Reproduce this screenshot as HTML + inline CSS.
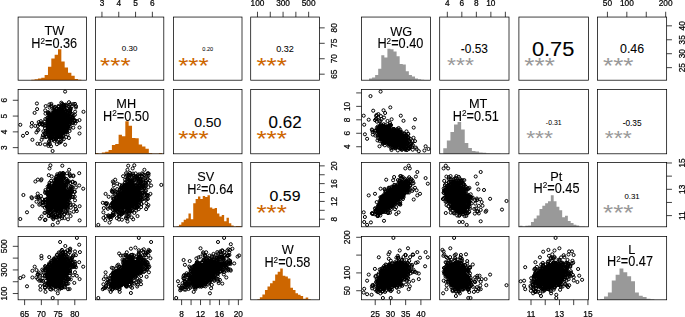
<!DOCTYPE html>
<html lang="en"><head><meta charset="utf-8"><title>Correlation matrices</title>
<style>html,body{margin:0;padding:0;background:#fff}svg{display:block}</style></head>
<body>
<svg width="685" height="317" viewBox="0 0 685 317" font-family='"Liberation Sans", Arial, Helvetica, sans-serif' text-anchor="middle">
<rect width="685" height="317" fill="#fff"/>
<defs><marker id="pt" markerUnits="userSpaceOnUse" markerWidth="5" markerHeight="5" refX="2.5" refY="2.5" overflow="visible"><circle cx="2.5" cy="2.5" r="1.55" fill="none" stroke="#000" stroke-width="1.0"/></marker></defs>
<path d="M31.26 80.20V79.65H34.60V80.20ZM34.60 80.20V79.23H37.94V80.20ZM37.94 80.20V78.54H41.28V80.20ZM41.28 80.20V77.70H44.63V80.20ZM44.63 80.20V75.07H47.97V80.20ZM47.97 80.20V66.75H51.31V80.20ZM51.31 80.20V58.42H54.65V80.20ZM54.65 80.20V54.68H58.00V80.20ZM58.00 80.20V49.13H61.34V80.20ZM61.34 80.20V61.61H64.68V80.20ZM64.68 80.20V67.44H68.02V80.20ZM68.02 80.20V72.71H71.37V80.20ZM71.37 80.20V75.76H74.71V80.20ZM74.71 80.20V79.09H78.05V80.20ZM78.05 80.20V79.65H81.40V80.20Z" fill="#CD6600"/>
<rect x="18.10" y="17.05" width="68.40" height="63.15" fill="none" stroke="#000" stroke-width="0.75"/>
<text transform="translate(129.60 51.41) scale(1 0.975)" font-size="8.0" stroke="#000" stroke-width="0.05">0.30</text>
<text transform="translate(115.35 73.06) scale(1 0.86)" font-size="26.10" fill="#CD6600">***</text>
<rect x="95.40" y="17.05" width="68.40" height="63.15" fill="none" stroke="#000" stroke-width="0.75"/>
<text transform="translate(207.75 50.65) scale(1 1.0)" font-size="5.6" stroke="#000" stroke-width="0.03">0.20</text>
<text transform="translate(193.45 73.06) scale(1 0.86)" font-size="26.10" fill="#CD6600">***</text>
<rect x="173.50" y="17.05" width="68.50" height="63.15" fill="none" stroke="#000" stroke-width="0.75"/>
<text transform="translate(285.05 51.86) scale(1 1.0)" font-size="9.1" stroke="#000" stroke-width="0.05">0.32</text>
<text transform="translate(271.70 73.06) scale(1 0.86)" font-size="26.10" fill="#CD6600">***</text>
<rect x="250.70" y="17.05" width="68.70" height="63.15" fill="none" stroke="#000" stroke-width="0.75"/>
<polyline points="58.4,112.0 56.2,127.6 63.0,136.0 62.5,122.6 63.5,122.8 52.4,137.3 45.0,134.3 48.3,126.0 53.2,122.2 61.6,113.4 60.3,120.8 53.7,131.1 61.5,127.2 62.1,119.0 62.0,117.2 56.5,118.0 60.3,128.9 61.2,125.5 57.0,119.1 47.8,120.6 51.5,115.8 67.2,132.3 59.7,110.0 54.3,119.6 53.2,122.7 53.3,122.1 56.7,133.7 56.9,135.0 73.0,117.8 61.9,127.8 59.4,113.9 55.4,121.9 63.3,125.3 67.3,113.3 53.5,130.4 54.5,124.8 45.0,128.1 61.8,126.2 60.5,119.1 59.4,121.6 53.2,123.8 63.5,119.2 55.2,125.1 58.2,119.1 53.1,130.5 60.0,126.4 67.3,120.1 47.9,112.7 61.6,133.0 61.1,120.4 60.2,123.3 63.3,124.8 70.2,110.9 55.1,124.8 59.3,130.5 48.2,134.3 58.0,114.6 59.1,119.8 61.7,128.1 56.8,125.9 55.4,119.2 65.2,123.5 63.4,125.5 60.4,126.1 61.3,122.2 60.3,131.2 45.2,133.1 59.2,122.5 66.2,119.6 51.2,131.1 56.3,121.5 53.7,122.7 54.7,137.0 59.1,131.5 49.7,123.5 46.0,136.8 69.7,124.3 53.1,131.9 63.7,120.5 76.0,106.2 52.3,120.9 64.3,113.7 60.3,111.8 67.0,119.0 61.7,123.4 60.5,142.0 69.6,104.8 42.2,123.9 57.3,122.0 55.2,121.8 60.1,122.6 54.5,128.8 64.8,118.0 58.9,121.2 54.2,124.9 60.9,125.8 60.4,109.3 60.5,127.7 52.8,125.0 57.9,126.9 66.9,115.2 56.3,116.6 57.9,134.4 49.8,124.9 63.0,104.5 53.6,128.4 67.2,116.2 48.2,129.3 55.3,123.1 55.1,129.8 56.1,115.5 56.9,119.7 51.1,106.5 56.9,144.2 53.3,120.1 64.4,109.5 63.3,133.2 50.0,118.9 57.5,130.8 65.2,125.8 56.0,114.5 49.9,117.5 59.7,130.4 60.3,120.4 63.2,120.3 57.4,120.2 49.9,115.0 49.1,122.1 63.6,133.2 52.0,116.9 61.2,129.1 61.3,119.8 49.2,130.6 54.6,116.7 58.4,124.4 60.3,111.5 58.1,119.0 61.6,134.3 52.0,136.2 57.0,131.4 57.2,113.3 56.5,131.2 67.4,115.3 69.1,125.1 59.7,135.7 37.8,126.0 63.6,120.7 69.8,128.4 48.8,113.8 70.5,118.9 59.6,120.5 64.0,131.7 52.0,124.0 49.7,113.3 56.9,114.0 56.8,120.0 59.6,125.1 53.8,124.6 54.9,122.2 46.5,137.0 60.6,112.4 40.9,121.2 65.8,132.3 53.1,133.7 63.8,130.1 55.3,131.0 56.4,126.4 70.3,121.7 70.0,120.9 53.6,126.8 59.1,120.5 63.9,123.7 60.8,123.5 50.9,121.0 60.2,123.3 54.2,115.5 72.6,122.6 57.2,134.7 64.6,120.7 51.2,114.4 56.1,108.5 58.7,123.9 48.6,120.5 54.1,130.1 53.7,132.0 58.9,121.4 59.5,137.2 54.4,113.9 54.3,137.0 52.2,114.6 61.3,122.1 51.3,140.5 48.8,124.0 75.1,123.5 66.1,129.0 65.9,122.9 66.4,130.8 73.4,104.0 62.3,138.1 49.4,131.7 62.6,119.9 57.4,114.1 55.0,106.8 64.0,117.3 58.6,121.7 59.0,115.2 61.3,102.7 72.0,118.4 70.1,116.7 50.2,117.7 57.2,137.2 52.1,117.3 61.7,109.6 58.7,123.3 61.5,122.6 73.2,123.0 62.1,118.5 48.3,126.1 50.4,133.4 61.9,119.8 43.4,131.3 73.3,127.7 63.7,118.5 55.1,123.1 57.5,121.1 67.4,127.2 60.5,128.1 42.5,137.3 48.6,144.1 54.0,130.7 63.0,128.1 48.9,120.1 68.2,113.3 62.9,130.9 53.1,124.3 67.3,112.4 61.5,123.0 53.2,114.9 48.2,126.4 45.2,110.4 65.8,121.6 59.4,125.3 49.1,141.3 60.8,119.4 54.0,126.7 57.1,132.6 58.6,123.4 58.9,130.4 61.7,123.0 57.8,137.1 36.4,132.4 63.0,122.5 49.2,124.1 65.2,124.4 69.2,106.7 50.4,127.3 48.7,124.8 58.0,124.5 59.6,127.6 43.1,124.3 57.1,124.1 55.2,138.4 55.9,119.4 51.4,123.7 59.9,110.4 62.8,117.4 59.6,124.8 49.2,125.9 55.3,110.4 54.1,132.5 55.9,125.0 51.6,128.6 50.5,126.9 52.1,130.0 63.6,122.4 60.0,119.7 56.1,122.1 64.4,131.4 54.7,120.3 57.4,125.1 61.6,137.0 54.9,120.7 58.6,110.0 48.2,130.3 59.4,117.2 55.7,139.4 67.5,126.2 71.9,114.0 64.1,109.2 60.5,121.6 56.3,121.2 48.6,127.5 51.2,134.9 75.0,120.8 51.0,146.3 48.2,126.4 60.3,119.0 63.9,124.3 56.1,134.0 52.2,134.1 41.5,123.0 54.3,123.9 58.3,131.5 49.3,129.1 61.4,115.8 49.2,122.0 57.9,123.5 60.2,117.1 52.6,125.9 43.0,135.1 55.5,121.3 52.7,124.7 48.2,127.3 57.4,124.9 51.8,126.4 57.8,114.7 69.5,123.3 37.7,130.4 45.5,125.3 64.0,123.2 65.6,119.6 56.2,124.8 57.2,122.6 58.7,120.0 63.1,116.8 56.2,124.7 63.1,133.0 59.7,135.5 63.0,111.0 60.1,111.8 57.5,121.5 53.9,112.0 58.2,136.5 62.0,107.5 65.2,120.5 55.6,116.8 69.9,108.4 47.5,117.9 51.0,138.4 50.4,132.2 56.2,124.7 61.9,129.7 59.2,125.9 55.0,116.3 62.1,124.9 48.5,119.3 45.3,131.8 62.1,109.4 66.1,123.6 62.0,103.8 70.2,126.7 70.6,114.3 52.2,119.7 62.2,120.4 60.7,122.3 71.7,116.8 52.2,134.5 67.7,116.2 63.7,112.8 66.3,125.4 63.2,126.7 66.3,128.9 62.5,119.1 61.9,116.6 59.5,137.2 50.4,124.0 55.0,127.8 60.8,120.2 58.4,122.1 63.3,121.1 52.7,124.7 66.5,121.5 63.8,125.4 63.5,113.0 50.5,132.5 55.4,125.2 50.2,137.6 51.6,130.6 55.1,124.7 61.2,119.8 59.2,121.9 60.6,119.6 62.3,120.2 58.1,130.2 57.7,135.5 56.2,127.6 55.1,127.3 60.8,131.6 60.8,131.1 66.1,114.3 67.8,110.8 50.0,134.8 58.6,124.8 62.1,129.0 55.9,121.3 59.5,112.6 64.6,119.7 57.6,110.8 67.8,117.2 65.0,125.1 57.0,124.3 55.3,120.0 61.3,122.5 51.3,103.9 48.4,130.3 61.5,125.6 49.5,121.2 58.6,121.7 47.8,120.3 54.6,141.1 52.5,128.4 55.3,126.0 53.9,124.9 70.0,118.4 64.5,129.0 61.6,131.1 47.7,129.1 49.1,123.1 55.5,123.2 72.8,119.9 61.4,129.5 51.7,119.7 57.2,126.2 51.6,123.7 66.2,136.9 51.3,122.3 65.9,130.9 50.7,127.4 47.8,128.8 50.3,118.8 56.8,121.6 47.4,117.9 63.5,127.1 65.6,105.5 64.0,105.0 61.6,134.1 62.1,126.4 61.3,121.7 69.1,110.8 55.2,111.5 57.8,122.9 66.1,116.6 53.7,125.1 65.0,120.7 49.9,138.7 67.3,121.0 59.6,124.8 61.7,119.9 63.3,111.4 57.4,133.7 62.0,122.4 67.6,134.7 49.1,131.1 59.7,120.2 65.1,122.5 56.3,116.7 61.1,115.5 60.8,111.2 66.9,121.0 65.2,121.8 57.5,121.0 53.6,122.3 75.9,107.4 67.4,117.5 58.4,106.0 57.1,116.4 65.9,120.2 55.5,125.3 67.7,128.5 70.2,110.0 53.4,123.7 62.1,133.6 48.4,145.9 47.7,130.6 57.3,119.6 63.4,105.0 61.7,106.2 56.6,116.1 61.1,118.8 54.7,117.1 64.4,123.5 56.1,122.2 73.5,115.7 58.8,120.8 53.9,125.3 57.4,120.9 52.8,123.7 62.3,112.3 56.0,116.4 62.2,116.3 70.8,122.1 58.9,112.5 60.2,118.3 60.6,124.2 53.3,123.5 55.2,115.0 58.5,119.6 52.7,110.5 51.0,122.3 59.7,121.0 51.7,134.0 58.8,125.5 47.4,121.5 63.0,121.3 53.3,123.9 48.8,117.9 64.1,125.6 56.9,121.6 51.0,138.1 64.3,128.0 48.8,122.5 48.2,119.6 52.1,129.3 59.8,121.6 44.4,125.7 60.2,118.7 61.0,113.0 63.8,114.9 54.7,120.8 66.0,119.4 55.8,127.0 55.9,122.7 42.5,125.0 60.6,136.7 59.6,136.3 56.4,121.5 53.0,113.4 74.9,114.7 56.5,121.3 57.4,120.4 64.3,118.3 57.3,114.2 61.0,107.8 50.1,137.0 58.6,120.9 59.3,135.0 67.0,124.1 56.0,123.7 64.0,124.8 53.7,121.4 56.5,111.9 59.4,131.6 60.7,116.9 50.3,120.9 64.7,123.3 48.6,114.9 55.1,120.8 68.4,117.3 56.6,125.2 62.2,112.8 53.7,122.6 60.6,126.1 65.6,119.4 56.0,120.9 58.1,118.7 68.0,126.9 60.9,113.1 50.0,137.0 48.6,135.2 49.6,107.6 60.5,111.6 67.8,124.6 53.3,119.9 54.1,109.9 59.2,119.6 60.1,123.8 65.4,124.1 54.8,121.7 65.8,111.1 46.9,125.3 59.2,133.9 52.2,126.5 51.7,129.8 59.6,141.5 54.2,108.2 50.8,134.2 56.6,121.2 49.1,124.5 56.7,121.5 60.6,126.7 61.8,130.6 71.8,106.3 75.1,111.7 57.3,117.4 66.8,118.0 57.0,117.8 47.3,124.0 38.4,129.7 66.5,128.3 50.2,132.3 59.3,142.8 51.3,118.7 61.5,124.1 54.7,137.4 56.6,109.1 60.6,128.9 40.3,143.9 57.3,135.3 58.7,126.6 55.8,115.0 50.7,132.0 58.8,121.0 70.2,113.2 50.8,121.6 45.7,106.1 64.8,131.4 48.6,142.6 56.0,113.8 56.7,125.4 59.6,124.8 55.5,121.9 66.2,131.2 55.2,118.3 57.8,121.3 52.0,133.3 60.5,121.2 63.8,123.8 58.8,124.3 69.0,102.2 62.7,128.1 39.9,123.8 58.7,121.3 63.7,124.7 57.3,130.3 63.0,118.0 38.7,122.1 66.3,123.4 61.7,124.5 53.9,129.1 76.8,121.1 47.8,131.0 53.8,139.3 65.8,111.5 58.7,117.0 71.7,119.4 50.5,118.7 63.1,114.7 54.5,122.9 64.9,120.8 59.0,122.7 57.0,117.7 72.3,117.3 54.6,112.3 66.7,105.6 61.0,114.4 64.5,125.1 60.1,115.5 60.6,123.1 60.1,121.4 59.2,106.6 54.9,118.0 70.6,104.1 67.0,125.0 65.7,129.2 61.9,124.4 57.7,126.4 54.0,123.2 58.1,115.1 63.8,112.1 62.1,124.7 51.3,115.8 59.5,128.7 56.7,117.5 45.5,113.6 54.2,119.6 66.4,122.5 66.7,120.5 64.1,107.2 58.8,117.3 60.5,111.6 56.2,122.8 71.8,122.8 64.4,120.3 59.0,116.7 48.2,132.7 56.0,120.9 57.2,128.9 48.6,125.5 55.6,138.1 56.9,116.1 53.1,123.3 61.2,141.3 57.1,113.5 51.0,134.1 55.1,127.4 60.5,122.1 49.9,120.5 61.8,114.4 75.0,103.9 68.0,118.8 64.3,120.6 46.9,132.5 60.1,121.3 70.2,109.4 59.2,114.0 54.4,122.9 63.7,128.3 51.8,115.1 58.9,130.1 65.8,127.9 57.2,112.5 67.3,113.1 61.6,121.0 61.8,137.4 62.1,119.0 59.0,135.5 51.7,133.3 70.0,119.1 62.2,121.9 48.5,113.5 60.3,121.9 48.3,112.1 53.1,128.7 51.4,123.0 50.2,124.7 59.1,121.7 65.1,118.9 61.2,111.2 69.6,131.0 63.8,139.1 49.0,131.5 48.1,124.0 59.2,112.5 56.0,119.3 58.8,113.8 60.4,119.5 64.2,105.2 48.8,121.7 57.1,113.0 59.9,124.5 57.2,120.5 65.7,123.5 56.2,123.4 74.8,120.2 59.9,131.6 56.8,129.6 55.5,124.8 60.2,123.4 57.9,117.8 54.9,123.0 52.6,125.8 48.6,132.2 54.5,126.8 51.6,129.1 58.0,131.2 64.9,108.9 56.0,126.0 54.9,123.8 50.5,126.1 62.2,123.4 65.1,121.8 60.3,116.0 59.0,125.3 51.1,118.4 54.8,122.5 49.5,121.0 53.3,132.9 54.4,108.0 65.4,110.3 61.0,120.7 65.9,104.6 61.5,114.2 59.7,121.6 58.6,121.3 62.4,126.1 63.2,127.6 51.5,105.6 62.4,124.7 51.7,129.3 57.0,124.1 52.4,124.2 61.9,127.0 59.7,123.7 60.5,121.7 56.3,112.4 55.8,121.4 60.0,122.2 48.6,123.7 60.1,126.6 60.7,127.2 60.8,131.2 55.1,125.8 74.4,121.0 47.6,131.3 55.8,121.6 39.3,124.4 53.4,129.9 54.2,125.5 63.2,106.9 59.1,115.6 59.9,111.0 60.6,123.5 70.9,108.5 53.3,139.4 57.2,132.5 59.2,136.7 49.9,144.2 55.6,111.1 59.6,116.7 56.7,119.7 55.5,124.1 58.8,122.5 54.8,116.9 61.0,131.8 58.8,118.6 59.0,127.8 63.0,117.2 67.8,126.8 62.3,120.1 58.1,124.4 69.1,122.2 59.9,127.4 57.8,122.3 45.0,144.5 62.6,118.1 63.3,123.4 55.0,129.8 59.7,123.8 66.2,121.2 52.7,137.1 62.7,114.9 55.9,116.1 62.7,122.2 66.8,108.3 59.9,115.7 51.7,127.7 41.6,139.8 53.5,137.3 60.3,128.2 44.5,137.1 63.1,126.4 58.7,126.6 61.5,114.1 56.3,121.9 48.3,124.7 50.7,135.2 60.0,127.3 58.8,106.5 54.6,115.2 56.0,139.8 61.2,111.3 59.7,126.5 53.0,132.4 53.8,127.7 59.3,132.1 45.0,121.3 51.7,120.2 64.3,130.5 68.6,120.0 55.2,112.7 59.2,116.3 45.3,119.1 58.4,109.4 52.5,128.6 56.1,121.1 61.6,111.4 60.5,135.9 60.9,128.6 62.7,132.4 59.9,118.8 60.9,115.5 56.7,122.7 61.3,135.8 56.2,128.5 56.2,138.6 52.8,123.7 51.0,126.2 50.1,117.3 56.3,112.9 66.7,124.3 57.5,117.9 65.1,91.6 36.9,103.5 49.4,104.4 37.1,109.1 34.6,112.9 20.3,124.8 31.9,123.0 31.5,126.4 35.3,125.9 27.0,133.1 23.0,135.8 32.4,139.8 37.5,143.8 52.6,151.0 83.5,111.8 79.5,120.1 79.5,127.5 79.5,133.5 65.1,144.7 68.9,138.0" fill="none" stroke="none" marker-start="url(#pt)" marker-mid="url(#pt)" marker-end="url(#pt)"/>
<rect x="18.10" y="89.55" width="68.40" height="64.25" fill="none" stroke="#000" stroke-width="0.75"/>
<path d="M95.11 153.80V152.97H98.47V153.80ZM98.47 153.80V153.52H101.82V153.80ZM101.82 153.80V152.41H105.18V153.80ZM105.18 153.80V151.86H108.54V153.80ZM108.54 153.80V150.06H111.89V153.80ZM111.89 153.80V144.92H115.25V153.80ZM115.25 153.80V144.09H118.60V153.80ZM118.60 153.80V134.80H121.96V153.80ZM121.96 153.80V136.19H125.32V153.80ZM125.32 153.80V121.21H128.67V153.80ZM128.67 153.80V125.78H132.03V153.80ZM132.03 153.80V137.99H135.39V153.80ZM135.39 153.80V138.27H138.74V153.80ZM138.74 153.80V144.51H142.10V153.80ZM142.10 153.80V146.59H145.46V153.80ZM145.46 153.80V148.81H148.81V153.80ZM148.81 153.80V152.97H152.17V153.80ZM152.17 153.80V153.52H155.53V153.80ZM155.53 153.80V153.52H158.88V153.80ZM158.88 153.80V152.97H162.24V153.80Z" fill="#CD6600"/>
<rect x="95.40" y="89.55" width="68.40" height="64.25" fill="none" stroke="#000" stroke-width="0.75"/>
<text transform="translate(207.75 127.38) scale(1 0.914)" font-size="14.0" stroke="#000" stroke-width="0.08">0.50</text>
<text transform="translate(193.45 146.26) scale(1 0.86)" font-size="26.10" fill="#CD6600">***</text>
<rect x="173.50" y="89.55" width="68.50" height="64.25" fill="none" stroke="#000" stroke-width="0.75"/>
<text transform="translate(285.05 128.41) scale(1 0.929)" font-size="17.0" stroke="#000" stroke-width="0.10">0.62</text>
<text transform="translate(271.70 146.26) scale(1 0.86)" font-size="26.10" fill="#CD6600">***</text>
<rect x="250.70" y="89.55" width="68.70" height="64.25" fill="none" stroke="#000" stroke-width="0.75"/>
<polyline points="58.4,179.0 56.2,195.8 63.0,191.1 62.5,200.1 63.5,198.2 52.4,202.7 45.0,207.8 48.3,192.9 53.2,191.2 61.6,193.7 60.3,185.4 53.7,216.1 61.5,187.3 62.1,185.3 62.0,207.5 56.5,198.3 60.3,195.8 61.2,189.3 57.0,182.7 47.8,192.9 51.5,204.2 67.2,204.4 59.7,173.4 54.3,180.2 53.2,197.8 53.3,194.7 56.7,206.9 56.9,193.3 73.0,197.1 61.9,202.4 59.4,192.2 55.4,214.1 63.3,193.9 67.3,180.7 53.5,205.7 54.5,197.0 45.0,199.8 61.8,205.0 60.5,189.6 59.4,207.9 53.2,202.4 63.5,192.0 55.2,203.2 58.2,205.5 53.1,203.8 60.0,207.5 67.3,204.3 47.9,204.9 61.6,200.5 61.1,186.5 60.2,192.3 63.3,206.6 70.2,194.4 55.1,198.3 59.3,206.8 48.2,197.8 58.0,195.0 59.1,198.9 61.7,212.2 56.8,191.2 55.4,186.3 65.2,190.9 63.4,193.8 60.4,185.2 61.3,206.0 60.3,197.1 45.2,202.2 59.2,193.2 66.2,192.2 51.2,189.4 56.3,200.7 53.7,210.1 54.7,206.7 59.1,199.1 49.7,201.2 46.0,202.4 69.7,196.1 53.1,203.3 63.7,201.8 76.0,209.1 52.3,198.0 64.3,189.8 60.3,185.4 67.0,194.9 61.7,187.8 60.5,208.8 69.6,173.9 42.2,199.1 57.3,208.3 55.2,193.2 60.1,190.3 54.5,185.4 64.8,198.6 58.9,190.9 54.2,184.3 60.9,195.5 60.4,185.7 60.5,195.7 52.8,201.3 57.9,186.8 66.9,193.4 56.3,193.1 57.9,202.6 49.8,200.2 63.0,198.9 53.6,202.6 67.2,199.2 48.2,194.3 55.3,188.2 55.1,198.0 56.1,176.9 56.9,210.6 51.1,180.8 56.9,203.1 53.3,189.3 64.4,186.8 63.3,202.2 50.0,199.1 57.5,199.5 65.2,195.9 56.0,190.9 49.9,187.8 59.7,209.2 60.3,201.9 63.2,185.4 57.4,196.0 49.9,200.2 49.1,185.7 63.6,208.4 52.0,192.9 61.2,207.5 61.3,189.8 49.2,201.5 54.6,183.1 58.4,188.7 60.3,194.2 58.1,190.6 61.6,210.1 52.0,214.7 57.0,200.6 57.2,189.1 56.5,196.0 67.4,208.3 69.1,189.3 59.7,200.5 37.8,179.6 63.6,198.2 69.8,195.2 48.8,175.2 70.5,195.4 59.6,180.8 64.0,214.5 52.0,206.8 49.7,201.4 56.9,204.2 56.8,191.6 59.6,194.9 53.8,195.9 54.9,183.2 46.5,206.4 60.6,193.4 40.9,196.0 65.8,192.9 53.1,197.0 63.8,194.5 55.3,200.5 56.4,194.3 70.3,204.8 70.0,202.6 53.6,186.2 59.1,196.2 63.9,196.7 60.8,178.1 50.9,204.0 60.2,203.7 54.2,199.6 72.6,181.6 57.2,200.5 64.6,183.7 51.2,191.8 56.1,179.4 58.7,199.5 48.6,204.2 54.1,195.8 53.7,206.3 58.9,199.1 59.5,191.9 54.4,190.6 54.3,203.9 52.2,202.7 61.3,190.5 51.3,216.7 48.8,204.3 75.1,206.3 66.1,212.3 65.9,203.4 66.4,204.4 73.4,175.5 62.3,203.3 49.4,205.6 62.6,202.9 57.4,200.3 55.0,183.2 64.0,189.1 58.6,202.0 59.0,186.5 61.3,180.7 72.0,191.2 70.1,189.3 50.2,197.0 57.2,213.4 52.1,206.1 61.7,180.0 58.7,187.0 61.5,194.9 73.2,194.2 62.1,190.3 48.3,209.8 50.4,204.2 61.9,181.1 43.4,205.2 73.3,176.2 63.7,173.6 55.1,208.0 57.5,193.2 67.4,191.9 60.5,200.0 42.5,205.5 48.6,216.0 54.0,195.1 63.0,199.5 48.9,195.5 68.2,182.0 62.9,204.5 53.1,195.4 67.3,192.5 61.5,184.2 53.2,195.4 48.2,207.3 45.2,192.9 65.8,191.5 59.4,194.8 49.1,215.9 60.8,211.2 54.0,204.8 57.1,209.6 58.6,176.5 58.9,204.4 61.7,193.9 57.8,215.3 36.4,197.2 63.0,175.1 49.2,185.9 65.2,206.9 69.2,191.3 50.4,196.0 48.7,199.4 58.0,193.7 59.6,196.9 43.1,201.8 57.1,196.6 55.2,190.8 55.9,192.2 51.4,201.6 59.9,196.5 62.8,175.5 59.6,196.8 49.2,201.7 55.3,183.3 54.1,205.2 55.9,190.8 51.6,206.2 50.5,194.9 52.1,201.1 63.6,206.8 60.0,192.7 56.1,187.5 64.4,194.9 54.7,192.6 57.4,197.1 61.6,206.6 54.9,196.0 58.6,199.7 48.2,201.3 59.4,203.7 55.7,207.5 67.5,182.9 71.9,186.6 64.1,174.3 60.5,199.3 56.3,210.5 48.6,205.8 51.2,206.0 75.0,200.3 51.0,212.3 48.2,209.9 60.3,191.0 63.9,195.1 56.1,198.9 52.2,197.3 41.5,179.3 54.3,194.3 58.3,196.2 49.3,199.7 61.4,187.7 49.2,184.5 57.9,184.4 60.2,200.4 52.6,201.1 43.0,202.7 55.5,190.6 52.7,202.1 48.2,207.4 57.4,202.4 51.8,206.1 57.8,204.5 69.5,198.5 37.7,193.6 45.5,199.6 64.0,194.0 65.6,184.3 56.2,205.8 57.2,205.9 58.7,202.1 63.1,194.6 56.2,203.2 63.1,205.3 59.7,194.5 63.0,197.3 60.1,179.3 57.5,211.2 53.9,197.3 58.2,185.3 62.0,193.4 65.2,205.1 55.6,196.4 69.9,175.2 47.5,192.6 51.0,215.2 50.4,207.6 56.2,186.7 61.9,198.4 59.2,207.0 55.0,185.0 62.1,194.7 48.5,192.2 45.3,212.9 62.1,192.9 66.1,210.6 62.0,173.6 70.2,197.3 70.6,216.1 52.2,199.8 62.2,203.2 60.7,190.5 71.7,189.0 52.2,202.5 67.7,201.8 63.7,187.5 66.3,193.6 63.2,189.8 66.3,207.2 62.5,193.3 61.9,176.8 59.5,215.4 50.4,189.4 55.0,199.6 60.8,192.5 58.4,179.9 63.3,199.6 52.7,204.0 66.5,185.0 63.8,197.4 63.5,188.9 50.5,200.2 55.4,202.3 50.2,206.4 51.6,210.9 55.1,206.7 61.2,199.2 59.2,181.4 60.6,197.3 62.3,195.2 58.1,199.7 57.7,206.9 56.2,196.6 55.1,187.2 60.8,197.6 60.8,184.8 66.1,206.5 67.8,204.2 50.0,209.9 58.6,202.1 62.1,188.2 55.9,180.6 59.5,185.8 64.6,189.6 57.6,207.1 67.8,199.2 65.0,192.6 57.0,189.1 55.3,205.8 61.3,198.7 51.3,195.6 48.4,189.9 61.5,182.4 49.5,200.6 58.6,195.9 47.8,198.2 54.6,217.5 52.5,213.4 55.3,200.9 53.9,197.0 70.0,193.1 64.5,214.0 61.6,191.7 47.7,186.6 49.1,186.9 55.5,195.7 72.8,182.1 61.4,207.1 51.7,201.1 57.2,199.2 51.6,205.8 66.2,203.1 51.3,195.2 65.9,196.8 50.7,204.2 47.8,205.6 50.3,210.0 56.8,203.1 47.4,194.2 63.5,205.9 65.6,195.9 64.0,206.7 61.6,200.9 62.1,196.7 61.3,200.3 69.1,181.4 55.2,184.6 57.8,200.0 66.1,195.5 53.7,192.9 65.0,202.3 49.9,207.9 67.3,205.3 59.6,201.5 61.7,180.3 63.3,193.8 57.4,205.0 62.0,212.7 67.6,209.3 49.1,202.9 59.7,205.9 65.1,193.5 56.3,190.9 61.1,185.3 60.8,188.4 66.9,189.7 65.2,201.0 57.5,192.6 53.6,193.7 75.9,187.5 67.4,207.2 58.4,203.3 57.1,196.2 65.9,184.8 55.5,203.4 67.7,213.3 70.2,176.2 53.4,218.3 62.1,218.2 48.4,208.1 47.7,205.7 57.3,184.7 63.4,195.0 61.7,184.6 56.6,198.3 61.1,180.2 54.7,206.8 64.4,190.5 56.1,196.6 73.5,204.9 58.8,188.1 53.9,195.1 57.4,203.3 52.8,200.2 62.3,176.0 56.0,204.6 62.2,202.0 70.8,207.7 58.9,190.4 60.2,183.7 60.6,202.7 53.3,203.9 55.2,191.9 58.5,188.7 52.7,187.2 51.0,201.4 59.7,202.5 51.7,201.5 58.8,198.6 47.4,205.2 63.0,173.0 53.3,185.9 48.8,202.7 64.1,202.4 56.9,204.2 51.0,191.8 64.3,200.3 48.8,203.7 48.2,189.0 52.1,191.4 59.8,205.3 44.4,201.2 60.2,194.2 61.0,189.2 63.8,178.5 54.7,191.9 66.0,192.8 55.8,192.7 55.9,201.7 42.5,202.4 60.6,182.7 59.6,199.1 56.4,183.2 53.0,188.4 74.9,191.7 56.5,194.1 57.4,191.3 64.3,187.7 57.3,207.1 61.0,174.7 50.1,199.4 58.6,192.1 59.3,191.5 67.0,198.9 56.0,200.2 64.0,185.5 53.7,188.2 56.5,199.6 59.4,219.5 60.7,187.5 50.3,185.5 64.7,195.3 48.6,200.6 55.1,192.4 68.4,196.3 56.6,205.6 62.2,174.4 53.7,207.6 60.6,199.9 65.6,197.1 56.0,196.9 58.1,204.6 68.0,204.2 60.9,209.1 50.0,202.2 48.6,208.6 49.6,182.7 60.5,200.8 67.8,201.3 53.3,202.5 54.1,188.2 59.2,194.1 60.1,190.3 65.4,211.5 54.8,198.2 65.8,182.4 46.9,207.0 59.2,211.9 52.2,194.6 51.7,188.1 59.6,215.4 54.2,188.2 50.8,209.1 56.6,194.5 49.1,197.3 56.7,203.4 60.6,203.3 61.8,194.3 71.8,190.4 75.1,183.5 57.3,188.2 66.8,201.9 57.0,199.1 47.3,211.5 38.4,196.8 66.5,185.7 50.2,207.4 59.3,203.3 51.3,198.3 61.5,187.2 54.7,209.7 56.6,187.0 60.6,201.9 40.3,203.8 57.3,208.4 58.7,185.7 55.8,206.9 50.7,208.1 58.8,194.4 70.2,183.0 50.8,196.8 45.7,199.9 64.8,205.9 48.6,207.3 56.0,178.6 56.7,203.0 59.6,200.6 55.5,197.3 66.2,203.0 55.2,192.0 57.8,191.9 52.0,189.1 60.5,200.5 63.8,182.3 58.8,199.0 69.0,193.9 62.7,205.1 39.9,199.7 58.7,175.2 63.7,195.2 57.3,207.6 63.0,199.6 38.7,198.4 66.3,188.1 61.7,195.5 53.9,203.8 76.8,211.1 47.8,202.6 53.8,204.9 65.8,197.6 58.7,206.8 71.7,192.0 50.5,192.9 63.1,207.0 54.5,203.3 64.9,197.5 59.0,215.7 57.0,180.3 72.3,187.4 54.6,193.3 66.7,199.1 61.0,179.9 64.5,218.1 60.1,210.5 60.6,195.3 60.1,206.4 59.2,186.3 54.9,195.2 70.6,187.2 67.0,173.3 65.7,199.7 61.9,174.9 57.7,200.8 54.0,203.4 58.1,185.8 63.8,199.4 62.1,190.2 51.3,194.5 59.5,196.2 56.7,203.6 45.5,190.0 54.2,195.6 66.4,197.2 66.7,192.6 64.1,195.0 58.8,177.6 60.5,200.3 56.2,194.3 71.8,196.8 64.4,190.4 59.0,200.3 48.2,211.9 56.0,202.9 57.2,192.8 48.6,213.1 55.6,215.4 56.9,196.2 53.1,216.8 61.2,196.8 57.1,205.3 51.0,204.8 55.1,201.8 60.5,204.7 49.9,202.5 61.8,177.4 75.0,182.8 68.0,197.1 64.3,204.8 46.9,192.8 60.1,185.4 70.2,192.7 59.2,198.4 54.4,194.9 63.7,200.4 51.8,195.7 58.9,195.9 65.8,200.6 57.2,176.0 67.3,181.0 61.6,189.4 61.8,189.3 62.1,193.2 59.0,207.5 51.7,183.6 70.0,191.0 62.2,207.3 48.5,195.9 60.3,191.5 48.3,197.9 53.1,200.8 51.4,203.3 50.2,193.0 59.1,202.9 65.1,197.6 61.2,181.8 69.6,212.7 63.8,205.8 49.0,204.9 48.1,193.2 59.2,189.0 56.0,197.6 58.8,198.9 60.4,183.9 64.2,177.5 48.8,200.5 57.1,179.8 59.9,208.2 57.2,174.3 65.7,206.4 56.2,201.2 74.8,196.7 59.9,216.2 56.8,209.0 55.5,212.2 60.2,208.0 57.9,207.2 54.9,192.3 52.6,194.1 48.6,200.8 54.5,202.1 51.6,200.2 58.0,206.4 64.9,185.7 56.0,210.2 54.9,194.6 50.5,201.2 62.2,200.0 65.1,203.9 60.3,173.4 59.0,198.5 51.1,194.3 54.8,192.1 49.5,196.0 53.3,206.7 54.4,191.7 65.4,203.9 61.0,188.8 65.9,179.0 61.5,189.6 59.7,207.6 58.6,200.5 62.4,196.1 63.2,207.1 51.5,194.8 62.4,216.4 51.7,214.4 57.0,206.8 52.4,200.4 61.9,196.9 59.7,197.9 60.5,195.5 56.3,185.6 55.8,186.3 60.0,204.4 48.6,201.4 60.1,191.1 60.7,212.0 60.8,193.5 55.1,202.8 74.4,191.9 47.6,201.7 55.8,199.7 39.3,204.7 53.4,198.0 54.2,202.8 63.2,178.5 59.1,201.5 59.9,197.5 60.6,203.2 70.9,186.7 53.3,219.2 57.2,196.5 59.2,206.2 49.9,193.9 55.6,179.8 59.6,179.3 56.7,217.4 55.5,200.0 58.8,198.2 54.8,207.3 61.0,205.5 58.8,175.6 59.0,201.0 63.0,200.1 67.8,193.1 62.3,181.7 58.1,188.0 69.1,198.7 59.9,192.5 57.8,200.7 45.0,220.1 62.6,195.2 63.3,197.5 55.0,206.0 59.7,188.7 66.2,197.1 52.7,198.4 62.7,196.7 55.9,192.7 62.7,177.1 66.8,198.5 59.9,203.1 51.7,188.3 41.6,216.5 53.5,196.5 60.3,187.6 44.5,212.9 63.1,204.1 58.7,199.5 61.5,197.1 56.3,203.0 48.3,201.9 50.7,209.3 60.0,197.6 58.8,182.9 54.6,203.2 56.0,217.1 61.2,188.4 59.7,203.7 53.0,193.1 53.8,192.7 59.3,205.8 45.0,200.2 51.7,176.4 64.3,200.0 68.6,202.7 55.2,185.3 59.2,197.7 45.3,191.9 58.4,198.5 52.5,211.1 56.1,201.4 61.6,183.1 60.5,206.6 60.9,193.8 62.7,206.4 59.9,195.0 60.9,205.3 56.7,188.3 61.3,210.2 56.2,205.0 56.2,216.9 52.8,193.1 51.0,200.8 50.1,212.9 56.3,186.0 66.7,179.2 57.5,193.2 50.4,165.3 49.5,168.4 62.3,165.7 69.1,169.8 79.2,173.2 35.4,181.5 41.0,180.4 83.2,188.7 79.2,185.5 23.4,195.0 31.5,197.2 32.0,198.3 37.6,197.2 36.5,201.7 32.4,206.2 27.0,212.3 20.3,219.0 39.9,218.6 45.5,219.7 52.7,224.9 57.8,222.6 79.6,220.4 79.6,206.2 73.6,211.8 68.0,219.3" fill="none" stroke="none" marker-start="url(#pt)" marker-mid="url(#pt)" marker-end="url(#pt)"/>
<rect x="18.10" y="162.45" width="68.40" height="64.35" fill="none" stroke="#000" stroke-width="0.75"/>
<polyline points="139.8,179.0 123.3,195.8 114.4,191.1 128.6,200.1 128.4,198.2 112.9,202.7 116.2,207.8 125.0,192.9 129.1,191.2 138.4,193.7 130.5,185.4 119.6,216.1 123.8,187.3 132.5,185.3 134.4,207.5 133.5,198.3 121.9,195.8 125.5,189.3 132.3,182.7 130.8,192.9 135.8,204.2 118.3,204.4 142.0,173.4 131.8,180.2 128.5,197.8 129.1,194.7 116.8,206.9 115.4,193.3 133.7,197.1 123.1,202.4 137.8,192.2 129.4,214.1 125.7,193.9 138.5,180.7 120.4,205.7 126.2,197.0 122.8,199.8 124.7,205.0 132.3,189.6 129.7,207.9 127.3,202.4 132.2,192.0 125.9,203.2 132.4,205.5 120.2,203.8 124.6,207.5 131.3,204.3 139.2,204.9 117.5,200.5 130.9,186.5 127.9,192.3 126.3,206.6 141.0,194.4 126.2,198.3 120.2,206.8 116.2,197.8 137.2,195.0 131.6,198.9 122.7,212.2 125.1,191.2 132.2,186.3 127.6,190.9 125.5,193.8 124.9,185.2 129.0,206.0 119.5,197.1 117.4,202.2 128.7,193.2 131.8,192.2 119.6,189.4 129.8,200.7 128.5,210.1 113.3,206.7 119.1,199.1 127.6,201.2 113.5,202.4 126.8,196.1 118.7,203.3 130.8,201.8 146.1,209.1 130.5,198.0 138.1,189.8 140.2,185.4 132.4,194.9 127.8,187.8 107.9,208.8 147.6,173.9 127.2,199.1 129.3,208.3 129.5,193.2 128.6,190.3 122.0,185.4 133.5,198.6 130.1,190.9 126.1,184.3 125.2,195.5 142.8,185.7 123.2,195.7 126.0,201.3 124.0,186.8 136.5,193.4 135.0,193.1 116.1,202.6 126.1,200.2 147.9,198.9 122.5,202.6 135.4,199.2 121.4,194.3 128.1,188.2 120.9,198.0 136.2,176.9 131.7,210.6 145.8,180.8 105.6,203.1 131.3,189.3 142.5,186.8 117.4,202.2 132.5,199.1 119.9,199.5 125.2,195.9 137.2,190.9 134.1,187.8 120.3,209.2 130.9,201.9 131.0,185.4 131.2,196.0 136.7,200.2 129.2,185.7 117.4,208.4 134.7,192.9 121.7,207.5 131.6,189.8 120.0,201.5 134.9,183.1 126.7,188.7 140.4,194.2 132.5,190.6 116.1,210.1 114.2,214.7 119.3,200.6 138.5,189.1 119.4,196.0 136.3,208.3 126.0,189.3 114.6,200.5 125.0,179.6 130.7,198.2 122.4,195.2 137.9,175.2 132.5,195.4 130.8,180.8 118.9,214.5 127.1,206.8 138.5,201.4 137.8,204.2 131.4,191.6 126.0,194.9 126.5,195.9 129.1,183.2 113.3,206.4 139.5,193.4 130.1,196.0 118.3,192.9 116.8,197.0 120.6,194.5 119.7,200.5 124.6,194.3 129.6,204.8 130.4,202.6 124.2,186.2 130.8,196.2 127.4,196.7 127.7,178.1 130.3,204.0 127.9,203.7 136.2,199.6 128.6,181.6 115.7,200.5 130.7,183.7 137.3,191.8 143.7,179.4 127.3,199.5 130.9,204.2 120.6,195.8 118.6,206.3 129.9,199.1 113.0,191.9 137.9,190.6 113.3,203.9 137.1,202.7 129.1,190.5 109.5,216.7 127.1,204.3 127.7,206.3 121.8,212.3 128.3,203.4 119.9,204.4 148.4,175.5 112.1,203.3 118.9,205.6 131.5,202.9 137.7,200.3 145.4,183.2 134.2,189.1 129.6,202.0 136.5,186.5 149.8,180.7 133.1,191.2 134.9,189.3 133.8,197.0 113.0,213.4 134.3,206.1 142.5,180.0 127.9,187.0 128.6,194.9 128.2,194.2 133.0,190.3 124.8,209.8 117.2,204.2 131.6,181.1 119.4,205.2 123.1,176.2 133.0,173.6 128.1,208.0 130.2,193.2 123.7,191.9 122.7,200.0 113.0,205.5 105.7,216.0 120.0,195.1 122.7,199.5 131.3,195.5 138.5,182.0 119.8,204.5 126.8,195.4 139.4,192.5 128.2,184.2 136.8,195.4 124.6,207.3 141.7,192.9 129.7,191.5 125.7,194.8 108.7,215.9 132.1,211.2 124.2,204.8 117.9,209.6 127.7,176.5 120.3,204.4 128.2,193.9 113.2,215.3 118.2,197.2 128.8,175.1 127.0,185.9 126.7,206.9 145.6,191.3 123.6,196.0 126.3,199.4 126.6,193.7 123.3,196.9 126.8,201.8 127.1,196.6 111.8,190.8 132.0,192.2 127.4,201.6 141.6,196.5 134.1,175.5 126.3,196.8 125.1,201.7 141.6,183.3 118.1,205.2 126.0,190.8 122.2,206.2 124.0,194.9 120.8,201.1 128.8,206.8 131.7,192.7 129.1,187.5 119.2,194.9 131.0,192.6 126.0,197.1 113.3,206.6 130.6,196.0 142.0,199.7 120.4,201.3 134.4,203.7 110.7,207.5 124.8,182.9 137.8,186.6 142.9,174.3 129.7,199.3 130.1,210.5 123.4,205.8 115.5,206.0 130.5,200.3 103.4,212.3 124.6,209.9 132.4,191.0 126.8,195.1 116.4,198.9 116.4,197.3 128.2,179.3 127.3,194.3 119.1,196.2 121.7,199.7 135.9,187.7 129.3,184.5 127.6,184.4 134.5,200.4 125.1,201.1 115.3,202.7 130.0,190.6 126.3,202.1 123.6,207.4 126.2,202.4 124.6,206.1 137.0,204.5 127.9,198.5 120.4,193.6 125.7,199.6 128.0,194.0 131.8,184.3 126.3,205.8 128.7,205.9 131.4,202.1 134.8,194.6 126.4,203.2 117.6,205.3 114.9,194.5 141.0,197.3 140.1,179.3 129.7,211.2 139.9,197.3 113.8,185.3 144.7,193.4 130.8,205.1 134.8,196.4 143.8,175.2 133.6,192.6 111.8,215.2 118.4,207.6 126.4,186.7 121.1,198.4 125.1,207.0 135.3,185.0 126.1,194.7 132.1,192.2 118.8,212.9 142.7,192.9 127.6,210.6 148.7,173.6 124.3,197.3 137.5,216.1 131.7,199.8 130.9,203.2 128.9,190.5 134.8,189.0 116.0,202.5 135.4,201.8 139.1,187.5 125.7,193.6 124.2,189.8 121.9,207.2 132.3,193.3 135.0,176.8 113.0,215.4 127.1,189.4 123.0,199.6 131.2,192.5 129.1,179.9 130.2,199.6 126.4,204.0 129.8,185.0 125.7,197.4 138.8,188.9 118.0,200.2 125.8,202.3 112.7,206.4 120.1,210.9 126.4,206.7 131.6,199.2 129.3,181.4 131.8,197.3 131.2,195.2 120.5,199.7 114.9,206.9 123.3,196.6 123.6,187.2 119.0,197.6 119.6,184.8 137.4,206.5 141.2,204.2 115.6,209.9 126.2,202.1 121.8,188.2 130.0,180.6 139.2,185.8 131.7,189.6 141.1,207.1 134.4,199.2 126.0,192.6 126.8,189.1 131.4,205.8 128.7,198.7 148.6,195.6 120.4,189.9 125.4,182.4 130.1,200.6 129.6,195.9 131.0,198.2 109.0,217.5 122.4,213.4 125.0,200.9 126.1,197.0 133.1,193.1 121.7,214.0 119.6,191.7 121.7,186.6 128.1,186.9 128.0,195.7 131.4,182.1 121.3,207.1 131.7,201.1 124.8,199.2 127.4,205.8 113.4,203.1 128.9,195.2 119.8,196.8 123.5,204.2 122.0,205.6 132.6,210.0 129.7,203.1 133.7,194.2 123.8,205.9 146.9,195.9 147.4,206.7 116.4,200.9 124.6,196.7 129.6,200.3 141.1,181.4 140.5,184.6 128.3,200.0 135.0,195.5 125.9,192.9 130.7,202.3 111.5,207.9 130.3,205.3 126.2,201.5 131.5,180.3 140.5,193.8 116.8,205.0 128.8,212.7 115.7,209.3 119.6,202.9 131.1,205.9 128.7,193.5 134.9,190.9 136.1,185.3 140.8,188.4 130.3,189.7 129.5,201.0 130.3,192.6 128.9,193.7 144.8,187.5 134.1,207.2 146.3,203.3 135.2,196.2 131.2,184.8 125.7,203.4 122.3,213.3 142.0,176.2 127.4,218.3 116.9,218.2 103.8,208.1 120.1,205.7 131.8,184.7 147.3,195.0 146.0,184.6 135.5,198.3 132.7,180.2 134.5,206.8 127.7,190.5 129.0,196.6 135.9,204.9 130.6,188.1 125.7,195.1 130.4,203.3 127.4,200.2 139.6,176.0 135.3,204.6 135.3,202.0 129.1,207.7 139.4,190.4 133.2,183.7 126.9,202.7 127.6,203.9 136.7,191.9 131.8,188.7 141.5,187.2 128.9,201.4 130.3,202.5 116.4,201.5 125.6,198.6 129.7,205.2 130.0,173.0 127.2,185.9 133.6,202.7 125.4,202.4 129.7,204.2 112.1,191.8 122.9,200.3 128.8,203.7 131.8,189.0 121.5,191.4 129.6,205.3 125.3,201.2 132.8,194.2 138.8,189.2 136.8,178.5 130.6,191.9 132.0,192.8 123.9,192.7 128.5,201.7 126.1,202.4 113.6,182.7 114.0,199.1 129.8,183.2 138.4,188.4 137.1,191.7 130.0,194.1 131.0,191.3 133.2,187.7 137.6,207.1 144.4,174.7 113.3,199.4 130.4,192.1 115.4,191.5 127.0,198.9 127.5,200.2 126.3,185.5 129.9,188.2 140.0,199.6 119.0,219.5 134.6,187.5 130.4,185.5 127.9,195.3 136.9,200.6 130.5,192.4 134.2,196.3 125.8,205.6 139.0,174.4 128.6,207.6 124.9,199.9 132.1,197.1 130.4,196.9 132.8,204.6 124.0,204.2 138.7,209.1 113.3,202.2 115.2,208.6 144.6,182.7 140.3,200.8 126.5,201.3 131.5,202.5 142.2,188.2 131.8,194.1 127.4,190.3 127.0,211.5 129.6,198.2 140.9,182.4 125.8,207.0 116.6,211.9 124.5,194.6 121.0,188.1 108.5,215.4 144.0,188.2 116.3,209.1 130.1,194.5 126.5,197.3 129.8,203.4 124.3,203.3 120.1,194.3 145.9,190.4 140.3,183.5 134.1,188.2 133.5,201.9 133.8,199.1 127.1,211.5 121.0,196.8 122.5,185.7 118.3,207.4 107.1,203.3 132.8,198.3 127.0,187.2 112.9,209.7 143.0,187.0 121.9,201.9 106.0,203.8 115.1,208.4 124.4,185.7 136.7,206.9 118.6,208.1 130.4,194.4 138.6,183.0 129.7,196.8 146.2,199.9 119.2,205.9 107.4,207.3 138.0,178.6 125.6,203.0 126.3,200.6 129.3,197.3 119.4,203.0 133.2,192.0 130.0,191.9 117.2,189.1 130.1,200.5 127.4,182.3 126.8,199.0 150.4,193.9 122.8,205.1 127.4,199.7 130.0,175.2 126.4,195.2 120.4,207.6 133.6,199.6 129.2,198.4 127.8,188.1 126.6,195.5 121.7,203.8 130.3,211.1 119.7,202.6 110.8,204.9 140.5,197.6 134.6,206.8 132.0,192.0 132.7,192.9 137.1,207.0 128.3,203.3 130.5,197.5 128.5,215.7 133.9,180.3 134.3,187.4 139.5,193.3 146.7,199.1 137.3,179.9 125.9,218.1 136.2,210.5 128.1,195.3 129.9,206.4 145.6,186.3 133.5,195.2 148.3,187.2 126.0,173.3 121.6,199.7 126.7,174.9 124.6,200.8 128.0,203.4 136.6,185.8 139.8,199.4 126.4,190.2 135.8,194.5 122.1,196.2 134.0,203.6 138.2,190.0 131.9,195.6 128.7,197.2 130.8,192.6 145.0,195.0 134.3,177.6 140.3,200.3 128.4,194.3 128.4,196.8 131.1,190.4 134.9,200.3 117.9,211.9 130.4,202.9 121.9,192.8 125.5,213.1 112.1,215.4 135.5,196.2 127.8,216.8 108.7,196.8 138.3,205.3 116.4,204.8 123.6,201.8 129.1,204.7 130.8,202.5 137.4,177.4 148.5,182.8 132.6,197.1 130.8,204.8 118.0,192.8 130.0,185.4 142.7,192.7 137.8,198.4 128.3,194.9 122.5,200.4 136.6,195.7 120.6,195.9 123.0,200.6 139.4,176.0 138.8,181.0 130.3,189.4 112.8,189.3 132.4,193.2 114.9,207.5 117.2,183.6 132.4,191.0 129.3,207.3 138.3,195.9 129.3,191.5 139.8,197.9 122.1,200.8 128.1,203.3 126.4,193.0 129.6,202.9 132.6,197.6 140.8,181.8 119.7,212.7 111.0,205.8 119.2,204.9 127.1,193.2 139.4,189.0 132.2,197.6 138.0,198.9 131.9,183.9 147.1,177.5 129.6,200.5 138.8,179.8 126.6,208.2 130.9,174.3 127.7,206.4 127.7,201.2 131.2,196.7 119.0,216.2 121.1,209.0 126.3,212.2 127.8,208.0 133.7,207.2 128.2,192.3 125.2,194.1 118.4,200.8 124.1,202.1 121.7,200.2 119.5,206.4 143.2,185.7 124.9,210.2 127.4,194.6 124.9,201.2 127.7,200.0 129.4,203.9 135.6,173.4 125.8,198.5 133.1,194.3 128.7,192.1 130.3,196.0 117.6,206.7 144.1,191.7 141.7,203.9 130.7,188.8 147.8,179.0 137.6,189.6 129.6,207.6 130.0,200.5 124.9,196.1 123.3,207.1 146.7,194.8 126.4,216.4 121.5,214.4 127.1,206.8 126.9,200.4 124.0,196.9 127.4,197.9 129.6,195.5 139.5,185.6 129.9,186.3 129.1,204.4 127.4,201.4 124.4,191.1 123.7,212.0 119.5,193.5 125.2,202.8 130.3,191.9 119.4,201.7 129.6,199.7 126.7,204.7 120.9,198.0 125.5,202.8 145.3,178.5 136.1,201.5 141.0,197.5 127.6,203.2 143.6,186.7 110.8,219.2 118.1,196.5 113.6,206.2 105.6,193.9 140.8,179.8 134.9,179.3 131.7,217.4 127.1,200.0 128.7,198.2 134.6,207.3 118.8,205.5 132.9,175.6 123.1,201.0 134.3,200.1 124.2,193.1 131.3,181.7 126.7,188.0 129.1,198.7 123.5,192.5 128.9,200.7 105.3,220.1 133.4,195.2 127.8,197.5 121.0,206.0 127.4,188.7 130.1,197.1 113.2,198.4 136.8,196.7 135.6,192.7 129.0,177.1 143.8,198.5 136.0,203.1 123.1,188.3 110.3,216.5 113.0,196.5 122.7,187.6 113.2,212.9 124.5,204.1 124.4,199.5 137.7,197.1 129.4,203.0 126.3,201.9 115.2,209.3 123.6,197.6 145.8,182.9 136.5,203.2 110.3,217.1 140.6,188.4 124.5,203.7 118.2,193.1 123.2,192.7 118.5,205.8 130.0,200.2 131.2,176.4 120.2,200.0 131.4,202.7 139.2,185.3 135.3,197.7 132.3,191.9 142.6,198.5 122.2,211.1 130.3,201.4 140.5,183.1 114.5,206.6 122.2,193.8 118.2,206.4 132.7,195.0 136.2,205.3 128.5,188.3 114.6,210.2 122.3,205.0 111.6,216.9 127.4,193.1 124.7,200.8 134.3,212.9 138.9,186.0 126.8,179.2 133.6,193.2 161.3,184.9 98.3,224.9 103.5,217.9 109.5,222.6 102.8,202.8 106.2,204.0 112.9,181.5 115.2,179.7 127.5,169.8 128.2,165.7 134.3,165.3 132.7,168.4 144.4,169.8 147.8,173.2 151.1,185.5 148.4,205.1 142.1,199.5 133.2,219.3 127.5,221.5 121.9,219.7" fill="none" stroke="none" marker-start="url(#pt)" marker-mid="url(#pt)" marker-end="url(#pt)"/>
<rect x="95.40" y="162.45" width="68.40" height="64.35" fill="none" stroke="#000" stroke-width="0.75"/>
<path d="M176.58 226.80V226.25H178.96V226.80ZM178.96 226.80V224.72H181.33V226.80ZM181.33 226.80V222.36H183.71V226.80ZM183.71 226.80V219.87H186.09V226.80ZM186.09 226.80V218.48H188.47V226.80ZM188.47 226.80V213.62H190.85V226.80ZM190.85 226.80V219.17H193.23V226.80ZM193.23 226.80V203.22H195.61V226.80ZM195.61 226.80V199.06H197.98V226.80ZM197.98 226.80V196.56H200.36V226.80ZM200.36 226.80V199.06H202.74V226.80ZM202.74 226.80V196.01H205.12V226.80ZM205.12 226.80V196.98H207.50V226.80ZM207.50 226.80V195.18H209.88V226.80ZM209.88 226.80V207.38H212.26V226.80ZM212.26 226.80V208.77H214.64V226.80ZM214.64 226.80V208.08H217.01V226.80ZM217.01 226.80V213.62H219.39V226.80ZM219.39 226.80V216.40H221.77V226.80ZM221.77 226.80V215.01H224.15V226.80ZM224.15 226.80V221.25H226.53V226.80ZM226.53 226.80V217.78H228.91V226.80ZM228.91 226.80V223.33H231.29V226.80ZM231.29 226.80V225.41H233.66V226.80ZM233.66 226.80V226.52H236.04V226.80ZM236.04 226.80V226.11H238.42V226.80ZM238.42 226.80V226.11H240.80V226.80Z" fill="#CD6600"/>
<rect x="173.50" y="162.45" width="68.50" height="64.35" fill="none" stroke="#000" stroke-width="0.75"/>
<text transform="translate(285.05 201.44) scale(1 0.881)" font-size="15.9" stroke="#000" stroke-width="0.10">0.59</text>
<text transform="translate(271.70 219.76) scale(1 0.86)" font-size="26.10" fill="#CD6600">***</text>
<rect x="250.70" y="162.45" width="68.70" height="64.35" fill="none" stroke="#000" stroke-width="0.75"/>
<polyline points="58.4,265.5 56.2,273.8 63.0,274.6 62.5,269.1 63.5,267.1 52.4,283.6 45.0,287.2 48.3,274.5 53.2,272.0 61.6,271.1 60.3,274.3 53.7,281.0 61.5,265.5 62.1,273.5 62.0,270.3 56.5,270.4 60.3,273.8 61.2,266.7 57.0,254.8 47.8,271.4 51.5,269.0 67.2,283.7 59.7,269.6 54.3,263.8 53.2,273.6 53.3,271.8 56.7,272.5 56.9,272.3 73.0,275.4 61.9,276.5 59.4,261.0 55.4,284.9 63.3,267.9 67.3,262.9 53.5,284.4 54.5,274.9 45.0,270.5 61.8,263.7 60.5,264.3 59.4,275.2 53.2,271.0 63.5,267.0 55.2,272.8 58.2,267.6 53.1,280.9 60.0,281.3 67.3,271.3 47.9,269.2 61.6,270.6 61.1,266.1 60.2,275.2 63.3,272.7 70.2,260.2 55.1,285.9 59.3,285.6 48.2,268.4 58.0,278.6 59.1,269.0 61.7,279.2 56.8,261.5 55.4,263.4 65.2,256.4 63.4,263.8 60.4,276.4 61.3,266.7 60.3,276.9 45.2,275.4 59.2,271.3 66.2,264.4 51.2,272.0 56.3,270.8 53.7,268.9 54.7,282.9 59.1,253.5 49.7,273.3 46.0,280.8 69.7,252.3 53.1,278.1 63.7,270.0 76.0,267.3 52.3,260.5 64.3,265.2 60.3,265.8 67.0,272.4 61.7,266.1 60.5,279.4 69.6,262.5 42.2,269.6 57.3,272.5 55.2,271.0 60.1,266.3 54.5,272.0 64.8,273.2 58.9,275.9 54.2,283.1 60.9,274.7 60.4,260.3 60.5,273.9 52.8,270.5 57.9,265.0 66.9,268.6 56.3,276.4 57.9,284.4 49.8,284.1 63.0,252.3 53.6,284.3 67.2,269.9 48.2,284.5 55.3,261.9 55.1,277.1 56.1,262.0 56.9,274.6 51.1,261.2 56.9,272.4 53.3,277.6 64.4,263.3 63.3,270.5 50.0,283.5 57.5,282.3 65.2,274.8 56.0,269.2 49.9,270.1 59.7,283.1 60.3,267.3 63.2,268.1 57.4,265.6 49.9,271.7 49.1,263.5 63.6,281.3 52.0,269.1 61.2,282.2 61.3,261.3 49.2,284.8 54.6,259.3 58.4,272.1 60.3,269.6 58.1,267.1 61.6,278.7 52.0,287.3 57.0,266.6 57.2,272.2 56.5,281.5 67.4,266.5 69.1,279.1 59.7,286.6 37.8,274.4 63.6,266.5 69.8,269.8 48.8,268.9 70.5,258.3 59.6,257.9 64.0,273.3 52.0,277.3 49.7,271.3 56.9,270.9 56.8,271.5 59.6,272.3 53.8,259.4 54.9,279.9 46.5,268.1 60.6,280.1 40.9,280.3 65.8,264.7 53.1,282.8 63.8,272.3 55.3,286.3 56.4,279.8 70.3,263.9 70.0,270.7 53.6,268.9 59.1,265.3 63.9,256.1 60.8,266.3 50.9,276.7 60.2,276.5 54.2,273.3 72.6,256.8 57.2,273.5 64.6,257.2 51.2,271.1 56.1,272.0 58.7,275.5 48.6,276.2 54.1,272.6 53.7,273.4 58.9,272.8 59.5,279.9 54.4,266.5 54.3,273.0 52.2,275.1 61.3,273.0 51.3,289.5 48.8,286.4 75.1,265.3 66.1,283.3 65.9,272.5 66.4,283.7 73.4,255.3 62.3,285.8 49.4,275.9 62.6,267.4 57.4,284.7 55.0,263.5 64.0,269.2 58.6,278.7 59.0,262.8 61.3,251.0 72.0,259.5 70.1,264.7 50.2,280.5 57.2,282.4 52.1,271.7 61.7,259.7 58.7,272.6 61.5,271.7 73.2,266.8 62.1,261.3 48.3,277.2 50.4,271.3 61.9,270.8 43.4,272.6 73.3,255.6 63.7,261.0 55.1,273.0 57.5,275.4 67.4,279.6 60.5,277.8 42.5,278.4 48.6,287.1 54.0,269.3 63.0,274.7 48.9,273.8 68.2,254.2 62.9,270.8 53.1,264.3 67.3,259.0 61.5,264.7 53.2,265.2 48.2,283.6 45.2,266.1 65.8,275.7 59.4,270.8 49.1,282.0 60.8,287.8 54.0,274.3 57.1,278.9 58.6,267.7 58.9,273.8 61.7,269.9 57.8,275.1 36.4,277.4 63.0,270.4 49.2,270.9 65.2,266.5 69.2,268.8 50.4,271.6 48.7,274.0 58.0,270.7 59.6,273.9 43.1,270.7 57.1,272.2 55.2,284.9 55.9,265.6 51.4,277.4 59.9,270.6 62.8,255.5 59.6,273.1 49.2,277.0 55.3,257.5 54.1,277.2 55.9,269.6 51.6,276.8 50.5,273.7 52.1,273.8 63.6,265.6 60.0,274.3 56.1,268.6 64.4,270.1 54.7,272.2 57.4,275.1 61.6,287.8 54.9,271.5 58.6,262.5 48.2,282.3 59.4,271.6 55.7,285.8 67.5,271.1 71.9,258.0 64.1,260.6 60.5,274.8 56.3,271.3 48.6,280.1 51.2,285.9 75.0,272.2 51.0,284.3 48.2,279.1 60.3,271.8 63.9,266.8 56.1,283.2 52.2,277.9 41.5,258.4 54.3,266.7 58.3,271.4 49.3,276.3 61.4,266.4 49.2,257.1 57.9,260.0 60.2,266.6 52.6,277.7 43.0,280.8 55.5,264.6 52.7,280.0 48.2,266.3 57.4,263.8 51.8,277.8 57.8,271.1 69.5,275.6 37.7,279.0 45.5,269.9 64.0,280.2 65.6,259.0 56.2,286.6 57.2,270.6 58.7,281.9 63.1,270.2 56.2,285.6 63.1,279.3 59.7,271.8 63.0,284.2 60.1,265.4 57.5,279.4 53.9,258.7 58.2,279.2 62.0,271.2 65.2,278.1 55.6,265.6 69.9,249.3 47.5,270.6 51.0,284.4 50.4,276.2 56.2,271.8 61.9,273.4 59.2,277.7 55.0,273.0 62.1,273.9 48.5,276.8 45.3,284.0 62.1,255.6 66.1,270.3 62.0,249.9 70.2,273.1 70.6,264.8 52.2,270.6 62.2,263.7 60.7,272.0 71.7,262.9 52.2,276.5 67.7,265.8 63.7,271.2 66.3,279.3 63.2,259.9 66.3,281.2 62.5,266.1 61.9,263.3 59.5,286.0 50.4,273.5 55.0,277.9 60.8,264.1 58.4,266.8 63.3,273.2 52.7,277.8 66.5,264.9 63.8,255.9 63.5,259.3 50.5,272.9 55.4,275.7 50.2,289.2 51.6,278.8 55.1,280.5 61.2,268.4 59.2,269.4 60.6,276.4 62.3,269.2 58.1,285.4 57.7,275.9 56.2,275.5 55.1,267.8 60.8,282.5 60.8,281.1 66.1,272.0 67.8,271.3 50.0,271.6 58.6,270.7 62.1,277.4 55.9,269.3 59.5,257.5 64.6,262.2 57.6,276.0 67.8,266.7 65.0,271.3 57.0,276.8 55.3,282.9 61.3,271.0 51.3,267.4 48.4,274.2 61.5,267.9 49.5,270.3 58.6,276.0 47.8,271.2 54.6,278.2 52.5,283.3 55.3,278.5 53.9,274.3 70.0,270.9 64.5,284.3 61.6,273.2 47.7,278.1 49.1,264.9 55.5,265.4 72.8,266.5 61.4,275.0 51.7,272.3 57.2,268.2 51.6,276.6 66.2,275.4 51.3,274.1 65.9,275.2 50.7,272.7 47.8,270.0 50.3,273.6 56.8,284.4 47.4,275.5 63.5,282.9 65.6,262.2 64.0,266.6 61.6,275.8 62.1,276.2 61.3,280.1 69.1,265.6 55.2,269.9 57.8,278.4 66.1,276.7 53.7,274.5 65.0,286.6 49.9,281.3 67.3,258.4 59.6,281.8 61.7,258.7 63.3,268.4 57.4,280.8 62.0,275.7 67.6,279.1 49.1,285.4 59.7,273.1 65.1,265.8 56.3,273.4 61.1,269.0 60.8,256.8 66.9,269.2 65.2,271.5 57.5,276.1 53.6,270.7 75.9,255.2 67.4,271.0 58.4,257.4 57.1,267.9 65.9,266.2 55.5,275.6 67.7,277.6 70.2,250.5 53.4,283.2 62.1,288.0 48.4,279.2 47.7,278.7 57.3,266.1 63.4,268.9 61.7,253.3 56.6,265.3 61.1,257.5 54.7,266.8 64.4,270.0 56.1,280.7 73.5,262.2 58.8,272.4 53.9,273.8 57.4,263.0 52.8,276.9 62.3,256.0 56.0,270.8 62.2,277.5 70.8,279.4 58.9,257.3 60.2,267.3 60.6,269.4 53.3,274.7 55.2,266.5 58.5,265.9 52.7,266.3 51.0,275.9 59.7,264.8 51.7,277.3 58.8,276.1 47.4,276.3 63.0,270.6 53.3,271.2 48.8,273.6 64.1,270.8 56.9,274.0 51.0,274.3 64.3,274.8 48.8,275.9 48.2,267.1 52.1,274.9 59.8,264.7 44.4,285.0 60.2,273.2 61.0,253.9 63.8,266.3 54.7,260.7 66.0,269.1 55.8,274.9 55.9,274.3 42.5,275.1 60.6,271.6 59.6,274.3 56.4,268.8 53.0,266.6 74.9,261.8 56.5,273.0 57.4,264.7 64.3,267.5 57.3,269.0 61.0,263.7 50.1,280.9 58.6,265.7 59.3,288.2 67.0,274.0 56.0,279.2 64.0,269.2 53.7,274.1 56.5,273.0 59.4,289.5 60.7,263.7 50.3,272.5 64.7,267.9 48.6,271.4 55.1,269.4 68.4,283.6 56.6,280.4 62.2,252.3 53.7,271.3 60.6,274.6 65.6,254.9 56.0,267.3 58.1,272.5 68.0,266.1 60.9,270.4 50.0,272.9 48.6,282.3 49.6,265.2 60.5,271.3 67.8,279.8 53.3,280.0 54.1,268.0 59.2,279.2 60.1,277.3 65.4,268.0 54.8,265.5 65.8,271.4 46.9,275.0 59.2,286.2 52.2,265.7 51.7,267.8 59.6,283.4 54.2,262.7 50.8,284.5 56.6,264.5 49.1,264.8 56.7,270.8 60.6,274.9 61.8,275.1 71.8,265.0 75.1,263.7 57.3,271.8 66.8,264.0 57.0,268.2 47.3,277.3 38.4,274.1 66.5,259.9 50.2,280.2 59.3,282.4 51.3,264.7 61.5,264.3 54.7,278.2 56.6,262.9 60.6,278.9 40.3,286.0 57.3,275.8 58.7,270.5 55.8,269.1 50.7,279.4 58.8,261.6 70.2,264.6 50.8,267.1 45.7,267.8 64.8,287.3 48.6,282.4 56.0,263.6 56.7,267.3 59.6,270.3 55.5,263.9 66.2,271.6 55.2,265.1 57.8,277.6 52.0,272.7 60.5,275.5 63.8,266.1 58.8,272.5 69.0,258.2 62.7,278.1 39.9,275.6 58.7,263.5 63.7,272.7 57.3,275.5 63.0,267.6 38.7,272.6 66.3,270.7 61.7,263.0 53.9,274.9 76.8,275.8 47.8,283.4 53.8,285.0 65.8,268.3 58.7,272.5 71.7,266.3 50.5,268.6 63.1,268.0 54.5,278.7 64.9,271.2 59.0,282.0 57.0,270.3 72.3,267.2 54.6,267.1 66.7,264.9 61.0,264.6 64.5,285.5 60.1,282.4 60.6,264.7 60.1,270.3 59.2,262.0 54.9,272.7 70.6,264.6 67.0,264.0 65.7,266.7 61.9,259.9 57.7,265.8 54.0,266.3 58.1,268.0 63.8,262.4 62.1,269.4 51.3,273.9 59.5,272.9 56.7,265.2 45.5,268.6 54.2,270.5 66.4,266.8 66.7,266.6 64.1,264.1 58.8,263.2 60.5,271.5 56.2,273.1 71.8,262.4 64.4,261.8 59.0,268.7 48.2,273.6 56.0,273.1 57.2,281.8 48.6,275.0 55.6,289.7 56.9,275.0 53.1,275.1 61.2,286.4 57.1,281.3 51.0,282.4 55.1,280.2 60.5,262.5 49.9,271.2 61.8,267.0 75.0,251.4 68.0,268.2 64.3,267.2 46.9,274.0 60.1,267.2 70.2,263.5 59.2,273.1 54.4,273.3 63.7,277.5 51.8,274.4 58.9,268.8 65.8,262.5 57.2,269.8 67.3,250.3 61.6,269.7 61.8,277.0 62.1,266.9 59.0,272.5 51.7,265.7 70.0,261.4 62.2,277.7 48.5,269.9 60.3,272.4 48.3,271.8 53.1,271.4 51.4,267.5 50.2,280.1 59.1,273.6 65.1,270.1 61.2,257.5 69.6,289.0 63.8,275.3 49.0,274.6 48.1,271.7 59.2,265.3 56.0,266.7 58.8,268.1 60.4,263.9 64.2,264.6 48.8,271.8 57.1,269.9 59.9,272.1 57.2,255.0 65.7,266.6 56.2,272.8 74.8,266.5 59.9,284.1 56.8,283.8 55.5,281.0 60.2,277.2 57.9,269.2 54.9,275.7 52.6,276.0 48.6,271.6 54.5,276.3 51.6,275.6 58.0,282.4 64.9,252.1 56.0,276.4 54.9,273.3 50.5,275.4 62.2,262.5 65.1,274.8 60.3,262.9 59.0,275.1 51.1,262.8 54.8,281.1 49.5,282.1 53.3,270.9 54.4,269.2 65.4,272.4 61.0,270.4 65.9,252.0 61.5,268.2 59.7,272.7 58.6,268.9 62.4,267.4 63.2,275.7 51.5,269.7 62.4,278.7 51.7,285.4 57.0,279.8 52.4,281.4 61.9,278.1 59.7,269.6 60.5,277.5 56.3,258.2 55.8,265.6 60.0,278.5 48.6,278.7 60.1,260.3 60.7,266.6 60.8,282.9 55.1,281.7 74.4,266.6 47.6,272.8 55.8,269.0 39.3,280.7 53.4,273.8 54.2,271.8 63.2,254.8 59.1,256.7 59.9,260.9 60.6,278.3 70.9,260.1 53.3,288.2 57.2,272.5 59.2,280.0 49.9,276.3 55.6,260.0 59.6,263.8 56.7,276.4 55.5,271.6 58.8,269.1 54.8,272.0 61.0,270.0 58.8,263.7 59.0,274.8 63.0,272.1 67.8,261.2 62.3,263.6 58.1,265.9 69.1,272.6 59.9,270.1 57.8,270.3 45.0,288.0 62.6,275.5 63.3,271.6 55.0,284.9 59.7,279.8 66.2,274.1 52.7,279.6 62.7,269.1 55.9,266.9 62.7,270.6 66.8,260.0 59.9,269.1 51.7,273.0 41.6,281.1 53.5,276.2 60.3,271.6 44.5,284.8 63.1,262.1 58.7,281.1 61.5,261.9 56.3,277.7 48.3,276.8 50.7,278.9 60.0,263.4 58.8,252.5 54.6,269.8 56.0,278.6 61.2,280.9 59.7,277.5 53.0,272.4 53.8,270.9 59.3,284.2 45.0,276.0 51.7,262.4 64.3,273.3 68.6,271.0 55.2,263.1 59.2,274.2 45.3,266.6 58.4,259.8 52.5,278.8 56.1,280.4 61.6,263.5 60.5,272.9 60.9,273.3 62.7,275.9 59.9,270.3 60.9,272.8 56.7,276.9 61.3,283.3 56.2,278.8 56.2,286.3 52.8,271.0 51.0,283.4 50.1,274.6 56.3,270.2 66.7,255.8 57.5,273.5 76.9,237.9 79.2,244.7 79.9,252.1 60.1,242.0 65.3,246.0 70.2,248.7 41.4,255.9 83.2,266.7 79.2,262.2 34.7,266.7 32.4,270.8 36.5,270.1 37.6,274.6 32.4,277.5 20.3,278.0 23.4,276.4 27.0,286.3 52.7,298.0 57.8,293.3 45.5,291.9 40.5,289.7 79.6,279.1 74.3,282.9 68.0,289.2" fill="none" stroke="none" marker-start="url(#pt)" marker-mid="url(#pt)" marker-end="url(#pt)"/>
<rect x="18.10" y="236.40" width="68.40" height="63.40" fill="none" stroke="#000" stroke-width="0.75"/>
<polyline points="139.8,265.5 123.3,273.8 114.4,274.6 128.6,269.1 128.4,267.1 112.9,283.6 116.2,287.2 125.0,274.5 129.1,272.0 138.4,271.1 130.5,274.3 119.6,281.0 123.8,265.5 132.5,273.5 134.4,270.3 133.5,270.4 121.9,273.8 125.5,266.7 132.3,254.8 130.8,271.4 135.8,269.0 118.3,283.7 142.0,269.6 131.8,263.8 128.5,273.6 129.1,271.8 116.8,272.5 115.4,272.3 133.7,275.4 123.1,276.5 137.8,261.0 129.4,284.9 125.7,267.9 138.5,262.9 120.4,284.4 126.2,274.9 122.8,270.5 124.7,263.7 132.3,264.3 129.7,275.2 127.3,271.0 132.2,267.0 125.9,272.8 132.4,267.6 120.2,280.9 124.6,281.3 131.3,271.3 139.2,269.2 117.5,270.6 130.9,266.1 127.9,275.2 126.3,272.7 141.0,260.2 126.2,285.9 120.2,285.6 116.2,268.4 137.2,278.6 131.6,269.0 122.7,279.2 125.1,261.5 132.2,263.4 127.6,256.4 125.5,263.8 124.9,276.4 129.0,266.7 119.5,276.9 117.4,275.4 128.7,271.3 131.8,264.4 119.6,272.0 129.8,270.8 128.5,268.9 113.3,282.9 119.1,253.5 127.6,273.3 113.5,280.8 126.8,252.3 118.7,278.1 130.8,270.0 146.1,267.3 130.5,260.5 138.1,265.2 140.2,265.8 132.4,272.4 127.8,266.1 107.9,279.4 147.6,262.5 127.2,269.6 129.3,272.5 129.5,271.0 128.6,266.3 122.0,272.0 133.5,273.2 130.1,275.9 126.1,283.1 125.2,274.7 142.8,260.3 123.2,273.9 126.0,270.5 124.0,265.0 136.5,268.6 135.0,276.4 116.1,284.4 126.1,284.1 147.9,252.3 122.5,284.3 135.4,269.9 121.4,284.5 128.1,261.9 120.9,277.1 136.2,262.0 131.7,274.6 145.8,261.2 105.6,272.4 131.3,277.6 142.5,263.3 117.4,270.5 132.5,283.5 119.9,282.3 125.2,274.8 137.2,269.2 134.1,270.1 120.3,283.1 130.9,267.3 131.0,268.1 131.2,265.6 136.7,271.7 129.2,263.5 117.4,281.3 134.7,269.1 121.7,282.2 131.6,261.3 120.0,284.8 134.9,259.3 126.7,272.1 140.4,269.6 132.5,267.1 116.1,278.7 114.2,287.3 119.3,266.6 138.5,272.2 119.4,281.5 136.3,266.5 126.0,279.1 114.6,286.6 125.0,274.4 130.7,266.5 122.4,269.8 137.9,268.9 132.5,258.3 130.8,257.9 118.9,273.3 127.1,277.3 138.5,271.3 137.8,270.9 131.4,271.5 126.0,272.3 126.5,259.4 129.1,279.9 113.3,268.1 139.5,280.1 130.1,280.3 118.3,264.7 116.8,282.8 120.6,272.3 119.7,286.3 124.6,279.8 129.6,263.9 130.4,270.7 124.2,268.9 130.8,265.3 127.4,256.1 127.7,266.3 130.3,276.7 127.9,276.5 136.2,273.3 128.6,256.8 115.7,273.5 130.7,257.2 137.3,271.1 143.7,272.0 127.3,275.5 130.9,276.2 120.6,272.6 118.6,273.4 129.9,272.8 113.0,279.9 137.9,266.5 113.3,273.0 137.1,275.1 129.1,273.0 109.5,289.5 127.1,286.4 127.7,265.3 121.8,283.3 128.3,272.5 119.9,283.7 148.4,255.3 112.1,285.8 118.9,275.9 131.5,267.4 137.7,284.7 145.4,263.5 134.2,269.2 129.6,278.7 136.5,262.8 149.8,251.0 133.1,259.5 134.9,264.7 133.8,280.5 113.0,282.4 134.3,271.7 142.5,259.7 127.9,272.6 128.6,271.7 128.2,266.8 133.0,261.3 124.8,277.2 117.2,271.3 131.6,270.8 119.4,272.6 123.1,255.6 133.0,261.0 128.1,273.0 130.2,275.4 123.7,279.6 122.7,277.8 113.0,278.4 105.7,287.1 120.0,269.3 122.7,274.7 131.3,273.8 138.5,254.2 119.8,270.8 126.8,264.3 139.4,259.0 128.2,264.7 136.8,265.2 124.6,283.6 141.7,266.1 129.7,275.7 125.7,270.8 108.7,282.0 132.1,287.8 124.2,274.3 117.9,278.9 127.7,267.7 120.3,273.8 128.2,269.9 113.2,275.1 118.2,277.4 128.8,270.4 127.0,270.9 126.7,266.5 145.6,268.8 123.6,271.6 126.3,274.0 126.6,270.7 123.3,273.9 126.8,270.7 127.1,272.2 111.8,284.9 132.0,265.6 127.4,277.4 141.6,270.6 134.1,255.5 126.3,273.1 125.1,277.0 141.6,257.5 118.1,277.2 126.0,269.6 122.2,276.8 124.0,273.7 120.8,273.8 128.8,265.6 131.7,274.3 129.1,268.6 119.2,270.1 131.0,272.2 126.0,275.1 113.3,287.8 130.6,271.5 142.0,262.5 120.4,282.3 134.4,271.6 110.7,285.8 124.8,271.1 137.8,258.0 142.9,260.6 129.7,274.8 130.1,271.3 123.4,280.1 115.5,285.9 130.5,272.2 103.4,284.3 124.6,279.1 132.4,271.8 126.8,266.8 116.4,283.2 116.4,277.9 128.2,258.4 127.3,266.7 119.1,271.4 121.7,276.3 135.9,266.4 129.3,257.1 127.6,260.0 134.5,266.6 125.1,277.7 115.3,280.8 130.0,264.6 126.3,280.0 123.6,266.3 126.2,263.8 124.6,277.8 137.0,271.1 127.9,275.6 120.4,279.0 125.7,269.9 128.0,280.2 131.8,259.0 126.3,286.6 128.7,270.6 131.4,281.9 134.8,270.2 126.4,285.6 117.6,279.3 114.9,271.8 141.0,284.2 140.1,265.4 129.7,279.4 139.9,258.7 113.8,279.2 144.7,271.2 130.8,278.1 134.8,265.6 143.8,249.3 133.6,270.6 111.8,284.4 118.4,276.2 126.4,271.8 121.1,273.4 125.1,277.7 135.3,273.0 126.1,273.9 132.1,276.8 118.8,284.0 142.7,255.6 127.6,270.3 148.7,249.9 124.3,273.1 137.5,264.8 131.7,270.6 130.9,263.7 128.9,272.0 134.8,262.9 116.0,276.5 135.4,265.8 139.1,271.2 125.7,279.3 124.2,259.9 121.9,281.2 132.3,266.1 135.0,263.3 113.0,286.0 127.1,273.5 123.0,277.9 131.2,264.1 129.1,266.8 130.2,273.2 126.4,277.8 129.8,264.9 125.7,255.9 138.8,259.3 118.0,272.9 125.8,275.7 112.7,289.2 120.1,278.8 126.4,280.5 131.6,268.4 129.3,269.4 131.8,276.4 131.2,269.2 120.5,285.4 114.9,275.9 123.3,275.5 123.6,267.8 119.0,282.5 119.6,281.1 137.4,272.0 141.2,271.3 115.6,271.6 126.2,270.7 121.8,277.4 130.0,269.3 139.2,257.5 131.7,262.2 141.1,276.0 134.4,266.7 126.0,271.3 126.8,276.8 131.4,282.9 128.7,271.0 148.6,267.4 120.4,274.2 125.4,267.9 130.1,270.3 129.6,276.0 131.0,271.2 109.0,278.2 122.4,283.3 125.0,278.5 126.1,274.3 133.1,270.9 121.7,284.3 119.6,273.2 121.7,278.1 128.1,264.9 128.0,265.4 131.4,266.5 121.3,275.0 131.7,272.3 124.8,268.2 127.4,276.6 113.4,275.4 128.9,274.1 119.8,275.2 123.5,272.7 122.0,270.0 132.6,273.6 129.7,284.4 133.7,275.5 123.8,282.9 146.9,262.2 147.4,266.6 116.4,275.8 124.6,276.2 129.6,280.1 141.1,265.6 140.5,269.9 128.3,278.4 135.0,276.7 125.9,274.5 130.7,286.6 111.5,281.3 130.3,258.4 126.2,281.8 131.5,258.7 140.5,268.4 116.8,280.8 128.8,275.7 115.7,279.1 119.6,285.4 131.1,273.1 128.7,265.8 134.9,273.4 136.1,269.0 140.8,256.8 130.3,269.2 129.5,271.5 130.3,276.1 128.9,270.7 144.8,255.2 134.1,271.0 146.3,257.4 135.2,267.9 131.2,266.2 125.7,275.6 122.3,277.6 142.0,250.5 127.4,283.2 116.9,288.0 103.8,279.2 120.1,278.7 131.8,266.1 147.3,268.9 146.0,253.3 135.5,265.3 132.7,257.5 134.5,266.8 127.7,270.0 129.0,280.7 135.9,262.2 130.6,272.4 125.7,273.8 130.4,263.0 127.4,276.9 139.6,256.0 135.3,270.8 135.3,277.5 129.1,279.4 139.4,257.3 133.2,267.3 126.9,269.4 127.6,274.7 136.7,266.5 131.8,265.9 141.5,266.3 128.9,275.9 130.3,264.8 116.4,277.3 125.6,276.1 129.7,276.3 130.0,270.6 127.2,271.2 133.6,273.6 125.4,270.8 129.7,274.0 112.1,274.3 122.9,274.8 128.8,275.9 131.8,267.1 121.5,274.9 129.6,264.7 125.3,285.0 132.8,273.2 138.8,253.9 136.8,266.3 130.6,260.7 132.0,269.1 123.9,274.9 128.5,274.3 126.1,275.1 113.6,271.6 114.0,274.3 129.8,268.8 138.4,266.6 137.1,261.8 130.0,273.0 131.0,264.7 133.2,267.5 137.6,269.0 144.4,263.7 113.3,280.9 130.4,265.7 115.4,288.2 127.0,274.0 127.5,279.2 126.3,269.2 129.9,274.1 140.0,273.0 119.0,289.5 134.6,263.7 130.4,272.5 127.9,267.9 136.9,271.4 130.5,269.4 134.2,283.6 125.8,280.4 139.0,252.3 128.6,271.3 124.9,274.6 132.1,254.9 130.4,267.3 132.8,272.5 124.0,266.1 138.7,270.4 113.3,272.9 115.2,282.3 144.6,265.2 140.3,271.3 126.5,279.8 131.5,280.0 142.2,268.0 131.8,279.2 127.4,277.3 127.0,268.0 129.6,265.5 140.9,271.4 125.8,275.0 116.6,286.2 124.5,265.7 121.0,267.8 108.5,283.4 144.0,262.7 116.3,284.5 130.1,264.5 126.5,264.8 129.8,270.8 124.3,274.9 120.1,275.1 145.9,265.0 140.3,263.7 134.1,271.8 133.5,264.0 133.8,268.2 127.1,277.3 121.0,274.1 122.5,259.9 118.3,280.2 107.1,282.4 132.8,264.7 127.0,264.3 112.9,278.2 143.0,262.9 121.9,278.9 106.0,286.0 115.1,275.8 124.4,270.5 136.7,269.1 118.6,279.4 130.4,261.6 138.6,264.6 129.7,267.1 146.2,267.8 119.2,287.3 107.4,282.4 138.0,263.6 125.6,267.3 126.3,270.3 129.3,263.9 119.4,271.6 133.2,265.1 130.0,277.6 117.2,272.7 130.1,275.5 127.4,266.1 126.8,272.5 150.4,258.2 122.8,278.1 127.4,275.6 130.0,263.5 126.4,272.7 120.4,275.5 133.6,267.6 129.2,272.6 127.8,270.7 126.6,263.0 121.7,274.9 130.3,275.8 119.7,283.4 110.8,285.0 140.5,268.3 134.6,272.5 132.0,266.3 132.7,268.6 137.1,268.0 128.3,278.7 130.5,271.2 128.5,282.0 133.9,270.3 134.3,267.2 139.5,267.1 146.7,264.9 137.3,264.6 125.9,285.5 136.2,282.4 128.1,264.7 129.9,270.3 145.6,262.0 133.5,272.7 148.3,264.6 126.0,264.0 121.6,266.7 126.7,259.9 124.6,265.8 128.0,266.3 136.6,268.0 139.8,262.4 126.4,269.4 135.8,273.9 122.1,272.9 134.0,265.2 138.2,268.6 131.9,270.5 128.7,266.8 130.8,266.6 145.0,264.1 134.3,263.2 140.3,271.5 128.4,273.1 128.4,262.4 131.1,261.8 134.9,268.7 117.9,273.6 130.4,273.1 121.9,281.8 125.5,275.0 112.1,289.7 135.5,275.0 127.8,275.1 108.7,286.4 138.3,281.3 116.4,282.4 123.6,280.2 129.1,262.5 130.8,271.2 137.4,267.0 148.5,251.4 132.6,268.2 130.8,267.2 118.0,274.0 130.0,267.2 142.7,263.5 137.8,273.1 128.3,273.3 122.5,277.5 136.6,274.4 120.6,268.8 123.0,262.5 139.4,269.8 138.8,250.3 130.3,269.7 112.8,277.0 132.4,266.9 114.9,272.5 117.2,265.7 132.4,261.4 129.3,277.7 138.3,269.9 129.3,272.4 139.8,271.8 122.1,271.4 128.1,267.5 126.4,280.1 129.6,273.6 132.6,270.1 140.8,257.5 119.7,289.0 111.0,275.3 119.2,274.6 127.1,271.7 139.4,265.3 132.2,266.7 138.0,268.1 131.9,263.9 147.1,264.6 129.6,271.8 138.8,269.9 126.6,272.1 130.9,255.0 127.7,266.6 127.7,272.8 131.2,266.5 119.0,284.1 121.1,283.8 126.3,281.0 127.8,277.2 133.7,269.2 128.2,275.7 125.2,276.0 118.4,271.6 124.1,276.3 121.7,275.6 119.5,282.4 143.2,252.1 124.9,276.4 127.4,273.3 124.9,275.4 127.7,262.5 129.4,274.8 135.6,262.9 125.8,275.1 133.1,262.8 128.7,281.1 130.3,282.1 117.6,270.9 144.1,269.2 141.7,272.4 130.7,270.4 147.8,252.0 137.6,268.2 129.6,272.7 130.0,268.9 124.9,267.4 123.3,275.7 146.7,269.7 126.4,278.7 121.5,285.4 127.1,279.8 126.9,281.4 124.0,278.1 127.4,269.6 129.6,277.5 139.5,258.2 129.9,265.6 129.1,278.5 127.4,278.7 124.4,260.3 123.7,266.6 119.5,282.9 125.2,281.7 130.3,266.6 119.4,272.8 129.6,269.0 126.7,280.7 120.9,273.8 125.5,271.8 145.3,254.8 136.1,256.7 141.0,260.9 127.6,278.3 143.6,260.1 110.8,288.2 118.1,272.5 113.6,280.0 105.6,276.3 140.8,260.0 134.9,263.8 131.7,276.4 127.1,271.6 128.7,269.1 134.6,272.0 118.8,270.0 132.9,263.7 123.1,274.8 134.3,272.1 124.2,261.2 131.3,263.6 126.7,265.9 129.1,272.6 123.5,270.1 128.9,270.3 105.3,288.0 133.4,275.5 127.8,271.6 121.0,284.9 127.4,279.8 130.1,274.1 113.2,279.6 136.8,269.1 135.6,266.9 129.0,270.6 143.8,260.0 136.0,269.1 123.1,273.0 110.3,281.1 113.0,276.2 122.7,271.6 113.2,284.8 124.5,262.1 124.4,281.1 137.7,261.9 129.4,277.7 126.3,276.8 115.2,278.9 123.6,263.4 145.8,252.5 136.5,269.8 110.3,278.6 140.6,280.9 124.5,277.5 118.2,272.4 123.2,270.9 118.5,284.2 130.0,276.0 131.2,262.4 120.2,273.3 131.4,271.0 139.2,263.1 135.3,274.2 132.3,266.6 142.6,259.8 122.2,278.8 130.3,280.4 140.5,263.5 114.5,272.9 122.2,273.3 118.2,275.9 132.7,270.3 136.2,272.8 128.5,276.9 114.6,283.3 122.3,278.8 111.6,286.3 127.4,271.0 124.7,283.4 134.3,274.6 138.9,270.2 126.8,255.8 133.6,273.5 138.8,237.9 151.1,242.0 98.3,298.0 130.9,293.0 119.7,291.9 137.2,286.5 111.8,267.8 120.8,255.5 125.3,254.8 130.9,248.7 135.4,247.6 149.3,266.7 148.9,272.3 146.6,276.8 103.9,288.1 102.8,289.2 110.7,291.9" fill="none" stroke="none" marker-start="url(#pt)" marker-mid="url(#pt)" marker-end="url(#pt)"/>
<rect x="95.40" y="236.40" width="68.40" height="63.40" fill="none" stroke="#000" stroke-width="0.75"/>
<polyline points="224.4,265.5 206.5,273.8 211.5,274.6 201.9,269.1 204.0,267.1 199.2,283.6 193.8,287.2 209.6,274.5 211.4,272.0 208.7,271.1 217.6,274.3 184.9,281.0 215.5,265.5 217.6,273.5 194.1,270.3 203.9,270.4 206.5,273.8 213.5,266.7 220.4,254.8 209.6,271.4 197.5,269.0 197.3,283.7 230.4,269.6 223.1,263.8 204.3,273.6 207.6,271.8 194.7,272.5 209.1,272.3 205.1,275.4 199.5,276.5 210.3,261.0 187.0,284.9 208.5,267.9 222.5,262.9 196.0,284.4 205.3,274.9 202.3,270.5 196.7,263.7 213.1,264.3 193.6,275.2 199.5,271.0 210.5,267.0 198.6,272.8 196.1,267.6 198.0,280.9 194.1,281.3 197.4,271.3 196.8,269.2 201.4,270.6 216.4,266.1 210.2,275.2 195.0,272.7 208.0,260.2 203.9,285.9 194.8,285.6 204.3,268.4 207.4,278.6 203.2,269.0 189.1,279.2 211.4,261.5 216.6,263.4 211.7,256.4 208.6,263.8 217.8,276.4 195.6,266.7 205.1,276.9 199.7,275.4 209.2,271.3 210.3,264.4 213.3,272.0 201.3,270.8 191.3,268.9 194.9,282.9 203.0,253.5 200.7,273.3 199.5,280.8 206.2,252.3 198.5,278.1 200.2,270.0 192.4,267.3 204.2,260.5 212.9,265.2 217.5,265.8 207.4,272.4 215.0,266.1 192.7,279.4 229.9,262.5 203.0,269.6 193.2,272.5 209.3,271.0 212.3,266.3 217.5,272.0 203.5,273.2 211.8,275.9 218.7,283.1 206.8,274.7 217.2,260.3 206.6,273.9 200.7,270.5 216.1,265.0 209.0,268.6 209.4,276.4 199.3,284.4 201.8,284.1 203.2,252.3 199.3,284.3 202.9,269.9 208.1,284.5 214.6,261.9 204.1,277.1 226.7,262.0 190.8,274.6 222.5,261.2 198.7,272.4 213.4,277.6 216.1,263.3 199.7,270.5 203.0,283.5 202.6,282.3 206.4,274.8 211.7,269.2 215.0,270.1 192.2,283.1 200.0,267.3 217.6,268.1 206.3,265.6 201.8,271.7 217.2,263.5 193.1,281.3 209.5,269.1 194.1,282.2 212.9,261.3 200.4,284.8 220.0,259.3 214.1,272.1 208.2,269.6 212.0,267.1 191.3,278.7 186.4,287.3 201.4,266.6 213.6,272.2 206.2,281.5 193.2,266.5 213.5,279.1 201.5,286.6 223.8,274.4 203.9,266.5 207.1,269.8 228.4,268.9 207.0,258.3 222.4,257.9 186.6,273.3 194.8,277.3 200.6,271.3 197.6,270.9 210.9,271.5 207.4,272.3 206.4,259.4 219.9,279.9 195.2,268.1 209.1,280.1 206.3,280.3 209.6,264.7 205.3,282.8 207.8,272.3 201.5,286.3 208.1,279.8 196.9,263.9 199.2,270.7 216.8,268.9 206.0,265.3 205.6,256.1 225.3,266.3 197.8,276.7 198.1,276.5 202.5,273.3 221.7,256.8 201.5,273.5 219.4,257.2 210.8,271.1 224.0,272.0 202.5,275.5 197.6,276.2 206.5,272.6 195.3,273.4 203.0,272.8 210.6,279.9 212.1,266.5 197.8,273.0 199.2,275.1 212.1,273.0 184.3,289.5 197.5,286.4 195.4,265.3 189.0,283.3 198.4,272.5 197.4,283.7 228.1,255.3 198.5,285.8 196.0,275.9 198.9,267.4 201.7,284.7 219.9,263.5 213.6,269.2 199.9,278.7 216.4,262.8 222.5,251.0 211.4,259.5 213.4,264.7 205.2,280.5 187.8,282.4 195.5,271.7 223.3,259.7 215.8,272.6 207.5,271.7 208.2,266.8 212.3,261.3 191.6,277.2 197.5,271.3 222.2,270.8 196.5,272.6 227.3,255.6 230.2,261.0 193.5,273.0 209.3,275.4 210.6,279.6 202.0,277.8 196.2,278.4 185.0,287.1 207.2,269.3 202.6,274.7 206.9,273.8 221.2,254.2 197.2,270.8 206.9,264.3 210.0,259.0 218.8,264.7 207.0,265.2 194.2,283.6 209.6,266.1 211.1,275.7 207.6,270.8 185.1,282.0 190.1,287.8 196.9,274.3 191.8,278.9 227.1,267.7 197.3,273.8 208.5,269.9 185.8,275.1 205.0,277.4 228.5,270.4 217.1,270.9 194.7,266.5 211.3,268.8 206.3,271.6 202.7,274.0 208.8,270.7 205.3,273.9 200.1,270.7 205.7,272.2 211.8,284.9 210.3,265.6 200.3,277.4 205.8,270.6 228.1,255.5 205.4,273.1 200.2,277.0 219.8,257.5 196.5,277.2 211.8,269.6 195.5,276.8 207.5,273.7 200.8,273.8 194.8,265.6 209.8,274.3 215.4,268.6 207.5,270.1 209.9,272.2 205.1,275.1 195.0,287.8 206.2,271.5 202.3,262.5 200.7,282.3 198.0,271.6 194.0,285.8 220.3,271.1 216.3,258.0 229.4,260.6 202.8,274.8 190.8,271.3 195.9,280.1 195.6,285.9 201.7,272.2 188.9,284.3 191.5,279.1 211.6,271.8 207.2,266.8 203.2,283.2 204.9,277.9 224.1,258.4 208.1,266.7 206.0,271.4 202.3,276.3 215.1,266.4 218.6,257.1 218.6,260.0 201.7,266.6 200.8,277.7 199.1,280.8 212.0,264.6 199.8,280.0 194.1,266.3 199.5,263.8 195.5,277.8 197.2,271.1 203.7,275.6 208.8,279.0 202.5,269.9 208.4,280.2 218.7,259.0 195.9,286.6 195.8,270.6 199.8,281.9 207.8,270.2 198.7,285.6 196.4,279.3 207.9,271.8 204.9,284.2 224.0,265.4 190.1,279.4 204.9,258.7 217.7,279.2 209.1,271.2 196.6,278.1 205.8,265.6 228.5,249.3 209.9,270.6 185.8,284.4 193.9,276.2 216.2,271.8 203.7,273.4 194.6,277.7 218.0,273.0 207.7,273.9 210.4,276.8 188.3,284.0 209.6,255.6 190.7,270.3 230.1,249.9 204.9,273.1 184.9,264.8 202.2,270.6 198.6,263.7 212.2,272.0 213.8,262.9 199.4,276.5 200.1,265.8 215.3,271.2 208.8,279.3 212.9,259.9 194.4,281.2 209.2,266.1 226.7,263.3 185.6,286.0 213.3,273.5 202.4,277.9 210.0,264.1 223.4,266.8 202.4,273.2 197.8,277.8 218.0,264.9 204.8,255.9 213.8,259.3 201.9,272.9 199.5,275.7 195.3,289.2 190.5,278.8 194.9,280.5 202.9,268.4 221.8,269.4 204.9,276.4 207.2,269.2 202.4,285.4 194.6,275.9 205.6,275.5 215.6,267.8 204.6,282.5 218.2,281.1 195.1,272.0 197.5,271.3 191.4,271.6 199.8,270.7 214.6,277.4 222.7,269.3 217.2,257.5 213.1,262.2 194.5,276.0 202.8,266.7 209.9,271.3 213.6,276.8 195.8,282.9 203.5,271.0 206.7,267.4 212.8,274.2 220.7,267.9 201.3,270.3 206.4,276.0 203.9,271.2 183.4,278.2 187.8,283.3 201.0,278.5 205.2,274.3 209.4,270.9 187.1,284.3 210.9,273.2 216.3,278.1 215.9,264.9 206.6,265.4 221.1,266.5 194.5,275.0 200.9,272.3 202.9,268.2 195.8,276.6 198.7,275.4 207.1,274.1 205.5,275.2 197.6,272.7 196.0,270.0 191.3,273.6 198.8,284.4 208.2,275.5 195.7,282.9 206.4,262.2 194.9,266.6 201.0,275.8 205.6,276.2 201.7,280.1 221.9,265.6 218.4,269.9 202.1,278.4 206.8,276.7 209.6,274.5 199.6,286.6 193.6,281.3 196.4,258.4 200.4,281.8 223.0,258.7 208.6,268.4 196.7,280.8 188.5,275.7 192.1,279.1 198.9,285.4 195.7,273.1 209.0,265.8 211.7,273.4 217.6,269.0 214.4,256.8 213.0,269.2 201.0,271.5 209.9,276.1 208.8,270.7 215.4,255.2 194.4,271.0 198.5,257.4 206.1,267.9 218.2,266.2 198.5,275.6 187.9,277.6 227.4,250.5 182.5,283.2 182.6,288.0 193.5,279.2 196.0,278.7 218.3,266.1 207.4,268.9 218.4,253.3 203.8,265.3 223.1,257.5 194.7,266.8 212.1,270.0 205.6,280.7 196.8,262.2 214.7,272.4 207.3,273.8 198.5,263.0 201.8,276.9 227.6,256.0 197.2,270.8 199.9,277.5 193.8,279.4 212.2,257.3 219.3,267.3 199.2,269.4 197.8,274.7 210.7,266.5 214.1,265.9 215.7,266.3 200.5,275.9 199.3,264.8 200.4,277.3 203.6,276.1 196.5,276.3 230.8,270.6 217.1,271.2 199.2,273.6 199.4,270.8 197.6,274.0 210.7,274.3 201.7,274.8 198.1,275.9 213.7,267.1 211.2,274.9 196.4,264.7 200.8,285.0 208.2,273.2 213.5,253.9 224.9,266.3 210.7,260.7 209.7,269.1 209.8,274.9 200.2,274.3 199.5,275.1 220.4,271.6 203.0,274.3 219.9,268.8 214.3,266.6 210.9,261.8 208.3,273.0 211.3,264.7 215.1,267.5 194.4,269.0 229.0,263.7 202.6,280.9 210.4,265.7 211.1,288.2 203.2,274.0 201.9,279.2 217.5,269.2 214.6,274.1 202.5,273.0 181.2,289.5 215.3,263.7 217.4,272.5 207.1,267.9 201.4,271.4 210.2,269.4 205.9,283.6 196.1,280.4 229.3,252.3 194.0,271.3 202.1,274.6 205.1,254.9 205.3,267.3 197.1,272.5 197.5,266.1 192.3,270.4 199.7,272.9 192.8,282.3 220.4,265.2 201.2,271.3 200.6,279.8 199.4,280.0 214.6,268.0 208.3,279.2 212.4,277.3 189.8,268.0 204.0,265.5 220.8,271.4 194.5,275.0 189.4,286.2 207.8,265.7 214.7,267.8 185.7,283.4 214.6,262.7 192.3,284.5 207.9,264.5 204.9,264.8 198.4,270.8 198.5,274.9 208.1,275.1 212.2,265.0 219.6,263.7 214.6,271.8 200.0,264.0 203.0,268.2 189.8,277.3 205.5,274.1 217.3,259.9 194.2,280.2 198.5,282.4 203.9,264.7 215.7,264.3 191.7,278.2 215.9,262.9 200.0,278.9 197.9,286.0 193.1,275.8 217.2,270.5 194.7,269.1 193.5,279.4 208.0,261.6 220.1,264.6 205.4,267.1 202.1,267.8 195.7,287.3 194.3,282.4 224.8,263.6 198.8,267.3 201.4,270.3 204.9,263.9 198.9,271.6 210.5,265.1 210.6,277.6 213.6,272.7 201.5,275.5 220.9,266.1 203.1,272.5 208.6,258.2 196.6,278.1 202.4,275.6 228.4,263.5 207.1,272.7 194.0,275.5 202.5,267.6 203.7,272.6 214.7,270.7 206.8,263.0 197.9,274.9 190.2,275.8 199.2,283.4 196.8,285.0 204.6,268.3 194.8,272.5 210.5,266.3 209.5,268.6 194.6,268.0 198.6,278.7 204.7,271.2 185.4,282.0 223.0,270.3 215.4,267.2 209.2,267.1 203.0,264.9 223.5,264.6 182.8,285.5 190.8,282.4 207.0,264.7 195.2,270.3 216.6,262.0 207.1,272.7 215.6,264.6 230.5,264.0 202.4,266.7 228.7,259.9 201.2,265.8 198.4,266.3 217.1,268.0 202.7,262.4 212.5,269.4 207.9,273.9 206.1,272.9 198.2,265.2 212.7,268.6 206.7,270.5 205.0,266.8 209.9,266.6 207.3,264.1 225.8,263.2 201.7,271.5 208.1,273.1 205.4,262.4 212.3,261.8 201.7,268.7 189.4,273.6 199.0,273.1 209.7,281.8 188.1,275.0 185.6,289.7 206.1,275.0 184.1,275.1 205.4,286.4 196.4,281.3 196.9,282.4 200.2,280.2 197.0,262.5 199.4,271.2 226.1,267.0 220.3,251.4 205.1,268.2 196.9,267.2 209.7,274.0 217.5,267.2 209.8,263.5 203.8,273.1 207.4,273.3 201.6,277.5 206.6,274.4 206.4,268.8 201.4,262.5 227.6,269.8 222.2,250.3 213.3,269.7 213.4,277.0 209.3,266.9 194.1,272.5 219.5,265.7 211.6,261.4 194.2,277.7 206.4,269.9 211.1,272.4 204.2,271.8 201.1,271.4 198.5,267.5 209.5,280.1 198.9,273.6 204.6,270.1 221.4,257.5 188.5,289.0 195.9,275.3 196.8,274.6 209.3,271.7 213.8,265.3 204.5,266.7 203.2,268.1 219.2,263.9 226.0,264.6 201.5,271.8 223.6,269.9 193.3,272.1 229.4,255.0 195.3,266.6 200.8,272.8 205.6,266.5 184.8,284.1 192.5,283.8 189.0,281.0 193.5,277.2 194.4,269.2 210.2,275.7 208.3,276.0 201.2,271.6 199.8,276.3 201.8,275.6 195.2,282.4 217.3,252.1 191.2,276.4 207.7,273.3 200.8,275.4 202.0,262.5 197.8,274.8 230.3,262.9 203.6,275.1 208.1,262.8 210.4,281.1 206.3,282.1 194.9,270.9 210.9,269.2 197.9,272.4 214.0,270.4 224.4,252.0 213.1,268.2 193.9,272.7 201.5,268.9 206.1,267.4 194.5,275.7 207.5,269.7 184.6,278.7 186.7,285.4 194.8,279.8 201.6,281.4 205.3,278.1 204.3,269.6 206.8,277.5 217.4,258.2 216.6,265.6 197.3,278.5 200.5,278.7 211.5,260.3 189.2,266.6 209.0,282.9 199.1,281.7 210.6,266.6 200.2,272.8 202.3,269.0 197.0,280.7 204.2,273.8 199.1,271.8 224.9,254.8 200.5,256.7 204.7,260.9 198.7,278.3 216.2,260.1 181.6,288.2 205.8,272.5 195.5,280.0 208.6,276.3 223.6,260.0 224.1,263.8 183.5,276.4 202.0,271.6 203.9,269.1 194.3,272.0 196.2,270.0 228.0,263.7 201.0,274.8 201.9,272.1 209.4,261.2 221.5,263.6 214.8,265.9 203.4,272.6 210.0,270.1 201.3,270.3 180.6,288.0 207.1,275.5 204.7,271.6 195.6,284.9 214.1,279.8 205.2,274.1 203.7,279.6 205.5,269.1 209.8,266.9 226.4,270.6 203.6,260.0 198.7,269.1 214.5,273.0 184.5,281.1 205.7,276.2 215.2,271.6 188.2,284.8 197.6,262.1 202.5,281.1 205.1,261.9 198.8,277.7 200.0,276.8 192.1,278.9 204.6,263.4 220.2,252.5 198.6,269.8 183.8,278.6 214.3,280.9 198.1,277.5 209.4,272.4 209.8,270.9 195.9,284.2 201.8,276.0 227.1,262.4 202.0,273.3 199.2,271.0 217.7,263.1 204.5,274.2 210.7,266.6 203.6,259.8 190.2,278.8 200.5,280.4 220.0,263.5 195.0,272.9 208.7,273.3 195.2,275.9 207.4,270.3 196.4,272.8 214.4,276.9 191.2,283.3 196.7,278.8 184.0,286.3 209.4,271.0 201.2,283.4 188.3,274.6 216.9,270.2 224.2,255.8 209.3,273.5 224.1,237.9 218.0,242.0 230.8,244.2 232.4,248.7 200.5,248.3 239.1,255.5 237.6,256.6 183.6,260.0 189.7,261.1 234.2,263.4 176.2,298.0 209.9,293.3 222.3,283.6 226.3,277.5 179.1,285.8 178.0,281.3 180.2,290.3 193.7,291.9" fill="none" stroke="none" marker-start="url(#pt)" marker-mid="url(#pt)" marker-end="url(#pt)"/>
<rect x="173.50" y="236.40" width="68.50" height="63.40" fill="none" stroke="#000" stroke-width="0.75"/>
<path d="M257.32 299.80V299.25H259.87V299.80ZM259.87 299.80V297.30H262.41V299.80ZM262.41 299.80V294.53H264.96V299.80ZM264.96 299.80V290.09H267.50V299.80ZM267.50 299.80V286.62H270.05V299.80ZM270.05 299.80V283.16H272.59V299.80ZM272.59 299.80V280.66H275.14V299.80ZM275.14 299.80V274.42H277.68V299.80ZM277.68 299.80V271.64H280.23V299.80ZM280.23 299.80V268.45H282.77V299.80ZM282.77 299.80V275.81H285.32V299.80ZM285.32 299.80V276.50H287.86V299.80ZM287.86 299.80V278.58H290.41V299.80ZM290.41 299.80V287.87H292.95V299.80ZM292.95 299.80V290.09H295.50V299.80ZM295.50 299.80V293.14H298.04V299.80ZM298.04 299.80V294.81H300.59V299.80ZM300.59 299.80V295.92H303.13V299.80ZM303.13 299.80V298.69H305.68V299.80ZM305.68 299.80V297.58H308.22V299.80ZM308.22 299.80V299.25H310.77V299.80Z" fill="#CD6600"/>
<rect x="250.70" y="236.40" width="68.70" height="63.40" fill="none" stroke="#000" stroke-width="0.75"/>
<path d="M101.95 17.05L101.95 11.75" stroke="#000" stroke-width="0.75" fill="none"/>
<path d="M118.76 17.05L118.76 11.75" stroke="#000" stroke-width="0.75" fill="none"/>
<path d="M135.57 17.05L135.57 11.75" stroke="#000" stroke-width="0.75" fill="none"/>
<path d="M152.37 17.05L152.37 11.75" stroke="#000" stroke-width="0.75" fill="none"/>
<path d="M257.48 17.05L257.48 11.75" stroke="#000" stroke-width="0.75" fill="none"/>
<path d="M270.27 17.05L270.27 11.75" stroke="#000" stroke-width="0.75" fill="none"/>
<path d="M283.07 17.05L283.07 11.75" stroke="#000" stroke-width="0.75" fill="none"/>
<path d="M295.86 17.05L295.86 11.75" stroke="#000" stroke-width="0.75" fill="none"/>
<path d="M308.65 17.05L308.65 11.75" stroke="#000" stroke-width="0.75" fill="none"/>
<path d="M24.62 299.80L24.62 305.10" stroke="#000" stroke-width="0.75" fill="none"/>
<path d="M41.35 299.80L41.35 305.10" stroke="#000" stroke-width="0.75" fill="none"/>
<path d="M58.07 299.80L58.07 305.10" stroke="#000" stroke-width="0.75" fill="none"/>
<path d="M74.79 299.80L74.79 305.10" stroke="#000" stroke-width="0.75" fill="none"/>
<path d="M181.61 299.80L181.61 305.10" stroke="#000" stroke-width="0.75" fill="none"/>
<path d="M191.07 299.80L191.07 305.10" stroke="#000" stroke-width="0.75" fill="none"/>
<path d="M200.53 299.80L200.53 305.10" stroke="#000" stroke-width="0.75" fill="none"/>
<path d="M209.98 299.80L209.98 305.10" stroke="#000" stroke-width="0.75" fill="none"/>
<path d="M219.44 299.80L219.44 305.10" stroke="#000" stroke-width="0.75" fill="none"/>
<path d="M228.90 299.80L228.90 305.10" stroke="#000" stroke-width="0.75" fill="none"/>
<path d="M238.36 299.80L238.36 305.10" stroke="#000" stroke-width="0.75" fill="none"/>
<path d="M18.10 147.64L12.80 147.64" stroke="#000" stroke-width="0.75" fill="none"/>
<path d="M18.10 131.86L12.80 131.86" stroke="#000" stroke-width="0.75" fill="none"/>
<path d="M18.10 116.07L12.80 116.07" stroke="#000" stroke-width="0.75" fill="none"/>
<path d="M18.10 100.28L12.80 100.28" stroke="#000" stroke-width="0.75" fill="none"/>
<path d="M18.10 293.54L12.80 293.54" stroke="#000" stroke-width="0.75" fill="none"/>
<path d="M18.10 281.74L12.80 281.74" stroke="#000" stroke-width="0.75" fill="none"/>
<path d="M18.10 269.93L12.80 269.93" stroke="#000" stroke-width="0.75" fill="none"/>
<path d="M18.10 258.12L12.80 258.12" stroke="#000" stroke-width="0.75" fill="none"/>
<path d="M18.10 246.32L12.80 246.32" stroke="#000" stroke-width="0.75" fill="none"/>
<path d="M319.40 74.18L324.70 74.18" stroke="#000" stroke-width="0.75" fill="none"/>
<path d="M319.40 58.74L324.70 58.74" stroke="#000" stroke-width="0.75" fill="none"/>
<path d="M319.40 43.30L324.70 43.30" stroke="#000" stroke-width="0.75" fill="none"/>
<path d="M319.40 27.86L324.70 27.86" stroke="#000" stroke-width="0.75" fill="none"/>
<path d="M319.40 219.18L324.70 219.18" stroke="#000" stroke-width="0.75" fill="none"/>
<path d="M319.40 210.30L324.70 210.30" stroke="#000" stroke-width="0.75" fill="none"/>
<path d="M319.40 201.41L324.70 201.41" stroke="#000" stroke-width="0.75" fill="none"/>
<path d="M319.40 192.53L324.70 192.53" stroke="#000" stroke-width="0.75" fill="none"/>
<path d="M319.40 183.64L324.70 183.64" stroke="#000" stroke-width="0.75" fill="none"/>
<path d="M319.40 174.76L324.70 174.76" stroke="#000" stroke-width="0.75" fill="none"/>
<path d="M319.40 165.87L324.70 165.87" stroke="#000" stroke-width="0.75" fill="none"/>
<path d="M369.02 80.20V78.54H372.08V80.20ZM372.08 80.20V77.43H375.15V80.20ZM375.15 80.20V75.07H378.21V80.20ZM378.21 80.20V68.83H381.28V80.20ZM381.28 80.20V55.23H384.34V80.20ZM384.34 80.20V57.45H387.41V80.20ZM387.41 80.20V48.72H390.47V80.20ZM390.47 80.20V49.13H393.54V80.20ZM393.54 80.20V51.49H396.60V80.20ZM396.60 80.20V56.34H399.67V80.20ZM399.67 80.20V63.97H402.73V80.20ZM402.73 80.20V64.39H405.80V80.20ZM405.80 80.20V71.32H408.86V80.20ZM408.86 80.20V75.07H411.93V80.20ZM411.93 80.20V76.46H414.99V80.20ZM414.99 80.20V78.54H418.06V80.20ZM418.06 80.20V79.23H421.12V80.20ZM421.12 80.20V79.65H424.19V80.20ZM424.19 80.20V79.92H427.25V80.20ZM427.25 80.20V79.92H430.32V80.20Z" fill="#999999"/>
<rect x="361.50" y="17.05" width="69.00" height="63.15" fill="none" stroke="#000" stroke-width="0.75"/>
<text transform="translate(474.35 52.82) scale(1 1.0)" font-size="11.9" stroke="#000" stroke-width="0.07">-0.53</text>
<text transform="translate(460.40 71.74) scale(1 0.86)" font-size="23.10" fill="#999999">***</text>
<rect x="439.70" y="17.05" width="69.30" height="63.15" fill="none" stroke="#000" stroke-width="0.75"/>
<text transform="translate(553.10 55.71) scale(1 0.931)" font-size="21.8" stroke="#000" stroke-width="0.13">0.75</text>
<text transform="translate(539.60 73.06) scale(1 0.86)" font-size="26.10" fill="#999999">***</text>
<rect x="518.90" y="17.05" width="69.60" height="63.15" fill="none" stroke="#000" stroke-width="0.75"/>
<text transform="translate(632.08 52.85) scale(1 0.968)" font-size="12.4" stroke="#000" stroke-width="0.07">0.46</text>
<text transform="translate(618.30 73.06) scale(1 0.86)" font-size="26.10" fill="#999999">***</text>
<rect x="597.50" y="17.05" width="69.15" height="63.15" fill="none" stroke="#000" stroke-width="0.75"/>
<polyline points="396.7,137.7 395.6,147.8 399.2,135.7 389.5,128.8 386.2,137.0 389.6,137.6 381.9,132.5 391.6,119.3 388.6,126.3 396.8,138.7 401.1,144.2 408.6,137.4 401.2,146.3 380.3,137.6 387.5,130.9 391.3,133.2 402.6,136.1 396.1,142.7 387.3,136.7 396.0,146.4 402.2,145.4 406.4,145.4 381.0,133.5 385.8,141.3 385.7,141.8 392.2,138.1 387.8,135.1 388.9,125.7 395.8,136.2 407.9,137.1 404.0,143.6 397.3,131.9 393.1,137.8 402.4,138.7 394.5,137.6 388.7,137.5 388.7,131.2 395.1,138.8 404.0,143.4 383.2,134.5 382.0,135.1 378.2,131.8 404.6,147.7 400.2,138.6 385.8,133.8 399.6,133.1 387.9,127.8 379.7,134.1 385.4,124.9 384.1,140.8 390.7,141.3 384.7,143.0 403.1,136.2 401.0,140.4 402.2,144.9 399.3,136.2 388.8,137.3 387.0,139.3 394.2,130.9 401.2,139.0 402.2,141.2 391.9,137.9 377.8,135.3 385.1,135.1 395.4,142.3 399.4,140.0 382.7,139.8 405.4,141.0 391.5,140.2 404.8,137.4 399.2,138.6 404.5,137.5 389.0,138.4 411.4,143.9 400.4,134.3 388.0,140.1 385.4,134.2 388.1,133.4 386.1,132.0 390.8,133.0 388.4,138.7 385.8,132.5 392.3,135.7 394.8,138.0 391.1,143.6 393.1,133.9 386.5,133.6 396.9,142.5 378.3,130.1 399.1,145.3 392.5,135.3 397.3,130.2 389.6,142.9 382.8,130.0 386.0,141.7 381.1,126.7 395.1,143.7 397.6,132.9 392.0,137.9 399.1,147.4 379.9,126.0 400.2,143.7 382.7,130.4 384.5,130.3 399.3,142.6 398.1,143.6 406.0,140.8 382.4,127.5 390.0,132.5 403.1,135.7 394.1,138.3 396.9,143.6 408.3,134.1 398.5,132.2 380.1,139.5 386.8,136.2 396.9,136.0 389.1,144.8 381.8,132.9 397.2,133.6 394.0,144.6 393.9,136.3 400.3,139.3 390.6,139.5 388.9,133.0 387.0,136.3 400.6,140.2 381.1,128.5 400.3,141.2 401.1,138.3 380.2,132.9 387.3,137.8 378.3,134.3 400.1,132.2 386.0,132.5 400.1,143.7 403.0,146.6 393.0,140.2 401.9,142.8 393.7,140.7 403.0,143.4 396.9,142.3 401.3,136.8 406.5,138.3 397.3,135.5 400.5,141.5 384.2,141.8 380.0,131.0 404.5,136.8 382.8,136.2 384.6,136.5 401.6,134.2 397.7,142.8 390.0,132.6 385.2,133.1 385.6,135.5 416.6,149.1 399.1,144.6 398.3,146.3 384.5,127.3 384.5,136.7 408.2,144.7 387.8,133.2 399.7,134.2 389.8,140.9 381.6,119.1 383.3,126.1 383.9,130.9 390.0,142.6 388.8,132.4 403.5,136.3 381.0,124.3 390.6,131.8 383.0,140.1 386.5,130.7 386.0,128.5 395.3,144.0 391.0,141.8 382.5,136.3 393.5,129.4 390.3,135.0 387.8,135.8 399.2,139.7 392.7,140.0 398.2,146.9 396.3,136.3 395.1,138.4 385.6,136.5 391.9,140.3 381.8,133.8 406.5,142.9 396.2,138.6 383.2,143.0 382.6,136.5 393.2,135.4 388.4,138.2 388.1,134.3 397.1,139.3 390.6,137.5 396.5,137.8 395.3,136.7 385.8,138.5 381.5,136.4 387.6,130.4 384.8,130.8 388.4,127.1 382.7,126.5 392.0,139.3 385.5,135.1 389.7,132.0 392.0,142.4 397.8,141.3 388.5,133.0 398.3,135.7 399.7,139.0 386.8,131.8 400.7,137.6 381.9,138.7 406.5,131.4 376.9,127.6 381.3,133.3 386.4,143.2 386.6,141.5 395.5,137.3 404.0,140.8 393.9,141.4 393.4,136.0 403.1,146.2 395.7,133.5 401.2,137.2 379.4,134.9 382.8,138.6 382.2,133.4 405.2,140.8 391.4,143.4 384.1,131.4 390.8,141.8 378.9,131.9 404.2,143.1 388.2,134.4 390.0,139.6 399.8,137.3 392.1,138.8 389.0,142.2 391.7,138.9 403.4,142.5 392.8,139.1 401.0,144.8 376.7,114.9 400.1,144.1 392.2,138.5 398.1,139.6 398.5,139.1 371.9,129.5 391.5,135.9 382.2,128.9 383.7,125.9 384.6,133.4 405.9,136.6 388.3,134.1 390.1,125.1 392.3,140.0 377.9,130.7 386.2,131.5 388.2,136.5 402.0,137.3 399.9,131.3 394.9,137.1 381.4,130.6 394.8,139.2 382.9,139.1 397.2,134.1 395.7,143.8 405.2,148.3 400.1,138.5 393.4,138.0 382.7,131.3 394.2,132.2 398.0,135.2 383.1,131.0 375.7,130.8 389.7,144.5 382.9,131.0 404.3,141.3 391.4,131.2 378.2,138.0 388.5,129.4 390.9,136.3 388.1,133.4 377.9,126.5 394.9,147.3 389.2,144.1 395.3,136.9 393.6,143.1 388.5,134.1 387.5,121.0 396.6,138.3 392.5,136.6 391.5,130.4 388.4,138.7 393.8,132.3 396.6,139.0 391.1,133.1 383.4,134.0 393.7,136.1 393.2,145.8 390.5,142.2 389.1,142.7 400.7,140.4 392.0,147.5 390.7,136.6 388.8,133.6 392.6,133.0 392.0,144.6 397.6,136.7 393.6,140.0 408.9,141.3 394.0,137.4 383.4,132.9 390.8,140.9 389.2,139.4 382.7,126.7 397.3,129.0 381.9,135.4 386.6,137.5 387.6,137.8 396.1,130.5 384.5,136.4 391.1,133.2 388.7,132.7 398.9,136.5 385.1,135.9 384.1,136.0 383.6,139.1 398.8,139.8 389.6,134.1 400.2,129.6 400.2,137.5 389.2,136.7 396.5,140.6 391.3,133.0 390.2,133.4 400.7,139.9 388.7,139.2 401.9,139.7 406.9,150.1 381.2,135.0 389.2,136.6 395.2,133.6 393.1,137.2 380.9,137.6 386.4,126.6 383.1,129.7 404.5,135.3 400.8,148.7 391.6,134.5 384.4,137.4 403.6,145.4 395.5,137.0 385.3,136.2 395.8,140.8 383.2,128.6 392.0,135.4 399.1,142.2 394.9,135.4 378.9,131.7 391.7,132.2 399.6,132.1 390.5,134.5 395.9,136.2 405.9,135.2 393.0,139.9 388.3,132.0 391.4,137.0 387.0,136.2 382.9,134.5 396.0,141.1 396.1,144.0 381.1,134.8 399.7,141.2 387.6,136.6 386.4,135.4 394.3,136.5 405.0,144.8 400.3,142.1 387.5,139.8 389.8,132.8 396.2,134.2 381.5,127.5 392.6,147.2 379.4,128.8 391.5,135.4 389.8,130.2 404.0,143.9 391.6,135.6 388.8,136.2 394.8,145.5 393.5,135.3 403.7,143.4 397.9,131.0 402.4,133.2 396.1,138.7 378.6,130.4 393.9,139.2 378.5,128.7 396.8,140.6 380.0,135.0 403.8,137.5 383.7,140.2 385.0,129.3 394.9,142.4 379.2,121.3 388.5,131.5 395.2,145.5 399.0,140.9 384.6,132.8 382.8,131.1 376.1,115.8 381.3,138.2 374.8,132.4 397.7,137.6 380.4,131.6 400.0,145.1 392.9,134.2 395.3,136.6 392.2,129.4 400.8,136.8 387.9,133.9 393.1,139.1 407.4,143.1 381.4,138.5 389.1,135.4 380.9,116.1 396.4,134.4 380.4,120.9 394.3,140.7 381.5,129.7 409.2,145.4 393.8,130.5 388.3,137.1 385.3,135.6 389.4,129.6 406.7,135.7 393.3,134.1 389.9,135.6 388.6,137.1 379.3,133.1 398.2,135.6 392.5,142.7 380.0,126.9 395.8,138.4 407.0,146.4 391.7,139.4 412.7,149.7 412.9,145.2 388.1,132.3 384.8,130.3 403.1,139.6 397.8,150.4 397.7,137.7 391.5,150.0 386.2,127.8 387.6,131.2 381.3,132.2 393.6,139.4 392.5,131.1 400.9,144.7 391.9,134.8 381.6,128.3 391.5,138.4 392.7,140.5 392.6,139.7 408.5,148.0 394.3,140.5 387.9,134.2 385.3,136.5 404.6,138.9 392.6,135.7 382.9,131.4 386.9,137.7 380.7,135.5 378.5,127.4 391.2,137.1 384.0,117.5 384.3,137.4 396.5,137.7 385.6,135.3 391.1,140.5 399.5,133.4 399.8,143.8 394.0,128.9 402.2,140.1 391.3,141.0 409.1,140.4 409.1,148.0 378.7,129.9 394.8,140.3 382.7,144.0 402.5,137.7 391.1,135.1 395.1,148.3 382.4,130.2 397.8,136.1 396.6,146.8 406.4,146.4 384.7,135.9 405.8,139.9 382.4,135.7 401.5,139.8 389.6,134.9 392.0,138.6 394.2,133.4 389.4,126.9 400.9,139.6 388.6,128.5 387.3,132.5 412.6,141.2 382.6,137.4 376.5,118.5 385.5,134.6 401.3,146.2 382.2,136.4 397.1,135.7 393.4,137.6 399.7,139.6 410.2,147.0 409.1,148.8 413.5,137.8 393.4,141.0 380.1,131.3 394.4,134.5 395.2,146.0 393.4,138.2 395.6,145.8 400.5,142.4 392.0,141.9 402.0,146.1 398.1,144.5 398.9,137.4 390.1,135.3 389.4,135.5 392.7,131.7 387.9,135.7 377.5,129.1 390.7,136.1 403.2,137.8 388.7,133.0 391.9,139.8 408.2,138.5 410.1,144.1 398.9,143.9 390.7,137.8 400.0,143.8 390.6,131.6 406.0,138.8 382.9,134.1 407.7,146.1 401.0,148.3 387.9,133.2 396.9,141.7 395.1,138.8 389.8,126.0 388.5,145.8 391.5,132.2 390.2,135.7 385.4,137.1 380.5,131.3 394.5,137.5 381.0,136.7 372.6,132.0 387.6,142.0 392.7,135.4 403.5,137.5 393.0,147.4 384.1,141.0 402.4,142.6 383.4,132.4 388.6,131.2 387.7,137.8 389.6,139.4 372.1,130.2 384.3,131.6 387.0,133.1 400.8,137.1 396.0,138.3 389.7,136.1 392.8,137.6 394.5,136.8 380.7,135.9 396.2,134.2 387.0,137.1 398.0,138.8 404.9,143.4 395.2,136.3 395.2,137.0 390.0,123.1 380.7,128.5 388.3,134.4 388.4,135.9 402.9,147.0 395.0,142.4 400.5,134.4 385.6,131.9 398.9,138.6 397.4,136.4 392.5,140.2 398.2,134.5 390.0,143.6 396.5,132.6 407.6,148.2 385.5,133.6 388.5,130.3 384.5,126.8 381.0,137.2 384.0,133.8 391.3,128.4 392.7,142.6 385.4,127.1 395.2,134.3 406.8,140.9 385.7,136.9 394.2,136.9 400.6,141.8 389.5,139.0 388.8,136.4 393.1,132.5 401.5,131.9 406.7,144.1 406.0,138.6 386.3,139.9 395.2,136.0 380.3,132.7 389.0,131.9 389.5,137.6 402.6,145.0 400.0,143.7 403.7,143.1 411.5,143.2 385.4,135.0 388.3,135.1 404.2,133.6 391.1,148.3 384.8,145.3 389.8,132.3 390.8,139.0 382.6,141.3 395.0,143.9 402.9,138.6 381.9,132.9 395.3,139.0 386.5,132.1 385.8,137.6 384.8,136.4 397.1,134.2 395.1,134.0 392.4,133.7 391.9,133.1 392.1,131.5 399.8,137.6 395.8,135.7 386.2,128.7 408.5,139.7 385.9,134.0 393.5,136.9 391.5,140.2 384.0,132.6 380.9,136.7 394.9,142.0 381.3,131.7 394.1,141.1 384.3,132.6 390.7,136.6 391.3,135.5 388.2,134.5 394.8,131.4 396.1,135.1 396.3,141.3 415.9,147.6 393.9,135.6 401.9,140.6 392.6,133.0 386.3,130.2 397.8,133.4 392.4,136.6 378.7,132.5 392.1,136.8 383.8,127.7 393.4,139.8 390.9,143.3 389.0,132.2 397.7,144.9 401.8,149.9 398.4,146.3 385.4,137.5 396.0,137.9 381.8,138.8 395.7,137.3 387.9,140.1 383.6,142.8 398.0,132.9 409.0,148.5 388.8,134.6 401.8,147.9 385.4,133.7 388.8,133.2 384.3,127.2 377.6,135.7 386.6,127.2 390.2,136.5 404.4,144.5 387.9,140.5 385.7,129.1 379.7,141.1 392.5,132.3 385.0,133.9 387.2,128.4 392.8,135.0 400.6,143.3 375.9,119.0 377.5,140.4 400.7,136.2 415.0,141.1 385.3,134.9 403.5,147.8 408.0,133.8 395.8,146.1 392.9,141.7 394.0,140.4 388.1,135.3 387.1,135.7 399.2,136.4 398.6,128.0 391.0,140.4 412.2,146.8 399.3,135.6 402.3,145.3 390.4,137.6 396.2,136.1 375.0,120.1 399.3,135.9 393.6,135.3 382.6,135.7 396.5,142.7 396.0,134.1 384.5,130.8 391.8,139.1 380.4,125.1 394.9,138.6 394.2,137.3 394.8,130.1 398.8,138.5 396.7,138.6 388.0,134.4 401.3,140.0 395.7,134.5 398.1,135.0 405.2,149.6 407.5,148.3 390.8,139.7 396.8,138.8 391.1,125.1 388.2,136.1 383.9,127.8 386.7,141.8 397.9,142.9 393.4,138.8 398.2,143.9 381.1,133.6 394.3,131.5 394.1,145.1 396.2,136.4 398.3,138.1 389.2,125.6 394.3,139.6 397.1,135.4 387.9,138.3 394.4,137.3 392.2,133.7 389.7,134.9 378.0,117.5 387.3,141.5 405.4,141.6 402.7,138.5 395.6,136.1 380.3,139.0 375.4,135.6 399.0,145.0 391.3,138.7 399.9,131.6 380.7,125.7 385.8,135.0 374.9,130.7 404.4,133.8 393.3,143.5 387.6,135.4 372.8,134.6 410.6,139.0 393.3,138.0 396.9,137.0 384.6,135.6 386.4,133.1 392.9,140.5 390.5,130.7 380.4,135.1 376.9,121.7 392.5,139.6 401.4,140.5 383.0,136.5 392.1,139.6 382.2,137.6 396.2,145.9 388.6,138.9 394.8,138.3 384.0,127.4 393.7,145.7 406.4,136.3 392.2,141.8 390.3,133.7 383.6,139.4 396.6,138.2 387.7,131.5 388.8,138.0 385.6,128.3 385.5,132.9 395.0,145.5 383.7,124.2 398.5,137.7 402.3,149.0 398.6,139.7 405.4,149.5 396.7,145.2 397.0,139.1 395.0,137.2 395.2,133.9 380.6,91.6 370.5,96.1 373.2,110.7 383.5,110.3 390.3,107.4 400.8,115.7 403.5,120.8 415.0,119.3 413.7,127.6 363.7,115.7 364.2,124.7 368.7,119.7 378.4,114.1 385.1,113.0 425.6,146.3 428.5,149.0 424.4,150.5 418.8,151.2 364.9,134.3 367.1,138.8 379.5,146.3" fill="none" stroke="none" marker-start="url(#pt)" marker-mid="url(#pt)" marker-end="url(#pt)"/>
<rect x="361.50" y="89.55" width="69.00" height="64.25" fill="none" stroke="#000" stroke-width="0.75"/>
<path d="M443.27 153.80V148.25H446.85V153.80ZM446.85 153.80V140.62H450.43V153.80ZM450.43 153.80V131.89H454.01V153.80ZM454.01 153.80V124.40H457.58V153.80ZM457.58 153.80V121.90H461.16V153.80ZM461.16 153.80V129.53H464.74V153.80ZM464.74 153.80V142.98H468.32V153.80ZM468.32 153.80V147.97H471.90V153.80ZM471.90 153.80V151.03H475.48V153.80ZM475.48 153.80V151.58H479.05V153.80ZM479.05 153.80V152.41H482.63V153.80ZM482.63 153.80V152.83H486.21V153.80ZM486.21 153.80V153.25H489.79V153.80ZM489.79 153.80V153.52H493.37V153.80ZM493.37 153.80V153.52H496.95V153.80ZM496.95 153.80V153.52H500.52V153.80ZM500.52 153.80V153.66H504.10V153.80ZM504.10 153.80V153.66H507.68V153.80Z" fill="#999999"/>
<rect x="439.70" y="89.55" width="69.30" height="64.25" fill="none" stroke="#000" stroke-width="0.75"/>
<text transform="translate(553.70 125.35) scale(1 1.0)" font-size="6.9" stroke="#000" stroke-width="0.04">-0.31</text>
<text transform="translate(539.60 144.94) scale(1 0.86)" font-size="23.10" fill="#999999">***</text>
<rect x="518.90" y="89.55" width="69.60" height="64.25" fill="none" stroke="#000" stroke-width="0.75"/>
<text transform="translate(632.08 125.83) scale(1 1.0)" font-size="8.3" stroke="#000" stroke-width="0.05">-0.35</text>
<text transform="translate(618.30 144.94) scale(1 0.86)" font-size="23.10" fill="#999999">***</text>
<rect x="597.50" y="89.55" width="69.15" height="64.25" fill="none" stroke="#000" stroke-width="0.75"/>
<polyline points="396.7,193.7 395.6,192.6 399.2,189.4 389.5,199.9 386.2,203.8 389.6,202.3 381.9,199.2 391.6,198.6 388.6,187.9 396.8,196.1 401.1,190.1 408.6,189.2 401.2,193.9 380.3,215.5 387.5,198.9 391.3,197.0 402.6,176.9 396.1,207.2 387.3,203.4 396.0,196.9 402.2,182.2 406.4,182.7 381.0,208.9 385.8,205.9 385.7,198.7 392.2,199.6 387.8,207.2 388.9,196.4 395.8,196.3 407.9,187.0 404.0,183.8 397.3,187.1 393.1,196.3 402.4,195.2 394.5,201.5 388.7,199.2 388.7,207.5 395.1,193.2 404.0,189.3 383.2,211.5 382.0,205.6 378.2,205.6 404.6,192.3 400.2,189.5 385.8,197.7 399.6,189.1 387.9,207.2 379.7,210.4 385.4,197.1 384.1,204.6 390.7,199.4 384.7,205.3 403.1,186.7 401.0,189.2 402.2,187.3 399.3,193.1 388.8,205.4 387.0,200.3 394.2,184.9 401.2,177.9 402.2,191.2 391.9,194.1 377.8,215.0 385.1,211.9 395.4,194.0 399.4,188.6 382.7,209.0 405.4,179.3 391.5,201.3 404.8,193.3 399.2,195.9 404.5,186.3 389.0,204.5 411.4,179.6 400.4,185.6 388.0,213.1 385.4,202.7 388.1,198.5 386.1,199.7 390.8,196.4 388.4,193.0 385.8,211.9 392.3,200.1 394.8,193.3 391.1,204.8 393.1,198.3 386.5,197.2 396.9,193.4 378.3,208.6 399.1,197.4 392.5,202.5 397.3,196.7 389.6,194.5 382.8,198.8 386.0,203.2 381.1,202.6 395.1,194.0 397.6,196.2 392.0,206.8 399.1,196.2 379.9,206.7 400.2,176.1 382.7,202.5 384.5,200.8 399.3,186.0 398.1,190.1 406.0,183.4 382.4,201.8 390.0,199.1 403.1,189.9 394.1,195.9 396.9,198.8 408.3,180.5 398.5,189.8 380.1,201.3 386.8,200.2 396.9,192.5 389.1,198.4 381.8,203.6 397.2,194.4 394.0,192.3 393.9,199.1 400.3,204.7 390.6,201.8 388.9,204.4 387.0,203.3 400.6,186.3 381.1,207.1 400.3,194.5 401.1,176.1 380.2,212.5 387.3,201.5 378.3,206.8 400.1,184.1 386.0,193.9 400.1,189.2 403.0,194.1 393.0,194.7 401.9,189.6 393.7,193.3 403.0,196.5 396.9,200.2 401.3,189.0 406.5,190.0 397.3,195.1 400.5,187.0 384.2,205.5 380.0,209.8 404.5,183.7 382.8,207.1 384.6,203.7 401.6,189.3 397.7,198.1 390.0,201.6 385.2,208.9 385.6,200.2 416.6,190.3 399.1,188.1 398.3,189.2 384.5,189.0 384.5,205.2 408.2,186.6 387.8,209.2 399.7,192.8 389.8,208.2 381.6,200.1 383.3,204.4 383.9,210.5 390.0,199.9 388.8,192.8 403.5,183.2 381.0,203.4 390.6,191.4 383.0,205.9 386.5,197.3 386.0,195.7 395.3,194.2 391.0,196.3 382.5,212.1 393.5,197.9 390.3,204.0 387.8,199.5 399.2,195.9 392.7,190.8 398.2,197.1 396.3,196.5 395.1,195.3 385.6,199.9 391.9,201.4 381.8,207.4 406.5,181.8 396.2,199.8 383.2,201.7 382.6,211.1 393.2,192.4 388.4,195.1 388.1,205.8 397.1,197.1 390.6,196.5 396.5,200.3 395.3,194.6 385.8,200.0 381.5,205.9 387.6,201.7 384.8,204.5 388.4,197.0 382.7,202.1 392.0,200.0 385.5,191.9 389.7,202.5 392.0,198.8 397.8,189.9 388.5,196.7 398.3,191.6 399.7,203.3 386.8,200.0 400.7,194.6 381.9,209.1 406.5,184.1 376.9,213.0 381.3,207.8 386.4,197.0 386.6,208.0 395.5,188.9 404.0,192.5 393.9,188.3 393.4,199.1 403.1,195.9 395.7,190.7 401.2,184.2 379.4,211.4 382.8,204.6 382.2,202.4 405.2,183.7 391.4,201.0 384.1,205.9 390.8,197.4 378.9,208.4 404.2,192.1 388.2,194.6 390.0,198.1 399.8,181.0 392.1,192.0 389.0,202.1 391.7,197.3 403.4,187.9 392.8,202.6 401.0,192.2 376.7,202.1 400.1,203.9 392.2,199.4 398.1,195.2 398.5,198.3 371.9,213.3 391.5,193.7 382.2,203.4 383.7,201.8 384.6,202.2 405.9,185.3 388.3,212.3 390.1,194.3 392.3,200.7 377.9,216.1 386.2,193.6 388.2,200.0 402.0,189.1 399.9,189.3 394.9,199.2 381.4,197.2 394.8,191.6 382.9,204.0 397.2,188.5 395.7,194.6 405.2,189.7 400.1,191.3 393.4,195.7 382.7,202.1 394.2,188.7 398.0,191.4 383.1,203.2 375.7,211.0 389.7,201.6 382.9,207.5 404.3,186.4 391.4,205.8 378.2,211.1 388.5,195.9 390.9,209.5 388.1,199.5 377.9,211.9 394.9,200.2 389.2,187.7 395.3,191.6 393.6,196.6 388.5,205.1 387.5,200.1 396.6,192.5 392.5,193.0 391.5,196.0 388.4,201.9 393.8,190.9 396.6,190.0 391.1,190.4 383.4,208.2 393.7,186.6 393.2,200.6 390.5,196.6 389.1,200.5 400.7,194.4 392.0,205.1 390.7,199.2 388.8,196.5 392.6,194.5 392.0,198.8 397.6,184.2 393.6,197.4 408.9,182.6 394.0,197.5 383.4,203.1 390.8,199.4 389.2,188.7 382.7,204.4 397.3,190.6 381.9,205.4 386.6,205.0 387.6,198.9 396.1,191.3 384.5,209.1 391.1,195.6 388.7,195.1 398.9,183.5 385.1,211.3 384.1,207.0 383.6,195.6 398.8,204.1 389.6,197.1 400.2,186.8 400.2,202.3 389.2,206.3 396.5,195.9 391.3,194.7 390.2,202.3 400.7,182.8 388.7,204.6 401.9,190.1 406.9,188.5 381.2,211.8 389.2,199.3 395.2,190.7 393.1,189.8 380.9,209.6 386.4,197.1 383.1,200.1 404.5,178.5 400.8,190.8 391.6,199.7 384.4,209.0 403.6,197.1 395.5,199.4 385.3,203.5 395.8,187.4 383.2,198.8 392.0,192.8 399.1,190.1 394.9,196.5 378.9,209.9 391.7,186.8 399.6,184.1 390.5,202.3 395.9,202.0 405.9,182.0 393.0,196.6 388.3,199.0 391.4,196.7 387.0,203.8 382.9,202.7 396.0,187.7 396.1,195.7 381.1,198.6 399.7,191.7 387.6,196.4 386.4,205.7 394.3,191.7 405.0,184.1 400.3,198.7 387.5,203.4 389.8,191.6 396.2,194.5 381.5,198.3 392.6,195.5 379.4,204.8 391.5,200.8 389.8,194.7 404.0,186.8 391.6,193.6 388.8,202.0 394.8,196.8 393.5,194.3 403.7,194.9 397.9,180.1 402.4,189.8 396.1,191.3 378.6,207.6 393.9,199.3 378.5,206.1 396.8,196.3 380.0,204.3 403.8,192.6 383.7,204.3 385.0,197.2 394.9,195.7 379.2,213.6 388.5,202.8 395.2,199.7 399.0,188.5 384.6,202.8 382.8,204.8 376.1,209.9 381.3,208.7 374.8,214.2 397.7,193.7 380.4,200.2 400.0,188.0 392.9,192.1 395.3,197.2 392.2,200.4 400.8,194.2 387.9,196.0 393.1,200.4 407.4,189.9 381.4,206.9 389.1,192.2 380.9,199.3 396.4,193.9 380.4,203.6 394.3,196.6 381.5,211.2 409.2,177.2 393.8,196.4 388.3,197.9 385.3,202.9 389.4,199.3 406.7,184.0 393.3,187.6 389.9,199.3 388.6,200.7 379.3,205.3 398.2,188.8 392.5,192.1 380.0,202.9 395.8,192.5 407.0,192.3 391.7,191.1 412.7,180.9 412.9,189.4 388.1,203.8 384.8,189.6 403.1,190.0 397.8,199.0 397.7,194.0 391.5,192.8 386.2,200.3 387.6,207.1 381.3,204.1 393.6,195.4 392.5,198.5 400.9,189.8 391.9,199.8 381.6,208.9 391.5,201.6 392.7,199.5 392.6,197.6 408.5,183.7 394.3,199.4 387.9,191.3 385.3,195.7 404.6,187.2 392.6,198.1 382.9,204.7 386.9,196.2 380.7,212.1 378.5,205.4 391.2,200.1 384.0,205.9 384.3,205.0 396.5,191.0 385.6,203.5 391.1,196.9 399.5,184.4 399.8,194.1 394.0,189.4 402.2,182.4 391.3,199.1 409.1,183.7 409.1,190.5 378.7,207.9 394.8,199.6 382.7,208.6 402.5,190.4 391.1,197.5 395.1,194.4 382.4,206.2 397.8,192.9 396.6,188.1 406.4,192.1 384.7,193.8 405.8,185.4 382.4,205.5 401.5,188.5 389.6,204.2 392.0,194.6 394.2,202.5 389.4,198.9 400.9,188.4 388.6,195.8 387.3,197.3 412.6,183.5 382.6,211.5 376.5,211.7 385.5,202.0 401.3,196.1 382.2,203.6 397.1,192.6 393.4,191.6 399.7,186.5 410.2,185.9 409.1,187.5 413.5,183.1 393.4,189.9 380.1,207.5 394.4,195.4 395.2,191.8 393.4,193.6 395.6,189.5 400.5,190.3 392.0,198.3 402.0,186.8 398.1,192.3 398.9,191.0 390.1,198.4 389.4,201.7 392.7,198.2 387.9,200.2 377.5,215.9 390.7,191.8 403.2,189.1 388.7,189.9 391.9,198.8 408.2,182.4 410.1,184.8 398.9,189.7 390.7,200.1 400.0,189.6 390.6,196.4 406.0,183.3 382.9,195.7 407.7,187.8 401.0,192.0 387.9,203.8 396.9,194.3 395.1,203.7 389.8,196.4 388.5,206.2 391.5,198.3 390.2,199.7 385.4,196.4 380.5,206.0 394.5,201.8 381.0,205.2 372.6,213.9 387.6,197.3 392.7,205.0 403.5,183.2 393.0,201.6 384.1,207.2 402.4,191.1 383.4,196.4 388.6,194.6 387.7,205.0 389.6,203.4 372.1,213.3 384.3,201.5 387.0,205.4 400.8,184.1 396.0,189.6 389.7,197.7 392.8,202.2 394.5,193.9 380.7,208.7 396.2,191.0 387.0,202.3 398.0,192.2 404.9,184.2 395.2,194.9 395.2,195.2 390.0,197.6 380.7,213.3 388.3,199.5 388.4,204.2 402.9,188.4 395.0,188.1 400.5,195.4 385.6,210.1 398.9,192.9 397.4,193.6 392.5,195.5 398.2,187.8 390.0,212.7 396.5,197.6 407.6,190.7 385.5,209.9 388.5,195.4 384.5,201.8 381.0,210.4 384.0,205.5 391.3,199.7 392.7,194.1 385.4,202.7 395.2,189.9 406.8,182.0 385.7,202.4 394.2,188.1 400.6,198.6 389.5,195.6 388.8,199.2 393.1,180.3 401.5,192.8 406.7,187.1 406.0,186.8 386.3,203.3 395.2,195.5 380.3,202.9 389.0,203.9 389.5,195.5 402.6,193.9 400.0,190.0 403.7,186.1 411.5,179.3 385.4,201.7 388.3,195.3 404.2,180.2 391.1,201.8 384.8,201.8 389.8,199.7 390.8,200.1 382.6,202.2 395.0,209.2 402.9,199.0 381.9,197.0 395.3,196.9 386.5,198.3 385.8,202.0 384.8,195.4 397.1,192.7 395.1,195.3 392.4,198.2 391.9,202.1 392.1,206.1 399.8,187.6 395.8,188.6 386.2,194.5 408.5,178.7 385.9,201.6 393.5,203.4 391.5,194.8 384.0,200.9 380.9,205.9 394.9,193.4 381.3,201.4 394.1,201.7 384.3,200.9 390.7,194.6 391.3,203.0 388.2,205.2 394.8,193.0 396.1,196.2 396.3,186.2 415.9,176.6 393.9,204.9 401.9,195.9 392.6,198.2 386.3,199.0 397.8,192.9 392.4,199.8 378.7,211.8 392.1,196.8 383.8,199.7 393.4,194.9 390.9,201.5 389.0,197.1 397.7,195.9 401.8,197.8 398.4,197.4 385.4,201.2 396.0,194.7 381.8,202.6 395.7,194.3 387.9,208.4 383.6,208.4 398.0,188.4 409.0,192.5 388.8,194.1 401.8,197.4 385.4,196.7 388.8,197.3 384.3,203.0 377.6,215.8 386.6,207.6 390.2,205.7 404.4,189.0 387.9,196.3 385.7,205.4 379.7,212.6 392.5,187.1 385.0,205.2 387.2,194.2 392.8,196.1 400.6,193.7 375.9,211.1 377.5,213.4 400.7,182.3 415.0,187.8 385.3,205.9 403.5,193.9 408.0,181.1 395.8,199.1 392.9,202.4 394.0,188.6 388.1,200.5 387.1,198.7 399.2,192.6 398.6,188.1 391.0,193.2 412.2,190.9 399.3,190.1 402.3,179.1 390.4,191.9 396.2,197.6 375.0,208.5 399.3,180.7 393.6,201.2 382.6,211.9 396.5,194.4 396.0,192.6 384.5,196.4 391.8,204.0 380.4,197.2 394.9,194.6 394.2,192.2 394.8,188.4 398.8,188.4 396.7,189.7 388.0,206.2 401.3,181.7 395.7,187.8 398.1,187.8 405.2,190.9 407.5,192.3 390.8,203.7 396.8,196.4 391.1,200.2 388.2,196.5 383.9,200.7 386.7,205.8 397.9,193.1 393.4,197.3 398.2,199.8 381.1,210.6 394.3,187.1 394.1,199.4 396.2,192.9 398.3,192.0 389.2,197.4 394.3,196.2 397.1,190.9 387.9,202.0 394.4,195.4 392.2,200.8 389.7,204.1 378.0,213.4 387.3,203.5 405.4,182.1 402.7,195.4 395.6,203.5 380.3,208.5 375.4,208.4 399.0,192.7 391.3,201.2 399.9,189.8 380.7,208.6 385.8,198.9 374.9,211.4 404.4,182.0 393.3,200.6 387.6,201.3 372.8,213.8 410.6,180.6 393.3,203.4 396.9,192.6 384.6,199.1 386.4,202.5 392.9,192.6 390.5,189.8 380.4,207.3 376.9,209.0 392.5,195.7 401.4,189.0 383.0,202.2 392.1,199.2 382.2,210.7 396.2,200.1 388.6,196.5 394.8,195.9 384.0,199.9 393.7,194.3 406.4,180.9 392.2,200.6 390.3,194.5 383.6,200.6 396.6,189.7 387.7,194.5 388.8,201.4 385.6,206.9 385.5,190.6 395.0,198.7 383.7,198.0 398.5,199.6 402.3,185.1 398.6,197.9 405.4,190.2 396.7,193.2 397.0,198.2 395.0,186.8 395.2,185.2 408.7,165.7 409.8,168.4 405.3,168.4 417.3,172.0 425.6,178.1 427.8,183.7 420.0,193.8 417.3,195.4 413.7,199.5 368.7,195.4 375.0,193.8 380.6,188.7 386.2,179.7 394.1,177.0 398.6,212.3 396.3,214.1 384.0,220.8 367.1,224.9 364.2,222.0 364.9,217.0 363.7,212.3 370.9,222.4" fill="none" stroke="none" marker-start="url(#pt)" marker-mid="url(#pt)" marker-end="url(#pt)"/>
<rect x="361.50" y="162.45" width="69.00" height="64.35" fill="none" stroke="#000" stroke-width="0.75"/>
<polyline points="457.1,193.7 446.2,192.6 459.2,189.4 466.7,199.9 457.8,203.8 457.1,202.3 462.6,199.2 476.9,198.6 469.4,187.9 456.0,196.1 450.0,190.1 457.4,189.2 447.8,193.9 457.2,215.5 464.4,198.9 461.9,197.0 458.8,176.9 451.7,207.2 458.1,203.4 447.7,196.9 448.8,182.2 448.8,182.7 461.6,208.9 453.2,205.9 452.6,198.7 456.6,199.6 459.8,207.2 470.0,196.4 458.6,196.3 457.8,187.0 450.7,183.8 463.3,187.1 457.0,196.3 456.0,195.2 457.2,201.5 457.3,199.2 464.1,207.5 455.8,193.2 451.0,189.3 460.5,211.5 459.9,205.6 463.4,205.6 446.3,192.3 456.1,189.5 461.3,197.7 462.1,189.1 467.7,207.2 461.0,210.4 470.8,197.1 453.7,204.6 453.2,199.4 451.4,205.3 458.7,186.7 454.1,189.2 449.3,187.3 458.6,193.1 457.5,205.4 455.3,200.3 464.4,184.9 455.7,177.9 453.3,191.2 456.8,194.1 459.6,215.0 459.9,211.9 452.1,194.0 454.5,188.6 454.8,209.0 453.5,179.3 454.4,201.3 457.4,193.3 456.1,195.9 457.3,186.3 456.3,204.5 450.3,179.6 460.7,185.6 454.5,213.1 460.9,202.7 461.7,198.5 463.3,199.7 462.1,196.4 456.0,193.0 462.7,211.9 459.2,200.1 456.8,193.3 450.7,204.8 461.2,198.3 461.5,197.2 451.9,193.4 465.3,208.6 448.9,197.4 459.7,202.5 465.1,196.7 451.5,194.5 465.4,198.8 452.8,203.2 468.9,202.6 450.6,194.0 462.2,196.2 456.9,206.8 446.6,196.2 469.7,206.7 450.6,176.1 464.9,202.5 465.0,200.8 451.8,186.0 450.7,190.1 453.7,183.4 468.0,201.8 462.6,199.1 459.2,189.9 456.4,195.9 450.7,198.8 460.9,180.5 463.0,189.8 455.1,201.3 458.7,200.2 458.9,192.5 449.4,198.4 462.3,203.6 461.5,194.4 449.6,192.3 458.5,199.1 455.4,204.7 455.1,201.8 462.1,204.4 458.6,203.3 454.3,186.3 466.9,207.1 453.3,194.5 456.4,176.1 462.2,212.5 456.9,201.5 460.7,206.8 463.0,184.1 462.7,193.9 450.6,189.2 447.5,194.1 454.4,194.7 451.6,189.6 453.8,193.3 451.0,196.5 452.1,200.2 458.0,189.0 456.4,190.0 459.4,195.1 453.0,187.0 452.6,205.5 464.3,209.8 458.0,183.7 458.7,207.1 458.3,203.7 460.8,189.3 451.6,198.1 462.6,201.6 462.0,208.9 459.5,200.2 444.8,190.3 449.7,188.1 447.8,189.2 468.3,189.0 458.1,205.2 449.5,186.6 461.9,209.2 460.8,192.8 453.6,208.2 477.1,200.1 469.6,204.4 464.4,210.5 451.8,199.9 462.8,192.8 458.6,183.2 471.5,203.4 463.4,191.4 454.5,205.9 464.6,197.3 467.0,195.7 450.2,194.2 452.6,196.3 458.5,212.1 466.0,197.9 460.0,204.0 459.1,199.5 454.9,195.9 454.6,190.8 447.2,197.1 458.6,196.5 456.3,195.3 458.4,199.9 454.3,201.4 461.3,207.4 451.4,181.8 456.1,199.8 451.3,201.7 458.3,211.1 459.6,192.4 456.5,195.1 460.8,205.8 455.4,197.1 457.3,196.5 457.0,200.3 458.2,194.6 456.1,200.0 458.4,205.9 465.0,201.7 464.5,204.5 468.5,197.0 469.2,202.1 455.3,200.0 459.9,191.9 463.2,202.5 452.0,198.8 453.2,189.9 462.1,196.7 459.2,191.6 455.7,203.3 463.4,200.0 457.2,194.6 456.0,209.1 463.8,184.1 468.0,213.0 461.8,207.8 451.1,197.0 452.9,208.0 457.5,188.9 453.7,192.5 453.1,188.3 458.9,199.1 447.9,195.9 461.6,190.7 457.6,184.2 460.1,211.4 456.1,204.6 461.8,202.4 453.8,183.7 450.9,201.0 463.8,205.9 452.6,197.4 463.3,208.4 451.2,192.1 460.7,194.6 455.0,198.1 457.5,181.0 455.9,192.0 452.2,202.1 455.7,197.3 451.9,187.9 455.6,202.6 449.5,192.2 481.7,202.1 450.1,203.9 456.2,199.4 455.1,195.2 455.5,198.3 465.9,213.3 459.0,193.7 466.6,203.4 469.8,201.8 461.7,202.2 458.3,185.3 461.0,212.3 470.7,194.3 454.6,200.7 464.6,216.1 463.7,193.6 458.4,200.0 457.5,189.1 463.9,189.3 457.7,199.2 464.7,197.2 455.5,191.6 455.5,204.0 460.9,188.5 450.5,194.6 445.7,189.7 456.2,191.3 456.7,195.7 464.0,202.1 463.0,188.7 459.8,191.4 464.3,203.2 464.5,211.0 449.7,201.6 464.3,207.5 453.2,186.4 464.1,205.8 456.7,211.1 466.0,195.9 458.5,209.5 461.7,199.5 469.2,211.9 446.7,200.2 450.2,187.7 457.9,191.6 451.3,196.6 461.0,205.1 475.1,200.1 456.4,192.5 458.2,193.0 464.9,196.0 456.0,201.9 462.9,190.9 455.7,190.0 462.0,190.4 461.0,208.2 458.8,186.6 448.4,200.6 452.2,196.6 451.7,200.5 454.2,194.4 446.5,205.1 458.2,199.2 461.4,196.5 462.1,194.5 449.6,198.8 458.1,184.2 454.6,197.4 453.1,182.6 457.4,197.5 462.3,203.1 453.6,199.4 455.3,188.7 468.9,204.4 466.4,190.6 459.5,205.4 457.3,205.0 456.9,198.9 464.9,191.3 458.5,209.1 461.9,195.6 462.5,195.1 458.4,183.5 459.0,211.3 458.9,207.0 455.5,195.6 454.8,204.1 460.9,197.1 465.8,186.8 457.2,202.3 458.1,206.3 453.9,195.9 462.2,194.7 461.7,202.3 454.7,182.8 455.4,204.6 454.9,190.1 443.7,188.5 459.9,211.8 458.3,199.3 461.5,190.7 457.6,189.8 457.2,209.6 469.0,197.1 465.7,200.1 459.6,178.5 445.2,190.8 460.5,199.7 457.4,209.0 448.8,197.1 457.9,199.4 458.7,203.5 453.8,187.4 466.8,198.8 459.6,192.8 452.2,190.1 459.6,196.5 463.6,209.9 463.0,186.8 463.2,184.1 460.6,202.3 458.7,202.0 459.8,182.0 454.7,196.6 463.2,199.0 457.9,196.7 458.7,203.8 460.5,202.7 453.4,187.7 450.3,195.7 460.2,198.6 453.2,191.7 458.3,196.4 459.5,205.7 458.3,191.7 449.4,184.1 452.4,198.7 454.8,203.4 462.3,191.6 460.9,194.5 468.0,198.3 446.9,195.5 466.7,204.8 459.6,200.8 465.2,194.7 450.4,186.8 459.4,193.6 458.7,202.0 448.6,196.8 459.6,194.3 450.9,194.9 464.3,180.1 462.0,189.8 456.0,191.3 464.9,207.6 455.4,199.3 466.8,206.1 453.9,196.3 460.0,204.3 457.2,192.6 454.4,204.3 466.1,197.2 452.0,195.7 474.8,213.6 463.7,202.8 448.7,199.7 453.6,188.5 462.3,202.8 464.2,204.8 480.7,209.9 456.5,208.7 462.7,214.2 457.2,193.7 463.7,200.2 449.1,188.0 460.8,192.1 458.3,197.2 466.0,200.4 458.0,194.2 461.1,196.0 455.6,200.4 451.2,189.9 456.3,206.9 459.5,192.2 480.3,199.3 460.6,193.9 475.2,203.6 453.8,196.6 465.7,211.2 448.8,177.2 464.8,196.4 457.7,197.9 459.3,202.9 465.8,199.3 459.2,184.0 460.9,187.6 459.3,199.3 457.7,200.7 462.0,205.3 459.3,188.8 451.7,192.1 468.7,202.9 456.3,192.5 447.6,192.3 455.2,191.1 444.2,180.9 449.0,189.4 462.9,203.8 465.1,189.6 455.0,190.0 443.4,199.0 457.1,194.0 443.8,192.8 467.7,200.3 464.1,207.1 463.0,204.1 455.3,195.4 464.2,198.5 449.5,189.8 460.2,199.8 467.2,208.9 456.4,201.6 454.1,199.5 454.9,197.6 446.0,183.7 454.0,199.4 460.9,191.3 458.4,195.7 455.8,187.2 459.2,198.1 463.8,204.7 457.1,196.2 459.4,212.1 468.2,205.4 457.7,200.1 478.8,205.9 457.3,205.0 457.0,191.0 459.7,203.5 454.0,196.9 461.7,184.4 450.4,194.1 466.5,189.4 454.5,182.4 453.6,199.1 454.2,183.7 446.0,190.5 465.5,207.9 454.3,199.6 450.2,208.6 457.0,190.4 459.8,197.5 445.6,194.4 465.1,206.2 458.8,192.9 447.2,188.1 447.7,192.1 459.1,193.8 454.7,185.4 459.3,205.5 454.8,188.5 460.1,204.2 456.1,194.6 461.7,202.5 468.7,198.9 455.0,188.4 466.9,195.8 462.7,197.3 453.3,183.5 457.4,211.5 477.7,211.7 460.4,202.0 448.0,196.1 458.4,203.6 459.2,192.6 457.2,191.6 455.1,186.5 447.0,185.9 445.1,187.5 456.9,183.1 453.5,189.9 463.9,207.5 460.6,195.4 448.1,191.8 456.5,193.6 448.4,189.5 452.0,190.3 452.5,198.3 448.1,186.8 449.8,192.3 457.4,191.0 459.7,198.4 459.4,201.7 463.5,198.2 459.2,200.2 466.3,215.9 458.8,191.8 456.9,189.1 462.2,189.9 454.8,198.8 456.2,182.4 450.1,184.8 450.3,189.7 457.0,200.1 450.4,189.6 463.7,196.4 455.8,183.3 461.0,195.7 448.0,187.8 445.6,192.0 462.0,203.8 452.8,194.3 455.9,203.7 469.7,196.4 448.3,206.2 463.0,198.3 459.2,199.7 457.7,196.4 464.0,206.0 457.3,201.8 458.2,205.2 463.2,213.9 452.5,197.3 459.6,205.0 457.3,183.2 446.6,201.6 453.5,207.2 451.7,191.1 462.8,196.4 464.1,194.6 456.9,205.0 455.3,203.4 465.2,213.3 463.6,201.5 462.1,205.4 457.7,184.1 456.4,189.6 458.8,197.7 457.2,202.2 458.1,193.9 459.0,208.7 460.9,191.0 457.7,202.3 455.8,192.2 450.9,184.2 458.6,194.9 457.9,195.2 472.8,197.6 467.0,213.3 460.6,199.5 459.0,204.2 447.1,188.4 452.0,188.1 460.6,195.4 463.3,210.1 456.1,192.9 458.5,193.6 454.4,195.5 460.5,187.8 450.7,212.7 462.5,197.6 445.7,190.7 461.5,209.9 465.1,195.4 468.8,201.8 457.6,210.4 461.3,205.5 467.1,199.7 451.7,194.1 468.5,202.7 460.8,189.9 453.7,182.0 458.0,202.4 458.0,188.1 452.6,198.6 455.6,195.6 458.4,199.2 462.7,180.3 463.4,192.8 450.1,187.1 456.1,186.8 454.7,203.3 458.9,195.5 462.5,202.9 463.3,203.9 457.2,195.5 449.2,193.9 450.6,190.0 451.2,186.1 451.2,179.3 460.0,201.7 459.9,195.3 461.5,180.2 445.6,201.8 448.8,201.8 462.8,199.7 455.7,200.1 453.2,202.2 450.4,209.2 456.1,199.0 462.3,197.0 455.6,196.9 463.1,198.3 457.2,202.0 458.4,195.4 460.8,192.7 461.1,195.3 461.3,198.2 462.1,202.1 463.8,206.1 457.2,187.6 459.3,188.6 466.7,194.5 454.9,178.7 461.0,201.6 457.9,203.4 454.4,194.8 462.6,200.9 458.2,205.9 452.5,193.4 463.5,201.4 453.4,201.7 462.6,200.9 458.3,194.6 459.4,203.0 460.5,205.2 463.8,193.0 459.9,196.2 453.2,186.2 446.4,176.6 459.4,204.9 454.0,195.9 462.2,198.2 465.2,199.0 461.7,192.9 458.2,199.8 462.7,211.8 458.0,196.8 467.9,199.7 454.8,194.9 451.1,201.5 463.0,197.1 449.3,195.9 444.0,197.8 447.8,197.4 457.3,201.2 456.9,194.7 455.9,202.6 457.5,194.3 454.5,208.4 451.5,208.4 462.3,188.4 445.4,192.5 460.4,194.1 446.0,197.4 461.4,196.7 461.9,197.3 468.4,203.0 459.2,215.8 468.4,207.6 458.3,205.7 449.7,189.0 454.1,196.3 466.3,205.4 453.4,212.6 462.9,187.1 461.2,205.2 467.1,194.2 460.0,196.1 451.0,193.7 477.3,211.1 454.1,213.4 458.7,182.3 453.4,187.8 460.1,205.9 446.2,193.9 461.3,181.1 448.0,199.1 452.8,202.4 454.1,188.6 459.7,200.5 459.3,198.7 458.5,192.6 467.6,188.1 454.2,193.2 447.2,190.9 459.4,190.1 448.8,179.1 457.2,191.9 458.8,197.6 476.0,208.5 459.0,180.7 459.6,201.2 459.2,211.9 451.7,194.4 460.9,192.6 464.5,196.4 455.6,204.0 470.7,197.2 456.1,194.6 457.5,192.2 465.3,188.4 456.2,188.4 456.1,189.7 460.6,206.2 454.6,181.7 460.5,187.8 460.0,187.8 444.3,190.9 445.7,192.3 454.9,203.7 455.9,196.4 470.7,200.2 458.8,196.5 467.7,200.7 452.6,205.8 451.5,193.1 455.8,197.3 450.4,199.8 461.5,210.6 463.7,187.1 449.1,199.4 458.5,192.9 456.6,192.0 470.1,197.4 455.0,196.2 459.6,190.9 456.4,202.0 457.5,195.4 461.3,200.8 460.1,204.1 478.8,213.4 453.0,203.5 452.8,182.1 456.2,195.4 458.8,203.5 455.6,208.5 459.4,208.4 449.2,192.7 456.0,201.2 463.6,189.8 470.0,208.6 460.0,198.9 464.6,211.4 461.3,182.0 450.8,200.6 459.6,201.3 460.4,213.8 455.7,180.6 456.7,203.4 457.8,192.6 459.4,199.1 462.1,202.5 454.1,192.6 464.7,189.8 459.9,207.3 474.3,209.0 455.1,195.7 454.1,189.0 458.4,202.2 455.1,199.2 457.2,210.7 448.3,200.1 455.8,196.5 456.4,195.9 468.2,199.9 448.4,194.3 458.6,180.9 452.6,200.6 461.4,194.5 455.3,200.6 456.6,189.7 463.7,194.5 456.7,201.4 467.2,206.9 462.3,190.6 448.6,198.7 471.6,198.0 457.0,199.6 444.9,185.1 454.9,197.9 444.3,190.2 448.9,193.2 455.5,198.2 457.6,186.8 461.1,185.2 445.8,165.7 448.1,168.4 443.6,168.4 480.7,172.0 475.7,176.5 477.3,183.7 478.4,189.4 484.0,190.0 490.1,198.8 506.5,201.0 502.0,209.6 486.3,210.7 485.6,211.8 482.5,205.8 480.7,221.3 466.7,224.9 459.3,222.0 462.7,222.0 445.8,213.0 443.6,192.7 442.9,199.0" fill="none" stroke="none" marker-start="url(#pt)" marker-mid="url(#pt)" marker-end="url(#pt)"/>
<rect x="439.70" y="162.45" width="69.30" height="64.35" fill="none" stroke="#000" stroke-width="0.75"/>
<path d="M519.64 226.80V225.69H522.47V226.80ZM522.47 226.80V226.38H525.31V226.80ZM525.31 226.80V225.69H528.14V226.80ZM528.14 226.80V225.41H530.98V226.80ZM530.98 226.80V221.95H533.82V226.80ZM533.82 226.80V218.48H536.65V226.80ZM536.65 226.80V215.43H539.49V226.80ZM539.49 226.80V209.05H542.33V226.80ZM542.33 226.80V205.72H545.16V226.80ZM545.16 226.80V203.22H548.00V226.80ZM548.00 226.80V201.14H550.83V226.80ZM550.83 226.80V195.18H553.67V226.80ZM553.67 226.80V201.14H556.51V226.80ZM556.51 226.80V206.69H559.34V226.80ZM559.34 226.80V210.16H562.18V226.80ZM562.18 226.80V217.37H565.02V226.80ZM565.02 226.80V215.70H567.85V226.80ZM567.85 226.80V220.97H570.69V226.80ZM570.69 226.80V222.92H573.53V226.80ZM573.53 226.80V224.86H576.36V226.80ZM576.36 226.80V225.41H579.20V226.80ZM579.20 226.80V226.52H582.03V226.80ZM582.03 226.80V226.52H584.87V226.80Z" fill="#999999"/>
<rect x="518.90" y="162.45" width="69.60" height="64.35" fill="none" stroke="#000" stroke-width="0.75"/>
<text transform="translate(632.08 199.31) scale(1 1.0)" font-size="7.8" stroke="#000" stroke-width="0.05">0.31</text>
<text transform="translate(618.30 219.76) scale(1 0.86)" font-size="26.10" fill="#999999">***</text>
<rect x="597.50" y="162.45" width="69.15" height="64.35" fill="none" stroke="#000" stroke-width="0.75"/>
<polyline points="396.7,287.6 395.6,269.4 399.2,277.5 389.5,279.7 386.2,276.6 389.6,276.1 381.9,285.7 391.6,287.2 388.6,286.8 396.8,285.3 401.1,271.3 408.6,271.5 401.2,269.6 380.3,278.2 387.5,275.5 391.3,283.0 402.6,275.0 396.1,268.4 387.3,278.6 396.0,276.2 402.2,268.2 406.4,267.9 381.0,286.2 385.8,275.4 385.7,280.4 392.2,271.7 387.8,286.6 388.9,267.1 395.8,274.9 407.9,273.5 404.0,277.3 397.3,274.2 393.1,268.1 402.4,275.1 394.5,270.2 388.7,273.9 388.7,273.4 395.1,274.7 404.0,279.7 383.2,284.0 382.0,274.7 378.2,274.8 404.6,266.2 400.2,271.6 385.8,281.5 399.6,281.7 387.9,283.9 379.7,278.0 385.4,283.5 384.1,266.1 390.7,279.1 384.7,268.3 403.1,269.6 401.0,275.2 402.2,266.3 399.3,277.1 388.8,279.4 387.0,282.3 394.2,277.3 401.2,263.5 402.2,268.2 391.9,283.8 377.8,282.0 385.1,268.6 395.4,266.4 399.4,267.7 382.7,272.6 405.4,265.5 391.5,274.9 404.8,278.9 399.2,268.4 404.5,263.4 389.0,264.6 411.4,265.9 400.4,274.7 388.0,276.3 385.4,284.8 388.1,283.5 386.1,277.5 390.8,260.7 388.4,278.5 385.8,275.3 392.3,267.5 394.8,280.3 391.1,272.8 393.1,276.8 386.5,272.4 396.9,280.0 378.3,278.6 399.1,271.7 392.5,277.4 397.3,264.9 389.6,283.2 382.8,281.1 386.0,290.5 381.1,275.3 395.1,285.0 397.6,268.1 392.0,276.3 399.1,276.3 379.9,282.8 400.2,277.1 382.7,286.4 384.5,277.9 399.3,273.2 398.1,271.4 406.0,284.4 382.4,276.9 390.0,277.9 403.1,272.0 394.1,280.8 396.9,264.8 408.3,274.8 398.5,277.4 380.1,289.0 386.8,285.6 396.9,278.6 389.1,279.4 381.8,279.1 397.2,273.6 394.0,276.9 393.9,270.0 400.3,262.9 390.6,282.6 388.9,276.5 387.0,276.3 400.6,264.0 381.1,282.9 400.3,264.6 401.1,280.5 380.2,278.9 387.3,282.8 378.3,281.2 400.1,275.2 386.0,271.1 400.1,268.0 403.0,269.4 393.0,277.4 401.9,284.5 393.7,276.4 403.0,269.0 396.9,268.0 401.3,273.1 406.5,277.4 397.3,279.0 400.5,279.8 384.2,280.6 380.0,283.1 404.5,274.4 382.8,271.7 384.6,276.6 401.6,260.7 397.7,275.3 390.0,280.8 385.2,275.3 385.6,277.3 416.6,272.7 399.1,274.3 398.3,265.7 384.5,281.9 384.5,272.5 408.2,278.0 387.8,273.1 399.7,283.3 389.8,280.1 381.6,277.7 383.3,275.9 383.9,280.5 390.0,279.5 388.8,280.1 403.5,262.8 381.0,284.7 390.6,273.8 383.0,275.1 386.5,276.7 386.0,271.8 395.3,268.3 391.0,271.8 382.5,277.2 393.5,268.1 390.3,276.5 387.8,275.1 399.2,266.3 392.7,274.3 398.2,257.8 396.3,275.4 395.1,285.1 385.6,275.8 391.9,273.8 381.8,282.1 406.5,259.9 396.2,263.7 383.2,287.1 382.6,291.0 393.2,277.0 388.4,272.9 388.1,274.8 397.1,278.5 390.6,276.4 396.5,282.6 395.3,283.3 385.8,283.5 381.5,271.0 387.6,281.7 384.8,274.2 388.4,279.2 382.7,281.2 392.0,273.4 385.5,280.8 389.7,268.6 392.0,279.4 397.8,285.0 388.5,278.1 398.3,272.9 399.7,281.5 386.8,275.2 400.7,267.4 381.9,291.7 406.5,275.0 376.9,289.8 381.3,282.1 386.4,273.3 386.6,273.0 395.5,279.4 404.0,268.3 393.9,285.5 393.4,275.7 403.1,272.7 395.7,282.9 401.2,283.9 379.4,282.0 382.8,291.4 382.2,280.0 405.2,267.0 391.4,277.2 384.1,288.4 390.8,291.1 378.9,282.8 404.2,266.5 388.2,280.5 390.0,273.6 399.8,274.2 392.1,276.6 389.0,271.3 391.7,274.7 403.4,273.4 392.8,272.7 401.0,272.2 376.7,279.1 400.1,271.4 392.2,269.6 398.1,258.2 398.5,282.5 371.9,286.4 391.5,287.1 382.2,278.8 383.7,282.7 384.6,280.5 405.9,275.5 388.3,275.0 390.1,280.1 392.3,275.6 377.9,285.9 386.2,271.1 388.2,276.8 402.0,259.8 399.9,270.7 394.9,272.8 381.4,275.3 394.8,281.4 382.9,286.4 397.2,275.8 395.7,263.0 405.2,271.5 400.1,277.1 393.4,276.5 382.7,279.6 394.2,266.5 398.0,280.7 383.1,277.4 375.7,285.7 389.7,267.9 382.9,279.6 404.3,267.7 391.4,278.7 378.2,288.0 388.5,254.3 390.9,275.8 388.1,282.3 377.9,292.1 394.9,285.4 389.2,270.7 395.3,270.3 393.6,284.4 388.5,275.3 387.5,277.4 396.6,276.7 392.5,268.7 391.5,283.3 388.4,276.8 393.8,279.5 396.6,266.8 391.1,275.7 383.4,273.2 393.7,271.8 393.2,278.2 390.5,268.2 389.1,277.8 400.7,280.9 392.0,269.0 390.7,284.8 388.8,284.3 392.6,267.3 392.0,273.8 397.6,271.2 393.6,266.8 408.9,271.0 394.0,269.3 383.4,276.2 390.8,282.1 389.2,289.8 382.7,288.4 397.3,270.2 381.9,279.4 386.6,282.5 387.6,285.9 396.1,279.0 384.5,277.0 391.1,272.2 388.7,277.6 398.9,274.9 385.1,291.9 384.1,271.2 383.6,288.0 398.8,265.7 389.6,275.5 400.2,276.0 400.2,268.8 389.2,264.5 396.5,274.8 391.3,280.4 390.2,279.4 400.7,280.4 388.7,271.4 401.9,259.8 406.9,280.7 381.2,276.2 389.2,265.9 395.2,267.8 393.1,275.0 380.9,276.9 386.4,281.3 383.1,286.9 404.5,272.9 400.8,273.5 391.6,277.4 384.4,276.1 403.6,271.1 395.5,274.3 385.3,281.3 395.8,274.2 383.2,279.7 392.0,277.7 399.1,279.2 394.9,272.8 378.9,278.6 391.7,277.5 399.6,268.0 390.5,270.9 395.9,267.3 405.9,263.4 393.0,279.2 388.3,271.2 391.4,268.4 387.0,280.4 382.9,271.4 396.0,284.6 396.1,281.4 381.1,279.6 399.7,277.5 387.6,276.4 386.4,274.8 394.3,272.1 405.0,271.6 400.3,274.0 387.5,269.7 389.8,271.8 396.2,282.4 381.5,283.9 392.6,274.9 379.4,277.9 391.5,267.3 389.8,279.5 404.0,269.7 391.6,278.8 388.8,282.6 394.8,276.3 393.5,276.2 403.7,271.9 397.9,273.9 402.4,263.8 396.1,270.2 378.6,286.1 393.9,275.3 378.5,281.4 396.8,283.8 380.0,281.9 403.8,275.3 383.7,274.8 385.0,283.6 394.9,270.7 379.2,282.0 388.5,280.8 395.2,270.0 399.0,267.9 384.6,270.5 382.8,267.9 376.1,281.8 381.3,279.5 374.8,284.4 397.7,281.4 380.4,282.4 400.0,273.7 392.9,275.1 395.3,276.6 392.2,276.3 400.8,280.4 387.9,279.9 393.1,267.3 407.4,265.5 381.4,268.8 389.1,284.9 380.9,285.5 396.4,257.8 380.4,282.0 394.3,277.6 381.5,286.0 409.2,260.8 393.8,281.7 388.3,265.7 385.3,277.4 389.4,283.8 406.7,277.1 393.3,266.7 389.9,276.7 388.6,276.6 379.3,279.6 398.2,267.8 392.5,273.2 380.0,289.5 395.8,278.2 407.0,271.4 391.7,282.7 412.7,254.5 412.9,271.2 388.1,271.9 384.8,276.5 403.1,268.1 397.8,255.8 397.7,275.8 391.5,271.7 386.2,270.6 387.6,272.3 381.3,289.6 393.6,268.6 392.5,282.1 400.9,277.1 391.9,280.2 381.6,286.3 391.5,273.6 392.7,267.2 392.6,272.1 408.5,272.3 394.3,279.2 387.9,285.0 385.3,270.2 404.6,279.0 392.6,279.9 382.9,275.0 386.9,278.1 380.7,281.6 378.5,284.1 391.2,269.4 384.0,279.5 384.3,287.0 396.5,269.9 385.6,271.6 391.1,278.6 399.5,279.5 399.8,266.1 394.0,276.1 402.2,285.8 391.3,279.2 409.1,264.4 409.1,281.8 378.7,285.4 394.8,276.8 382.7,276.0 402.5,277.8 391.1,280.0 395.1,262.2 382.4,285.0 397.8,263.0 396.6,272.6 406.4,271.7 384.7,268.1 405.8,255.2 382.4,278.9 401.5,269.5 389.6,282.4 392.0,276.0 394.2,281.9 389.4,267.4 400.9,269.1 388.6,279.1 387.3,273.7 412.6,272.2 382.6,272.9 376.5,291.1 385.5,281.9 401.3,266.4 382.2,276.6 397.1,273.2 393.4,275.8 399.7,286.7 410.2,270.7 409.1,269.2 413.5,269.8 393.4,273.5 380.1,284.4 394.4,279.4 395.2,281.9 393.4,279.2 395.6,270.2 400.5,275.0 392.0,289.7 402.0,262.7 398.1,268.1 398.9,275.7 390.1,278.9 389.4,271.0 392.7,281.8 387.9,271.5 377.5,287.2 390.7,278.8 403.2,266.3 388.7,274.6 391.9,279.2 408.2,267.3 410.1,257.1 398.9,272.4 390.7,274.9 400.0,281.2 390.6,279.2 406.0,267.0 382.9,275.9 407.7,263.0 401.0,271.9 387.9,275.6 396.9,287.5 395.1,284.8 389.8,286.0 388.5,281.5 391.5,265.8 390.2,283.9 385.4,281.0 380.5,288.1 394.5,269.2 381.0,289.6 372.6,285.0 387.6,272.2 392.7,271.4 403.5,271.6 393.0,272.5 384.1,283.7 402.4,263.5 383.4,285.8 388.6,282.4 387.7,272.8 389.6,270.8 372.1,288.4 384.3,268.0 387.0,270.5 400.8,269.0 396.0,271.3 389.7,267.6 392.8,269.7 394.5,271.6 380.7,275.7 396.2,271.2 387.0,279.2 398.0,273.8 404.9,274.0 395.2,280.9 395.2,275.6 390.0,286.8 380.7,277.7 388.3,272.5 388.4,288.8 402.9,265.2 395.0,282.1 400.5,268.5 385.6,266.9 398.9,263.3 397.4,275.3 392.5,263.3 398.2,257.4 390.0,276.0 396.5,276.7 407.6,268.8 385.5,281.4 388.5,274.6 384.5,271.7 381.0,270.8 384.0,273.5 391.3,263.6 392.7,275.5 385.4,286.1 395.2,284.3 406.8,277.6 385.7,264.5 394.2,265.8 400.6,284.9 389.5,264.5 388.8,287.7 393.1,285.3 401.5,273.4 406.7,266.5 406.0,265.1 386.3,277.5 395.2,285.1 380.3,286.0 389.0,271.8 389.5,280.2 402.6,272.8 400.0,268.7 403.7,264.9 411.5,266.9 385.4,279.2 388.3,279.0 404.2,275.9 391.1,276.7 384.8,271.1 389.8,289.2 390.8,277.3 382.6,279.2 395.0,282.4 402.9,276.5 381.9,285.3 395.3,280.9 386.5,274.7 385.8,279.4 384.8,280.6 397.1,262.9 395.1,270.2 392.4,279.5 391.9,275.3 392.1,284.4 399.8,272.8 395.8,282.8 386.2,285.2 408.5,271.3 385.9,284.9 393.5,279.5 391.5,268.2 384.0,274.4 380.9,273.4 394.9,278.9 381.3,275.4 394.1,269.5 384.3,283.8 390.7,280.9 391.3,279.0 388.2,277.7 394.8,266.3 396.1,278.2 396.3,273.4 415.9,262.8 393.9,274.0 401.9,273.8 392.6,269.0 386.3,265.2 397.8,285.9 392.4,276.0 378.7,273.5 392.1,287.2 383.8,288.6 393.4,275.4 390.9,281.0 389.0,275.7 397.7,266.9 401.8,268.0 398.4,275.8 385.4,271.5 396.0,279.5 381.8,273.6 395.7,272.4 387.9,276.3 383.6,283.5 398.0,269.8 409.0,267.6 388.8,278.6 401.8,270.0 385.4,279.2 388.8,258.8 384.3,278.0 377.6,290.8 386.6,270.3 390.2,275.5 404.4,271.3 387.9,273.1 385.7,279.4 379.7,269.5 392.5,275.9 385.0,276.0 387.2,278.7 392.8,275.1 400.6,273.3 375.9,275.8 377.5,280.9 400.7,273.6 415.0,271.9 385.3,277.1 403.5,257.0 408.0,263.3 395.8,268.1 392.9,271.7 394.0,278.8 388.1,278.8 387.1,282.4 399.2,278.4 398.6,269.1 391.0,278.4 412.2,264.9 399.3,281.6 402.3,276.0 390.4,264.9 396.2,267.9 375.0,289.4 399.3,264.2 393.6,269.8 382.6,282.5 396.5,281.4 396.0,275.7 384.5,281.9 391.8,276.0 380.4,278.0 394.9,282.5 394.2,264.3 394.8,280.7 398.8,269.3 396.7,275.2 388.0,272.3 401.3,266.5 395.7,277.5 398.1,276.2 405.2,267.9 407.5,274.8 390.8,269.5 396.8,275.6 391.1,280.8 388.2,285.8 383.9,271.0 386.7,281.1 397.9,268.0 393.4,273.4 398.2,261.6 381.1,272.4 394.3,281.0 394.1,268.5 396.2,277.4 398.3,266.9 389.2,267.8 394.3,269.6 397.1,275.8 387.9,287.7 394.4,280.3 392.2,282.2 389.7,272.2 378.0,288.9 387.3,281.4 405.4,270.4 402.7,273.9 395.6,279.8 380.3,280.1 375.4,276.6 399.0,265.7 391.3,273.9 399.9,274.0 380.7,273.4 385.8,277.8 374.9,268.9 404.4,263.1 393.3,271.0 387.6,268.6 372.8,285.4 410.6,273.3 393.3,280.2 396.9,263.5 384.6,271.8 386.4,284.3 392.9,273.0 390.5,282.4 380.4,293.4 376.9,281.3 392.5,277.2 401.4,274.0 383.0,285.2 392.1,266.9 382.2,271.7 396.2,274.7 388.6,283.4 394.8,285.8 384.0,289.1 393.7,279.1 406.4,279.2 392.2,280.2 390.3,289.6 383.6,285.4 396.6,277.0 387.7,280.2 388.8,271.0 385.6,278.4 385.5,284.5 395.0,272.1 383.7,285.5 398.5,261.7 402.3,271.3 398.6,272.0 405.4,273.8 396.7,275.6 397.0,274.1 395.0,277.9 395.2,279.3 393.4,237.9 408.0,248.3 399.7,250.5 389.6,252.1 378.8,257.3 417.3,252.1 425.6,252.1 427.8,257.3 420.0,257.7 425.1,266.3 417.7,262.2 413.2,254.8 405.3,254.8 418.8,273.5 418.8,279.1 413.2,280.7 409.8,286.3 408.7,289.2 368.7,274.6 367.1,280.7 364.2,288.8 363.7,292.6 367.1,294.2 371.6,294.8 382.9,298.0 390.7,298.0 398.6,291.9" fill="none" stroke="none" marker-start="url(#pt)" marker-mid="url(#pt)" marker-end="url(#pt)"/>
<rect x="361.50" y="236.40" width="69.00" height="63.40" fill="none" stroke="#000" stroke-width="0.75"/>
<polyline points="457.1,287.6 446.2,269.4 459.2,277.5 466.7,279.7 457.8,276.6 457.1,276.1 462.6,285.7 476.9,287.2 469.4,286.8 456.0,285.3 450.0,271.3 457.4,271.5 447.8,269.6 457.2,278.2 464.4,275.5 461.9,283.0 458.8,275.0 451.7,268.4 458.1,278.6 447.7,276.2 448.8,268.2 448.8,267.9 461.6,286.2 453.2,275.4 452.6,280.4 456.6,271.7 459.8,286.6 470.0,267.1 458.6,274.9 457.8,273.5 450.7,277.3 463.3,274.2 457.0,268.1 456.0,275.1 457.2,270.2 457.3,273.9 464.1,273.4 455.8,274.7 451.0,279.7 460.5,284.0 459.9,274.7 463.4,274.8 446.3,266.2 456.1,271.6 461.3,281.5 462.1,281.7 467.7,283.9 461.0,278.0 470.8,283.5 453.7,266.1 453.2,279.1 451.4,268.3 458.7,269.6 454.1,275.2 449.3,266.3 458.6,277.1 457.5,279.4 455.3,282.3 464.4,277.3 455.7,263.5 453.3,268.2 456.8,283.8 459.6,282.0 459.9,268.6 452.1,266.4 454.5,267.7 454.8,272.6 453.5,265.5 454.4,274.9 457.4,278.9 456.1,268.4 457.3,263.4 456.3,264.6 450.3,265.9 460.7,274.7 454.5,276.3 460.9,284.8 461.7,283.5 463.3,277.5 462.1,260.7 456.0,278.5 462.7,275.3 459.2,267.5 456.8,280.3 450.7,272.8 461.2,276.8 461.5,272.4 451.9,280.0 465.3,278.6 448.9,271.7 459.7,277.4 465.1,264.9 451.5,283.2 465.4,281.1 452.8,290.5 468.9,275.3 450.6,285.0 462.2,268.1 456.9,276.3 446.6,276.3 469.7,282.8 450.6,277.1 464.9,286.4 465.0,277.9 451.8,273.2 450.7,271.4 453.7,284.4 468.0,276.9 462.6,277.9 459.2,272.0 456.4,280.8 450.7,264.8 460.9,274.8 463.0,277.4 455.1,289.0 458.7,285.6 458.9,278.6 449.4,279.4 462.3,279.1 461.5,273.6 449.6,276.9 458.5,270.0 455.4,262.9 455.1,282.6 462.1,276.5 458.6,276.3 454.3,264.0 466.9,282.9 453.3,264.6 456.4,280.5 462.2,278.9 456.9,282.8 460.7,281.2 463.0,275.2 462.7,271.1 450.6,268.0 447.5,269.4 454.4,277.4 451.6,284.5 453.8,276.4 451.0,269.0 452.1,268.0 458.0,273.1 456.4,277.4 459.4,279.0 453.0,279.8 452.6,280.6 464.3,283.1 458.0,274.4 458.7,271.7 458.3,276.6 460.8,260.7 451.6,275.3 462.6,280.8 462.0,275.3 459.5,277.3 444.8,272.7 449.7,274.3 447.8,265.7 468.3,281.9 458.1,272.5 449.5,278.0 461.9,273.1 460.8,283.3 453.6,280.1 477.1,277.7 469.6,275.9 464.4,280.5 451.8,279.5 462.8,280.1 458.6,262.8 471.5,284.7 463.4,273.8 454.5,275.1 464.6,276.7 467.0,271.8 450.2,268.3 452.6,271.8 458.5,277.2 466.0,268.1 460.0,276.5 459.1,275.1 454.9,266.3 454.6,274.3 447.2,257.8 458.6,275.4 456.3,285.1 458.4,275.8 454.3,273.8 461.3,282.1 451.4,259.9 456.1,263.7 451.3,287.1 458.3,291.0 459.6,277.0 456.5,272.9 460.8,274.8 455.4,278.5 457.3,276.4 457.0,282.6 458.2,283.3 456.1,283.5 458.4,271.0 465.0,281.7 464.5,274.2 468.5,279.2 469.2,281.2 455.3,273.4 459.9,280.8 463.2,268.6 452.0,279.4 453.2,285.0 462.1,278.1 459.2,272.9 455.7,281.5 463.4,275.2 457.2,267.4 456.0,291.7 463.8,275.0 468.0,289.8 461.8,282.1 451.1,273.3 452.9,273.0 457.5,279.4 453.7,268.3 453.1,285.5 458.9,275.7 447.9,272.7 461.6,282.9 457.6,283.9 460.1,282.0 456.1,291.4 461.8,280.0 453.8,267.0 450.9,277.2 463.8,288.4 452.6,291.1 463.3,282.8 451.2,266.5 460.7,280.5 455.0,273.6 457.5,274.2 455.9,276.6 452.2,271.3 455.7,274.7 451.9,273.4 455.6,272.7 449.5,272.2 481.7,279.1 450.1,271.4 456.2,269.6 455.1,258.2 455.5,282.5 465.9,286.4 459.0,287.1 466.6,278.8 469.8,282.7 461.7,280.5 458.3,275.5 461.0,275.0 470.7,280.1 454.6,275.6 464.6,285.9 463.7,271.1 458.4,276.8 457.5,259.8 463.9,270.7 457.7,272.8 464.7,275.3 455.5,281.4 455.5,286.4 460.9,275.8 450.5,263.0 445.7,271.5 456.2,277.1 456.7,276.5 464.0,279.6 463.0,266.5 459.8,280.7 464.3,277.4 464.5,285.7 449.7,267.9 464.3,279.6 453.2,267.7 464.1,278.7 456.7,288.0 466.0,254.3 458.5,275.8 461.7,282.3 469.2,292.1 446.7,285.4 450.2,270.7 457.9,270.3 451.3,284.4 461.0,275.3 475.1,277.4 456.4,276.7 458.2,268.7 464.9,283.3 456.0,276.8 462.9,279.5 455.7,266.8 462.0,275.7 461.0,273.2 458.8,271.8 448.4,278.2 452.2,268.2 451.7,277.8 454.2,280.9 446.5,269.0 458.2,284.8 461.4,284.3 462.1,267.3 449.6,273.8 458.1,271.2 454.6,266.8 453.1,271.0 457.4,269.3 462.3,276.2 453.6,282.1 455.3,289.8 468.9,288.4 466.4,270.2 459.5,279.4 457.3,282.5 456.9,285.9 464.9,279.0 458.5,277.0 461.9,272.2 462.5,277.6 458.4,274.9 459.0,291.9 458.9,271.2 455.5,288.0 454.8,265.7 460.9,275.5 465.8,276.0 457.2,268.8 458.1,264.5 453.9,274.8 462.2,280.4 461.7,279.4 454.7,280.4 455.4,271.4 454.9,259.8 443.7,280.7 459.9,276.2 458.3,265.9 461.5,267.8 457.6,275.0 457.2,276.9 469.0,281.3 465.7,286.9 459.6,272.9 445.2,273.5 460.5,277.4 457.4,276.1 448.8,271.1 457.9,274.3 458.7,281.3 453.8,274.2 466.8,279.7 459.6,277.7 452.2,279.2 459.6,272.8 463.6,278.6 463.0,277.5 463.2,268.0 460.6,270.9 458.7,267.3 459.8,263.4 454.7,279.2 463.2,271.2 457.9,268.4 458.7,280.4 460.5,271.4 453.4,284.6 450.3,281.4 460.2,279.6 453.2,277.5 458.3,276.4 459.5,274.8 458.3,272.1 449.4,271.6 452.4,274.0 454.8,269.7 462.3,271.8 460.9,282.4 468.0,283.9 446.9,274.9 466.7,277.9 459.6,267.3 465.2,279.5 450.4,269.7 459.4,278.8 458.7,282.6 448.6,276.3 459.6,276.2 450.9,271.9 464.3,273.9 462.0,263.8 456.0,270.2 464.9,286.1 455.4,275.3 466.8,281.4 453.9,283.8 460.0,281.9 457.2,275.3 454.4,274.8 466.1,283.6 452.0,270.7 474.8,282.0 463.7,280.8 448.7,270.0 453.6,267.9 462.3,270.5 464.2,267.9 480.7,281.8 456.5,279.5 462.7,284.4 457.2,281.4 463.7,282.4 449.1,273.7 460.8,275.1 458.3,276.6 466.0,276.3 458.0,280.4 461.1,279.9 455.6,267.3 451.2,265.5 456.3,268.8 459.5,284.9 480.3,285.5 460.6,257.8 475.2,282.0 453.8,277.6 465.7,286.0 448.8,260.8 464.8,281.7 457.7,265.7 459.3,277.4 465.8,283.8 459.2,277.1 460.9,266.7 459.3,276.7 457.7,276.6 462.0,279.6 459.3,267.8 451.7,273.2 468.7,289.5 456.3,278.2 447.6,271.4 455.2,282.7 444.2,254.5 449.0,271.2 462.9,271.9 465.1,276.5 455.0,268.1 443.4,255.8 457.1,275.8 443.8,271.7 467.7,270.6 464.1,272.3 463.0,289.6 455.3,268.6 464.2,282.1 449.5,277.1 460.2,280.2 467.2,286.3 456.4,273.6 454.1,267.2 454.9,272.1 446.0,272.3 454.0,279.2 460.9,285.0 458.4,270.2 455.8,279.0 459.2,279.9 463.8,275.0 457.1,278.1 459.4,281.6 468.2,284.1 457.7,269.4 478.8,279.5 457.3,287.0 457.0,269.9 459.7,271.6 454.0,278.6 461.7,279.5 450.4,266.1 466.5,276.1 454.5,285.8 453.6,279.2 454.2,264.4 446.0,281.8 465.5,285.4 454.3,276.8 450.2,276.0 457.0,277.8 459.8,280.0 445.6,262.2 465.1,285.0 458.8,263.0 447.2,272.6 447.7,271.7 459.1,268.1 454.7,255.2 459.3,278.9 454.8,269.5 460.1,282.4 456.1,276.0 461.7,281.9 468.7,267.4 455.0,269.1 466.9,279.1 462.7,273.7 453.3,272.2 457.4,272.9 477.7,291.1 460.4,281.9 448.0,266.4 458.4,276.6 459.2,273.2 457.2,275.8 455.1,286.7 447.0,270.7 445.1,269.2 456.9,269.8 453.5,273.5 463.9,284.4 460.6,279.4 448.1,281.9 456.5,279.2 448.4,270.2 452.0,275.0 452.5,289.7 448.1,262.7 449.8,268.1 457.4,275.7 459.7,278.9 459.4,271.0 463.5,281.8 459.2,271.5 466.3,287.2 458.8,278.8 456.9,266.3 462.2,274.6 454.8,279.2 456.2,267.3 450.1,257.1 450.3,272.4 457.0,274.9 450.4,281.2 463.7,279.2 455.8,267.0 461.0,275.9 448.0,263.0 445.6,271.9 462.0,275.6 452.8,287.5 455.9,284.8 469.7,286.0 448.3,281.5 463.0,265.8 459.2,283.9 457.7,281.0 464.0,288.1 457.3,269.2 458.2,289.6 463.2,285.0 452.5,272.2 459.6,271.4 457.3,271.6 446.6,272.5 453.5,283.7 451.7,263.5 462.8,285.8 464.1,282.4 456.9,272.8 455.3,270.8 465.2,288.4 463.6,268.0 462.1,270.5 457.7,269.0 456.4,271.3 458.8,267.6 457.2,269.7 458.1,271.6 459.0,275.7 460.9,271.2 457.7,279.2 455.8,273.8 450.9,274.0 458.6,280.9 457.9,275.6 472.8,286.8 467.0,277.7 460.6,272.5 459.0,288.8 447.1,265.2 452.0,282.1 460.6,268.5 463.3,266.9 456.1,263.3 458.5,275.3 454.4,263.3 460.5,257.4 450.7,276.0 462.5,276.7 445.7,268.8 461.5,281.4 465.1,274.6 468.8,271.7 457.6,270.8 461.3,273.5 467.1,263.6 451.7,275.5 468.5,286.1 460.8,284.3 453.7,277.6 458.0,264.5 458.0,265.8 452.6,284.9 455.6,264.5 458.4,287.7 462.7,285.3 463.4,273.4 450.1,266.5 456.1,265.1 454.7,277.5 458.9,285.1 462.5,286.0 463.3,271.8 457.2,280.2 449.2,272.8 450.6,268.7 451.2,264.9 451.2,266.9 460.0,279.2 459.9,279.0 461.5,275.9 445.6,276.7 448.8,271.1 462.8,289.2 455.7,277.3 453.2,279.2 450.4,282.4 456.1,276.5 462.3,285.3 455.6,280.9 463.1,274.7 457.2,279.4 458.4,280.6 460.8,262.9 461.1,270.2 461.3,279.5 462.1,275.3 463.8,284.4 457.2,272.8 459.3,282.8 466.7,285.2 454.9,271.3 461.0,284.9 457.9,279.5 454.4,268.2 462.6,274.4 458.2,273.4 452.5,278.9 463.5,275.4 453.4,269.5 462.6,283.8 458.3,280.9 459.4,279.0 460.5,277.7 463.8,266.3 459.9,278.2 453.2,273.4 446.4,262.8 459.4,274.0 454.0,273.8 462.2,269.0 465.2,265.2 461.7,285.9 458.2,276.0 462.7,273.5 458.0,287.2 467.9,288.6 454.8,275.4 451.1,281.0 463.0,275.7 449.3,266.9 444.0,268.0 447.8,275.8 457.3,271.5 456.9,279.5 455.9,273.6 457.5,272.4 454.5,276.3 451.5,283.5 462.3,269.8 445.4,267.6 460.4,278.6 446.0,270.0 461.4,279.2 461.9,258.8 468.4,278.0 459.2,290.8 468.4,270.3 458.3,275.5 449.7,271.3 454.1,273.1 466.3,279.4 453.4,269.5 462.9,275.9 461.2,276.0 467.1,278.7 460.0,275.1 451.0,273.3 477.3,275.8 454.1,280.9 458.7,273.6 453.4,271.9 460.1,277.1 446.2,257.0 461.3,263.3 448.0,268.1 452.8,271.7 454.1,278.8 459.7,278.8 459.3,282.4 458.5,278.4 467.6,269.1 454.2,278.4 447.2,264.9 459.4,281.6 448.8,276.0 457.2,264.9 458.8,267.9 476.0,289.4 459.0,264.2 459.6,269.8 459.2,282.5 451.7,281.4 460.9,275.7 464.5,281.9 455.6,276.0 470.7,278.0 456.1,282.5 457.5,264.3 465.3,280.7 456.2,269.3 456.1,275.2 460.6,272.3 454.6,266.5 460.5,277.5 460.0,276.2 444.3,267.9 445.7,274.8 454.9,269.5 455.9,275.6 470.7,280.8 458.8,285.8 467.7,271.0 452.6,281.1 451.5,268.0 455.8,273.4 450.4,261.6 461.5,272.4 463.7,281.0 449.1,268.5 458.5,277.4 456.6,266.9 470.1,267.8 455.0,269.6 459.6,275.8 456.4,287.7 457.5,280.3 461.3,282.2 460.1,272.2 478.8,288.9 453.0,281.4 452.8,270.4 456.2,273.9 458.8,279.8 455.6,280.1 459.4,276.6 449.2,265.7 456.0,273.9 463.6,274.0 470.0,273.4 460.0,277.8 464.6,268.9 461.3,263.1 450.8,271.0 459.6,268.6 460.4,285.4 455.7,273.3 456.7,280.2 457.8,263.5 459.4,271.8 462.1,284.3 454.1,273.0 464.7,282.4 459.9,293.4 474.3,281.3 455.1,277.2 454.1,274.0 458.4,285.2 455.1,266.9 457.2,271.7 448.3,274.7 455.8,283.4 456.4,285.8 468.2,289.1 448.4,279.1 458.6,279.2 452.6,280.2 461.4,289.6 455.3,285.4 456.6,277.0 463.7,280.2 456.7,271.0 467.2,278.4 462.3,284.5 448.6,272.1 471.6,285.5 457.0,261.7 444.9,271.3 454.9,272.0 444.3,273.8 448.9,275.6 455.5,274.1 457.6,277.9 461.1,279.3 454.1,237.9 442.4,249.9 443.6,251.4 450.3,248.3 455.9,254.4 460.9,255.0 467.2,261.1 472.8,264.5 490.1,274.6 506.5,285.2 485.6,279.1 486.3,285.2 479.5,275.7 480.7,289.2 473.9,291.9 470.5,298.0 468.3,298.0 443.1,293.3 446.5,289.2 455.9,296.0" fill="none" stroke="none" marker-start="url(#pt)" marker-mid="url(#pt)" marker-end="url(#pt)"/>
<rect x="439.70" y="236.40" width="69.30" height="63.40" fill="none" stroke="#000" stroke-width="0.75"/>
<polyline points="554.7,287.6 555.9,269.4 559.4,277.5 548.0,279.7 543.8,276.6 545.4,276.1 548.7,285.7 549.4,287.2 560.9,286.8 552.1,285.3 558.6,271.3 559.6,271.5 554.4,269.6 531.2,278.2 549.1,275.5 551.1,283.0 572.9,275.0 540.1,268.4 544.2,278.6 551.2,276.2 567.1,268.2 566.6,267.9 538.2,286.2 541.5,275.4 549.3,280.4 548.4,271.7 540.1,286.6 551.8,267.1 551.9,274.9 562.0,273.5 565.4,277.3 561.8,274.2 551.9,268.1 553.1,275.1 546.3,270.2 548.7,273.9 539.8,273.4 555.2,274.7 559.5,279.7 535.4,284.0 541.8,274.7 541.8,274.8 556.2,266.2 559.3,271.6 550.4,281.5 559.7,281.7 540.1,283.9 536.7,278.0 551.0,283.5 542.9,266.1 548.6,279.1 542.1,268.3 562.2,269.6 559.5,275.2 561.6,266.3 555.3,277.1 542.1,279.4 547.6,282.3 564.3,277.3 571.8,263.5 557.4,268.2 554.2,283.8 531.6,282.0 535.0,268.6 554.4,266.4 560.2,267.7 538.2,272.6 570.3,265.5 546.5,274.9 555.2,278.9 552.3,268.4 562.7,263.4 543.0,264.6 570.0,265.9 563.4,274.7 533.7,276.3 545.0,284.8 549.5,283.5 548.2,277.5 551.7,260.7 555.5,278.5 535.0,275.3 547.7,267.5 555.1,280.3 542.7,272.8 549.8,276.8 551.0,272.4 555.0,280.0 538.6,278.6 550.7,271.7 545.2,277.4 551.4,264.9 553.8,283.2 549.1,281.1 544.4,290.5 545.1,275.3 554.3,285.0 552.0,268.1 540.5,276.3 552.0,276.3 540.6,282.8 573.7,277.1 545.1,286.4 547.0,277.9 563.1,273.2 558.6,271.4 565.9,284.4 545.9,276.9 548.8,277.9 558.8,272.0 552.3,280.8 549.2,264.8 568.9,274.8 558.9,277.4 546.5,289.0 547.6,285.6 556.0,278.6 549.6,279.4 544.0,279.1 553.9,273.6 556.2,276.9 548.9,270.0 542.8,262.9 545.9,282.6 543.2,276.5 544.3,276.3 562.7,264.0 540.2,282.9 553.9,264.6 573.8,280.5 534.3,278.9 546.3,282.8 540.5,281.2 565.0,275.2 554.5,271.1 559.5,268.0 554.3,269.4 553.7,277.4 559.1,284.5 555.1,276.4 551.7,269.0 547.6,268.0 559.7,273.1 558.7,277.4 553.2,279.0 561.9,279.8 542.0,280.6 537.3,283.1 565.5,274.4 540.2,271.7 543.9,276.6 559.4,260.7 550.0,275.3 546.1,280.8 538.3,275.3 547.6,277.3 558.4,272.7 560.8,274.3 559.6,265.7 559.7,281.9 542.3,272.5 562.3,278.0 537.9,273.1 555.6,283.3 539.0,280.1 547.8,277.7 543.1,275.9 536.5,280.5 547.9,279.5 555.7,280.1 566.0,262.8 544.2,284.7 557.2,273.8 541.5,275.1 550.8,276.7 552.5,271.8 554.1,268.3 551.9,271.8 534.8,277.2 550.1,268.1 543.5,276.5 548.4,275.1 552.3,266.3 557.8,274.3 551.0,257.8 551.7,275.4 553.0,285.1 548.0,275.8 546.3,273.8 539.8,282.1 567.5,259.9 548.1,263.7 546.1,287.1 535.8,291.0 556.1,277.0 553.2,272.9 541.6,274.8 551.0,278.5 551.7,276.4 547.6,282.6 553.7,283.3 547.9,283.5 541.5,271.0 546.0,281.7 543.0,274.2 551.2,279.2 545.6,281.2 547.9,273.4 556.6,280.8 545.2,268.6 549.1,279.4 558.9,285.0 551.5,278.1 557.0,272.9 544.3,281.5 547.8,275.2 553.7,267.4 538.0,291.7 565.1,275.0 533.9,289.8 539.5,282.1 551.1,273.3 539.2,273.0 559.8,279.4 556.0,268.3 560.5,285.5 548.8,275.7 552.3,272.7 557.9,282.9 564.9,283.9 535.6,282.0 542.9,291.4 545.3,280.0 565.5,267.0 546.8,277.2 541.5,288.4 550.8,291.1 538.8,282.8 556.4,266.5 553.7,280.5 549.9,273.6 568.4,274.2 556.5,276.6 545.6,271.3 550.8,274.7 561.0,273.4 545.1,272.7 556.3,272.2 545.6,279.1 543.7,271.4 548.5,269.6 553.1,258.2 549.8,282.5 533.5,286.4 554.7,287.1 544.3,278.8 546.0,282.7 545.5,280.5 563.8,275.5 534.6,275.0 554.1,280.1 547.1,275.6 530.5,285.9 554.8,271.1 547.9,276.8 559.7,259.8 559.4,270.7 548.8,272.8 550.9,275.3 557.0,281.4 543.5,286.4 560.3,275.8 553.8,263.0 559.1,271.5 557.3,277.1 552.5,276.5 545.6,279.6 560.1,266.5 557.2,280.7 544.5,277.4 536.0,285.7 546.1,267.9 539.7,279.6 562.6,267.7 541.6,278.7 535.9,288.0 552.3,254.3 537.6,275.8 548.5,282.3 535.0,292.1 547.6,285.4 561.1,270.7 556.9,270.3 551.6,284.4 542.3,275.3 547.8,277.4 556.0,276.7 555.4,268.7 552.3,283.3 545.8,276.8 557.7,279.5 558.7,266.8 558.3,275.7 539.0,273.2 562.4,271.8 547.3,278.2 551.6,268.2 547.4,277.8 553.9,280.9 542.4,269.0 548.8,284.8 551.6,284.3 553.8,267.3 549.2,273.8 565.0,271.2 550.7,266.8 566.7,271.0 550.5,269.3 544.5,276.2 548.5,282.1 560.1,289.8 543.1,288.4 558.0,270.2 542.1,279.4 542.5,282.5 549.1,285.9 557.3,279.0 538.0,277.0 552.7,272.2 553.2,277.6 565.7,274.9 535.7,291.9 540.3,271.2 552.6,288.0 543.4,265.7 551.0,275.5 562.2,276.0 545.4,268.8 541.1,264.5 552.3,274.8 553.6,280.4 545.4,279.4 566.5,280.4 543.0,271.4 558.6,259.8 560.3,280.7 535.2,276.2 548.6,265.9 557.9,267.8 558.9,275.0 537.5,276.9 551.0,281.3 547.8,286.9 571.1,272.9 557.8,273.5 548.2,277.4 538.2,276.1 551.0,271.1 548.6,274.3 544.1,281.3 561.6,274.2 549.1,279.7 555.7,277.7 558.6,279.2 551.6,272.8 537.2,278.6 562.1,277.5 565.1,268.0 545.4,270.9 545.7,267.3 567.4,263.4 551.5,279.2 549.0,271.2 551.4,268.4 543.8,280.4 544.9,271.4 561.2,284.6 552.5,281.4 549.4,279.6 556.8,277.5 551.8,276.4 541.8,274.8 556.8,272.1 565.1,271.6 549.3,274.0 544.2,269.7 557.0,271.8 553.8,282.4 549.7,283.9 552.7,274.9 542.7,277.9 547.0,267.3 553.7,279.5 562.1,269.7 554.8,278.8 545.8,282.6 551.4,276.3 554.1,276.2 553.4,271.9 569.4,273.9 559.0,263.8 557.3,270.2 539.7,286.1 548.6,275.3 541.3,281.4 551.9,283.8 543.2,281.9 555.9,275.3 543.2,274.8 551.0,283.6 552.6,270.7 533.1,282.0 544.8,280.8 548.2,270.0 560.3,267.9 544.9,270.5 542.7,267.9 537.2,281.8 538.5,279.5 532.6,284.4 554.6,281.4 547.7,282.4 560.9,273.7 556.5,275.1 550.9,276.6 547.5,276.3 554.1,280.4 552.2,279.9 547.5,267.3 558.8,265.5 540.4,268.8 556.3,284.9 548.6,285.5 554.5,257.8 544.0,282.0 551.5,277.6 535.8,286.0 572.5,260.8 551.8,281.7 550.2,265.7 544.7,277.4 548.6,283.8 565.2,277.1 561.3,266.7 548.7,276.7 547.1,276.6 542.2,279.6 560.0,267.8 556.4,273.2 544.7,289.5 556.0,278.2 556.2,271.4 557.6,282.7 568.5,254.5 559.4,271.2 543.7,271.9 559.1,276.5 558.7,268.1 549.0,255.8 554.4,275.8 555.7,271.7 547.6,270.6 540.2,272.3 543.5,289.6 552.8,268.6 549.5,282.1 558.9,277.1 548.1,280.2 538.2,286.3 546.1,273.6 548.4,267.2 550.5,272.1 565.5,272.3 548.6,279.2 557.3,285.0 552.5,270.2 561.7,279.0 549.9,279.9 542.8,275.0 552.0,278.1 534.8,281.6 542.1,284.1 547.8,269.4 541.5,279.5 542.5,287.0 557.7,269.9 544.1,271.6 551.2,278.6 564.7,279.5 554.3,266.1 559.3,276.1 566.9,285.8 548.8,279.2 565.6,264.4 558.2,281.8 539.3,285.4 548.3,276.8 538.6,276.0 558.2,277.8 550.6,280.0 554.0,262.2 541.1,285.0 555.5,263.0 560.7,272.6 556.4,271.7 554.6,268.1 563.7,255.2 542.0,278.9 560.3,269.5 543.3,282.4 553.7,276.0 545.1,281.9 549.0,267.4 560.4,269.1 552.4,279.1 550.9,273.7 565.7,272.2 535.4,272.9 535.2,291.1 545.8,281.9 552.1,266.4 544.0,276.6 555.9,273.2 556.9,275.8 562.5,286.7 563.2,270.7 561.4,269.2 566.2,269.8 558.9,273.5 539.8,284.4 552.8,279.4 556.7,281.9 554.8,279.2 559.2,270.2 558.4,275.0 549.7,289.7 562.2,262.7 556.2,268.1 557.6,275.7 549.7,278.9 546.0,271.0 549.9,281.8 547.7,271.5 530.7,287.2 556.8,278.8 559.7,266.3 558.8,274.6 549.2,279.2 566.9,267.3 564.4,257.1 559.0,272.4 547.7,274.9 559.1,281.2 551.8,279.2 566.0,267.0 552.5,275.9 561.1,263.0 556.5,271.9 543.8,275.6 554.0,287.5 543.9,284.8 551.8,286.0 541.2,281.5 549.8,265.8 548.2,283.9 551.8,281.0 541.4,288.1 546.0,269.2 542.2,289.6 532.9,285.0 550.8,272.2 542.4,271.4 566.1,271.6 546.2,272.5 540.1,283.7 557.6,263.5 551.8,285.8 553.8,282.4 542.5,272.8 544.2,270.8 533.5,288.4 546.2,268.0 542.0,270.5 565.1,269.0 559.2,271.3 550.4,267.6 545.5,269.7 554.5,271.6 538.5,275.7 557.6,271.2 545.3,279.2 556.3,273.8 565.0,274.0 553.4,280.9 553.0,275.6 550.5,286.8 533.5,277.7 548.4,272.5 543.4,288.8 560.4,265.2 560.8,282.1 552.9,268.5 536.9,266.9 555.5,263.3 554.8,275.3 552.8,263.3 561.1,257.4 534.2,276.0 550.5,276.7 558.0,268.8 537.1,281.4 552.9,274.6 546.0,271.7 536.7,270.8 542.0,273.5 548.2,263.6 554.2,275.5 545.0,286.1 558.8,284.3 567.3,277.6 545.2,264.5 560.7,265.8 549.4,284.9 552.6,264.5 548.8,287.7 569.2,285.3 555.7,273.4 561.8,266.5 562.1,265.1 544.4,277.5 552.8,285.1 544.8,286.0 543.7,271.8 552.7,280.2 554.4,272.8 558.7,268.7 562.9,264.9 570.3,266.9 546.0,279.2 553.0,279.0 569.3,275.9 545.9,276.7 545.9,271.1 548.2,289.2 547.7,277.3 545.5,279.2 537.9,282.4 549.0,276.5 551.1,285.3 551.2,280.9 549.7,274.7 545.7,279.4 552.9,280.6 555.8,262.9 553.0,270.2 549.8,279.5 545.6,275.3 541.3,284.4 561.3,272.8 560.3,282.8 553.8,285.2 570.9,271.3 546.1,284.9 544.2,279.5 553.5,268.2 546.9,274.4 541.5,273.4 555.0,278.9 546.3,275.4 546.1,269.5 547.0,283.8 553.7,280.9 544.6,279.0 542.3,277.7 555.4,266.3 552.0,278.2 562.8,273.4 573.2,262.8 542.6,274.0 552.3,273.8 549.8,269.0 549.0,265.2 555.6,285.9 548.1,276.0 535.1,273.5 551.3,287.2 548.2,288.6 553.4,275.4 546.2,281.0 551.0,275.7 552.3,266.9 550.2,268.0 550.7,275.8 546.6,271.5 553.6,279.5 545.1,273.6 554.0,272.4 538.8,276.3 538.8,283.5 560.4,269.8 556.0,267.6 554.3,278.6 550.7,270.0 551.5,279.2 550.8,258.8 544.6,278.0 530.8,290.8 539.6,270.3 541.7,275.5 559.8,271.3 551.9,273.1 542.1,279.4 534.3,269.5 561.8,275.9 542.3,276.0 554.1,278.7 552.1,275.1 554.7,273.3 535.9,275.8 533.4,280.9 567.1,273.6 561.1,271.9 541.5,277.1 554.5,257.0 568.3,263.3 548.9,268.1 545.3,271.7 560.2,278.8 547.4,278.8 549.3,282.4 555.8,278.4 560.7,269.1 555.2,278.4 557.8,264.9 558.6,281.6 570.5,276.0 556.6,264.9 550.4,267.9 538.7,289.4 568.8,264.2 546.6,269.8 535.0,282.5 553.9,281.4 555.8,275.7 551.8,281.9 543.6,276.0 550.9,278.0 553.8,282.5 556.3,264.3 560.4,280.7 560.5,269.3 559.0,275.2 541.1,272.3 567.7,266.5 561.1,277.5 561.0,276.2 557.7,267.9 556.2,274.8 543.8,269.5 551.8,275.6 547.7,280.8 551.7,285.8 547.1,271.0 541.7,281.1 555.3,268.0 550.8,273.4 548.1,261.6 536.4,272.4 561.9,281.0 548.5,268.5 555.5,277.4 556.6,266.9 550.7,267.8 552.0,269.6 557.7,275.8 545.7,287.7 552.9,280.3 547.0,282.2 543.5,272.2 533.4,288.9 544.1,281.4 567.2,270.4 552.9,273.9 544.1,279.8 538.7,280.1 538.8,276.6 555.8,265.7 546.6,273.9 559.0,274.0 538.6,273.4 549.1,277.8 535.5,268.9 567.3,263.1 547.2,271.0 546.5,268.6 532.9,285.4 568.8,273.3 544.2,280.2 555.9,263.5 548.8,271.8 545.2,284.3 555.8,273.0 558.9,282.4 540.0,293.4 538.1,281.3 552.5,277.2 559.8,274.0 545.5,285.2 548.8,266.9 536.3,271.7 547.8,274.7 551.7,283.4 552.3,285.8 548.0,289.1 554.1,279.1 568.6,279.2 547.2,280.2 553.8,289.6 547.2,285.4 559.0,277.0 553.9,280.2 546.4,271.0 540.4,278.4 558.1,284.5 549.3,272.1 550.1,285.5 548.3,261.7 564.0,271.3 550.2,272.0 558.5,273.8 555.2,275.6 549.9,274.1 562.2,277.9 563.8,279.3 555.6,237.9 559.4,248.3 554.5,250.5 548.4,249.9 543.2,251.7 569.1,251.4 572.0,251.4 573.6,255.0 539.9,257.3 535.4,262.2 525.2,267.2 578.1,269.0 579.2,275.7 582.1,279.8 577.4,282.0 520.7,281.3 524.1,280.7 524.1,285.8 525.2,289.2 533.1,293.3 541.0,296.0 556.3,294.8 556.3,298.0 551.1,293.3 568.0,287.0" fill="none" stroke="none" marker-start="url(#pt)" marker-mid="url(#pt)" marker-end="url(#pt)"/>
<rect x="518.90" y="236.40" width="69.60" height="63.40" fill="none" stroke="#000" stroke-width="0.75"/>
<path d="M600.16 299.80V298.97H604.03V299.80ZM604.03 299.80V296.61H607.90V299.80ZM607.90 299.80V292.45H611.77V299.80ZM611.77 299.80V280.38H615.64V299.80ZM615.64 299.80V274.83H619.51V299.80ZM619.51 299.80V268.45H623.38V299.80ZM623.38 299.80V272.34H627.25V299.80ZM627.25 299.80V276.22H631.12V299.80ZM631.12 299.80V281.35H634.99V299.80ZM634.99 299.80V292.45H638.86V299.80ZM638.86 299.80V295.64H642.73V299.80ZM642.73 299.80V296.89H646.60V299.80ZM646.60 299.80V298.69H650.47V299.80ZM650.47 299.80V299.25H654.34V299.80ZM654.34 299.80V299.66H658.21V299.80ZM658.21 299.80V299.66H662.07V299.80ZM662.07 299.80V299.66H665.94V299.80Z" fill="#999999"/>
<rect x="597.50" y="236.40" width="69.15" height="63.40" fill="none" stroke="#000" stroke-width="0.75"/>
<path d="M447.32 17.05L447.32 11.75" stroke="#000" stroke-width="0.75" fill="none"/>
<path d="M461.83 17.05L461.83 11.75" stroke="#000" stroke-width="0.75" fill="none"/>
<path d="M476.35 17.05L476.35 11.75" stroke="#000" stroke-width="0.75" fill="none"/>
<path d="M490.86 17.05L490.86 11.75" stroke="#000" stroke-width="0.75" fill="none"/>
<path d="M505.37 17.05L505.37 11.75" stroke="#000" stroke-width="0.75" fill="none"/>
<path d="M607.41 17.05L607.41 11.75" stroke="#000" stroke-width="0.75" fill="none"/>
<path d="M626.83 17.05L626.83 11.75" stroke="#000" stroke-width="0.75" fill="none"/>
<path d="M646.25 17.05L646.25 11.75" stroke="#000" stroke-width="0.75" fill="none"/>
<path d="M665.68 17.05L665.68 11.75" stroke="#000" stroke-width="0.75" fill="none"/>
<path d="M375.21 299.80L375.21 305.10" stroke="#000" stroke-width="0.75" fill="none"/>
<path d="M390.44 299.80L390.44 305.10" stroke="#000" stroke-width="0.75" fill="none"/>
<path d="M405.67 299.80L405.67 305.10" stroke="#000" stroke-width="0.75" fill="none"/>
<path d="M420.90 299.80L420.90 305.10" stroke="#000" stroke-width="0.75" fill="none"/>
<path d="M531.00 299.80L531.00 305.10" stroke="#000" stroke-width="0.75" fill="none"/>
<path d="M545.23 299.80L545.23 305.10" stroke="#000" stroke-width="0.75" fill="none"/>
<path d="M559.46 299.80L559.46 305.10" stroke="#000" stroke-width="0.75" fill="none"/>
<path d="M573.70 299.80L573.70 305.10" stroke="#000" stroke-width="0.75" fill="none"/>
<path d="M587.93 299.80L587.93 305.10" stroke="#000" stroke-width="0.75" fill="none"/>
<path d="M361.50 146.74L356.20 146.74" stroke="#000" stroke-width="0.75" fill="none"/>
<path d="M361.50 133.28L356.20 133.28" stroke="#000" stroke-width="0.75" fill="none"/>
<path d="M361.50 119.82L356.20 119.82" stroke="#000" stroke-width="0.75" fill="none"/>
<path d="M361.50 106.37L356.20 106.37" stroke="#000" stroke-width="0.75" fill="none"/>
<path d="M361.50 92.91L356.20 92.91" stroke="#000" stroke-width="0.75" fill="none"/>
<path d="M361.50 290.72L356.20 290.72" stroke="#000" stroke-width="0.75" fill="none"/>
<path d="M361.50 272.91L356.20 272.91" stroke="#000" stroke-width="0.75" fill="none"/>
<path d="M361.50 255.10L356.20 255.10" stroke="#000" stroke-width="0.75" fill="none"/>
<path d="M361.50 237.29L356.20 237.29" stroke="#000" stroke-width="0.75" fill="none"/>
<path d="M666.65 67.65L671.95 67.65" stroke="#000" stroke-width="0.75" fill="none"/>
<path d="M666.65 53.71L671.95 53.71" stroke="#000" stroke-width="0.75" fill="none"/>
<path d="M666.65 39.77L671.95 39.77" stroke="#000" stroke-width="0.75" fill="none"/>
<path d="M666.65 25.83L671.95 25.83" stroke="#000" stroke-width="0.75" fill="none"/>
<path d="M666.65 215.61L671.95 215.61" stroke="#000" stroke-width="0.75" fill="none"/>
<path d="M666.65 202.45L671.95 202.45" stroke="#000" stroke-width="0.75" fill="none"/>
<path d="M666.65 189.30L671.95 189.30" stroke="#000" stroke-width="0.75" fill="none"/>
<path d="M666.65 176.14L671.95 176.14" stroke="#000" stroke-width="0.75" fill="none"/>
<path d="M666.65 162.98L671.95 162.98" stroke="#000" stroke-width="0.75" fill="none"/>
<g style="mix-blend-mode:multiply;will-change:transform" stroke="#000" stroke-width="0.22">
<text transform="translate(54.30 35.40) scale(1 1.05)" font-size="12.75" stroke-width="0.1">TW</text>
<text transform="translate(54.20 47.80) scale(1 1.08)" font-size="12.75" stroke-width="0.1">H<tspan font-size="8.2" dy="-3.85">2</tspan><tspan dy="3.85">=0.36</tspan></text>
<text transform="translate(126.20 107.95) scale(1 1.05)" font-size="12.75" stroke-width="0.1">MH</text>
<text transform="translate(126.00 120.50) scale(1 1.08)" font-size="12.75" stroke-width="0.1">H<tspan font-size="8.2" dy="-3.85">2</tspan><tspan dy="3.85">=0.50</tspan></text>
<text transform="translate(205.80 181.35) scale(1 1.05)" font-size="12.75" stroke-width="0.1">SV</text>
<text transform="translate(210.30 193.80) scale(1 1.08)" font-size="12.75" stroke-width="0.1">H<tspan font-size="8.2" dy="-3.85">2</tspan><tspan dy="3.85">=0.64</tspan></text>
<text transform="translate(287.80 254.45) scale(1 1.05)" font-size="12.75" stroke-width="0.1">W</text>
<text transform="translate(287.40 266.70) scale(1 1.08)" font-size="12.75" stroke-width="0.1">H<tspan font-size="8.2" dy="-3.85">2</tspan><tspan dy="3.85">=0.58</tspan></text>
<text x="101.95" y="5.95" font-size="8.3">3</text>
<text x="118.76" y="5.95" font-size="8.3">4</text>
<text x="135.57" y="5.95" font-size="8.3">5</text>
<text x="152.37" y="5.95" font-size="8.3">6</text>
<text x="257.48" y="5.95" font-size="8.3">100</text>
<text x="283.07" y="5.95" font-size="8.3">300</text>
<text x="308.65" y="5.95" font-size="8.3">500</text>
<text x="24.62" y="316.60" font-size="8.3">65</text>
<text x="41.35" y="316.60" font-size="8.3">70</text>
<text x="58.07" y="316.60" font-size="8.3">75</text>
<text x="74.79" y="316.60" font-size="8.3">80</text>
<text x="181.61" y="316.60" font-size="8.3">8</text>
<text x="200.53" y="316.60" font-size="8.3">12</text>
<text x="219.44" y="316.60" font-size="8.3">16</text>
<text x="238.36" y="316.60" font-size="8.3">20</text>
<text x="6.65" y="147.64" font-size="8.3" transform="rotate(-90 6.65 147.64)">3</text>
<text x="6.65" y="131.86" font-size="8.3" transform="rotate(-90 6.65 131.86)">4</text>
<text x="6.65" y="116.07" font-size="8.3" transform="rotate(-90 6.65 116.07)">5</text>
<text x="6.65" y="100.28" font-size="8.3" transform="rotate(-90 6.65 100.28)">6</text>
<text x="6.65" y="293.54" font-size="8.3" transform="rotate(-90 6.65 293.54)">100</text>
<text x="6.65" y="269.93" font-size="8.3" transform="rotate(-90 6.65 269.93)">300</text>
<text x="6.65" y="246.32" font-size="8.3" transform="rotate(-90 6.65 246.32)">500</text>
<text x="337.45" y="74.18" font-size="8.3" transform="rotate(-90 337.45 74.18)">65</text>
<text x="337.45" y="58.74" font-size="8.3" transform="rotate(-90 337.45 58.74)">70</text>
<text x="337.45" y="43.30" font-size="8.3" transform="rotate(-90 337.45 43.30)">75</text>
<text x="337.45" y="27.86" font-size="8.3" transform="rotate(-90 337.45 27.86)">80</text>
<text x="337.45" y="219.18" font-size="8.3" transform="rotate(-90 337.45 219.18)">8</text>
<text x="337.45" y="201.41" font-size="8.3" transform="rotate(-90 337.45 201.41)">12</text>
<text x="337.45" y="183.64" font-size="8.3" transform="rotate(-90 337.45 183.64)">16</text>
<text x="337.45" y="165.87" font-size="8.3" transform="rotate(-90 337.45 165.87)">20</text>
<text transform="translate(401.10 35.85) scale(1 1.05)" font-size="12.75" stroke-width="0.1">WG</text>
<text transform="translate(400.40 48.20) scale(1 1.08)" font-size="12.75" stroke-width="0.1">H<tspan font-size="8.2" dy="-3.85">2</tspan><tspan dy="3.85">=0.40</tspan></text>
<text transform="translate(478.20 107.85) scale(1 1.05)" font-size="12.75" stroke-width="0.1">MT</text>
<text transform="translate(475.80 120.50) scale(1 1.08)" font-size="12.75" stroke-width="0.1">H<tspan font-size="8.2" dy="-3.85">2</tspan><tspan dy="3.85">=0.51</tspan></text>
<text transform="translate(556.20 181.15) scale(1 1.05)" font-size="12.75" stroke-width="0.1">Pt</text>
<text transform="translate(556.50 192.60) scale(1 1.08)" font-size="12.75" stroke-width="0.1">H<tspan font-size="8.2" dy="-3.85">2</tspan><tspan dy="3.85">=0.45</tspan></text>
<text transform="translate(631.70 254.45) scale(1 1.05)" font-size="12.75" stroke-width="0.1">L</text>
<text transform="translate(630.00 266.40) scale(1 1.08)" font-size="12.75" stroke-width="0.1">H<tspan font-size="8.2" dy="-3.85">2</tspan><tspan dy="3.85">=0.47</tspan></text>
<text x="447.32" y="5.95" font-size="8.3">4</text>
<text x="461.83" y="5.95" font-size="8.3">6</text>
<text x="476.35" y="5.95" font-size="8.3">8</text>
<text x="490.86" y="5.95" font-size="8.3">10</text>
<text x="607.41" y="5.95" font-size="8.3">50</text>
<text x="626.83" y="5.95" font-size="8.3">100</text>
<text x="665.68" y="5.95" font-size="8.3">200</text>
<text x="375.21" y="316.60" font-size="8.3">25</text>
<text x="390.44" y="316.60" font-size="8.3">30</text>
<text x="405.67" y="316.60" font-size="8.3">35</text>
<text x="420.90" y="316.60" font-size="8.3">40</text>
<text x="531.00" y="316.60" font-size="8.3">11</text>
<text x="559.46" y="316.60" font-size="8.3">13</text>
<text x="587.93" y="316.60" font-size="8.3">15</text>
<text x="350.05" y="146.74" font-size="8.3" transform="rotate(-90 350.05 146.74)">4</text>
<text x="350.05" y="133.28" font-size="8.3" transform="rotate(-90 350.05 133.28)">6</text>
<text x="350.05" y="119.82" font-size="8.3" transform="rotate(-90 350.05 119.82)">8</text>
<text x="350.05" y="106.37" font-size="8.3" transform="rotate(-90 350.05 106.37)">10</text>
<text x="350.05" y="290.72" font-size="8.3" transform="rotate(-90 350.05 290.72)">50</text>
<text x="350.05" y="272.91" font-size="8.3" transform="rotate(-90 350.05 272.91)">100</text>
<text x="350.05" y="237.29" font-size="8.3" transform="rotate(-90 350.05 237.29)">200</text>
<text x="684.70" y="67.65" font-size="8.3" transform="rotate(-90 684.70 67.65)">25</text>
<text x="684.70" y="53.71" font-size="8.3" transform="rotate(-90 684.70 53.71)">30</text>
<text x="684.70" y="39.77" font-size="8.3" transform="rotate(-90 684.70 39.77)">35</text>
<text x="684.70" y="25.83" font-size="8.3" transform="rotate(-90 684.70 25.83)">40</text>
<text x="684.70" y="215.61" font-size="8.3" transform="rotate(-90 684.70 215.61)">11</text>
<text x="684.70" y="189.30" font-size="8.3" transform="rotate(-90 684.70 189.30)">13</text>
<text x="684.70" y="162.98" font-size="8.3" transform="rotate(-90 684.70 162.98)">15</text>
</g>
</svg>
</body></html>
